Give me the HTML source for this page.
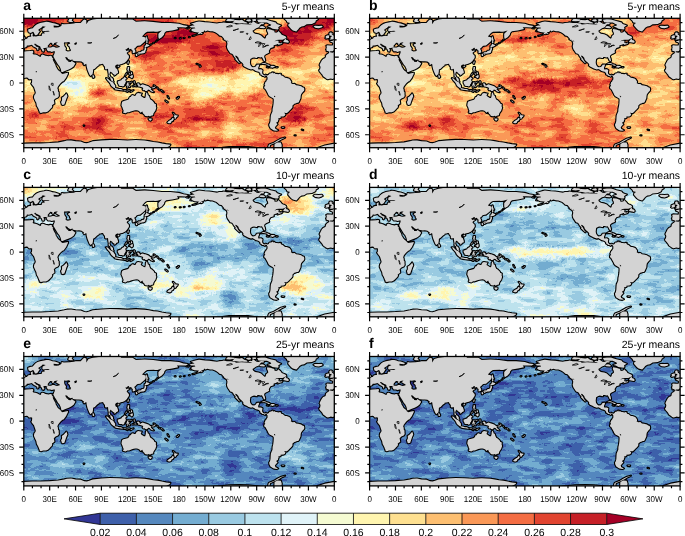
<!DOCTYPE html><html><head><meta charset="utf-8"><style>html,body{margin:0;padding:0;background:#fff}body{width:685px;height:536px;overflow:hidden}svg{display:block}text{font-family:"Liberation Sans",Arial,Helvetica,sans-serif;fill:#000;text-rendering:geometricPrecision}</style></head><body>
<svg width="685" height="536" viewBox="0 0 685 536">
<defs>
<clipPath id="mc"><rect x="0" y="0" width="310.5" height="129.4"/></clipPath>
<filter id="bl" x="-5%" y="-5%" width="110%" height="110%" color-interpolation-filters="sRGB"><feGaussianBlur in="SourceGraphic" stdDeviation="2.6" result="b"/><feTurbulence type="fractalNoise" baseFrequency="0.35" numOctaves="2" seed="7" result="t"/><feDisplacementMap in="b" in2="t" scale="7" xChannelSelector="R" yChannelSelector="G" result="d"/><feTurbulence type="fractalNoise" baseFrequency="0.06 0.16" numOctaves="3" seed="11" result="t2"/><feColorMatrix in="t2" type="matrix" values="1 0 0 0 0 1 0 0 0 0 1 0 0 0 0 0 0 0 0 1" result="g"/><feComposite in="d" in2="g" operator="arithmetic" k1="0" k2="1" k3="0.3" k4="-0.15" result="v"/><feComponentTransfer in="v"><feFuncR type="discrete" tableValues="0.1922 0.2431 0.3333 0.4549 0.6000 0.7412 0.8784 0.9608 1.0000 0.9961 0.9922 0.9804 0.9569 0.8824 0.7765 0.6471"/><feFuncG type="discrete" tableValues="0.2118 0.3765 0.5333 0.6784 0.7922 0.8863 0.9529 0.9843 0.9608 0.8784 0.7490 0.5961 0.4275 0.2667 0.1255 0.0000"/><feFuncB type="discrete" tableValues="0.5843 0.6667 0.7451 0.8196 0.8824 0.9333 0.9725 0.8235 0.6863 0.5647 0.4431 0.3412 0.2627 0.1882 0.1529 0.1490"/><feFuncA type="linear" slope="0" intercept="1"/></feComponentTransfer></filter>
<g id="land"><path d="M-145.3 18.9L-144.5 18.7L-144.6 18.6L-145.4 18.8ZM-150.5 19.8L-149.6 19.6L-149.8 19.5L-150.6 19.7ZM-154.4 20.1L-153.5 19.9L-153.7 19.8L-154.5 20ZM-159.6 19.9L-158.7 19.8L-158.9 19.6L-159.6 19.8ZM126.8 26.4L127.7 26.1L127.5 25.9L126.7 26.3ZM129.4 24.9L130.2 24.6L130.1 24.5L129.3 24.8ZM132 23.3L132.8 22.9L132.7 22.8L131.9 23.2ZM133.7 21.7L134.6 21.4L134.4 21.3L133.6 21.6ZM-52.6 109L-50 109.1L-50.5 109.6L-52 109.6ZM-32.6 111.4L-31.1 111.8L-31.6 111.6ZM-39.8 117L-38.6 117.1L-39.2 117.2ZM-134.6 47.3L-133.5 47.9L-134.4 48.4L-134.6 47.7ZM-137.8 45.5L-136 46.1L-134.6 46.7L-135.7 46.4ZM-148.2 9.7L-145.8 10.2L-145.6 10L-147.5 10ZM-144 12.8L-142.7 13L-143.6 12.6ZM59.8 107.1L60.5 107.2L60.1 107.5ZM-5.1 33.8L-1.7 34.4L0.9 33.2L2.6 33L6.5 32.8L8.6 32.5L9.5 32.9L9.1 33.8L9.6 34.3L8.7 35.2L9.7 36.1L11.4 36.3L13.2 36.8L16.4 38.6L17.3 38L17.2 37.1L18.5 36.3L19.9 36.6L21.6 37.4L25 38L26.3 37.5L27.9 37.7L29.5 37.7L30.1 39.3L29.6 40.7L28.8 41.1L30.2 44L31.7 46.6L31.8 47.8L32.9 49.6L33.8 51.2L35.2 52.6L36.7 53.5L37.2 54.7L38.8 55.7L41.4 55L44.2 54.5L44.1 55.7L43.1 57.8L42.3 59.5L41.4 60.8L39.7 63L39.1 63L37.5 64.3L36.7 65L35.3 66.7L34.2 68.2L33.5 70L33.9 70.6L34.1 71.6L34.2 73.3L34.9 73.9L34.9 75.9L35.1 77.6L34.1 79.1L31.8 80.1L30 81.8L30.4 83.7L30.6 85.3L28.9 86.5L28.1 87L28.4 88L27.9 89.4L26.7 90.5L25.7 91.7L24.1 93.2L22.1 94L19.4 94L17.2 94.7L15.9 94.2L15.9 93.2L15.5 92.7L14.9 91L14.2 89.4L13.1 87.6L12.5 84.5L11.5 82.6L10.2 79.6L10.2 78.5L10.6 76.8L11.6 75.6L12 74.2L11.4 72.3L10.6 69.9L10.2 68.8L9.1 67.5L7.5 65.2L8.2 64.4L8.3 63L8.4 61.2L7.3 60.8L6 60.9L5.2 61L3.9 59.4L2.9 59.2L1.3 59.4L-0.2 60L-1.8 60.6L-3.5 60.1L-4.7 60.4L-6.5 60.9L-7.8 60.4L-9.3 59.3L-10.8 58.3L-11.4 57.4L-11.8 56.5L-12.6 55.6L-13.5 54.4L-14.5 53.5L-15.1 52L-14.2 50.9L-13.8 49.1L-14 47.9L-14.7 46.8L-14.1 45.3L-13.4 44L-12.5 42.2L-11.1 40.6L-9.1 39.7L-8.3 38.5L-8.5 37.5L-7.3 36.1L-6.6 35.7L-5.9 35.4L-5.2 34.1ZM42.5 75.1L43.1 76.3L43.6 77.9L43 79.4L42.6 80.2L42 82L41.4 83.7L40.6 86.2L39 86.7L38 86.3L37.7 84.9L37.3 83.7L38.2 82.2L38.3 80.2L38 79.4L39.9 78.2L41.2 76.8L41.8 76.3ZM-4.8 33.6L-5.4 33.2L-6.4 32.6L-7.7 32.8L-7.6 31.3L-8.2 31.2L-7.7 30L-7.5 29.2L-7.7 28L-8 27.6L-6.9 27L-4.3 27.2L-1.6 27.3L-1.2 26.2L-1 25L-1.9 24L-3.9 23.4L-4.1 22.9L-2.6 22.6L-1.4 22.7L-1.6 21.8L0 22.1L1.4 21L2.2 20.6L3.1 20.4L3.9 19.6L4.1 19L6 18.5L7.3 18.5L7.4 17.4L7 16.8L7.1 15.8L9.1 14.9L8.9 16.2L9.2 16.8L8.5 17.4L9.4 18.1L10.4 17.9L12.2 18.2L14.2 17.7L16 17.5L17.2 17.6L18.2 17.1L18.1 16L19 15L20.8 15.5L20.3 14.2L21.3 13.5L24.2 13.4L26 13L24.6 12.5L21.6 12.8L19.2 12.9L18.5 12.1L18.9 10.1L21.9 8.5L18.9 7.9L17.5 9.5L15.9 10.4L14.7 11.2L14.7 12.3L16.1 13.1L15.6 13.5L14.2 15.5L13.8 16.2L12.2 16.9L11.1 16.7L10.8 16L10.3 14.9L9.7 13.8L9.1 13.4L6.9 14.7L4.9 13.9L4.5 12.6L4.3 11.2L6.5 10.4L9 10L10.4 8.2L12.1 6.6L13.8 5.6L16.3 4.7L20.3 3.9L22.3 3.4L24.6 3.6L26.7 4.1L28.5 4.8L31.1 5.1L35.4 6.6L34.5 7.8L29.8 7.3L30 9.1L32.7 9.3L34.9 9L37.5 7.6L38 5.6L40.1 6L45.7 5.7L50 5.3L51.8 4.7L56.9 4.7L59.1 2.2L60.4 1.3L62.5 1.9L62.5 6L64.7 2.6L69 1.3L75 0.4L81.9 -1.3L94.9 -1.7L97.5 1.3L108.7 1.3L112.1 3.5L120.8 3L129.4 3.6L138 4.7L146.6 4.7L155.2 5.5L159.6 6.9L163.9 7.6L164.1 7.7L162.2 9.1L157 8.9L153.1 8.9L154.4 10.8L148.3 12.1L142.3 12.9L140.6 14.7L140.2 16.4L138 19L135.2 20.7L134.6 19L134.6 15.5L138 12.1L133.7 13.4L131.1 13.5L130.1 13.3L123.3 13.5L121.4 14.7L118.2 18.1L121.9 19.1L122 21.6L121 23.3L119 25L116.4 27.2L113.8 27.5L112.7 28.2L111.9 29.3L110.4 30.4L111.6 32.8L111.5 34.2L109.1 35L108.8 33.6L109.2 32.4L108 31.9L107.4 30.4L104.9 31.1L105.4 29.8L104.4 29.5L102.6 30.9L101.5 31.1L102.5 32.4L102.8 32.7L104.1 32.1L105.7 32.5L103.8 33.6L102.8 34.8L104.2 36.7L105.1 37.4L105.1 38.1L105.2 39L104.7 40.1L103.5 41.8L102.9 42.7L101.5 44L100.5 44.7L98.5 45.5L97.9 45.6L95.7 46.2L95.1 47.2L94.6 46.2L93.6 46.1L92 46.8L91.3 48.3L92 50L93.3 50.8L94.2 53.5L94.2 54.8L92.3 55.7L91.9 56.5L90.6 57.3L90.6 56.1L89.3 55.6L88.2 54.2L87 53.7L86.7 53.1L86.2 53.9L85.6 56.1L86.6 58.5L87.5 59.1L88.2 59.4L89.2 60.9L89.2 62.5L89.9 63.5L89.2 63.5L87.4 62.3L86.5 60L86.6 59.1L84.8 57.9L85 56.1L84.5 53.5L84.2 50.5L82.2 51.1L81.3 50.6L81.2 48.5L80.1 47.3L79.2 45.5L78.1 45.7L76.8 46L75 46.3L75 47L73.3 48.1L71 50.4L69.3 51.3L69.2 53.5L68.8 55.8L67.4 57L66.8 57.7L65.8 56.5L64.7 53.9L63.7 51.4L62.9 48.3L62.7 46.5L62.4 45.5L60.4 46.8L59.5 45.5L60.4 44.9L59.1 44.3L57.8 43.3L55.2 42.9L53.1 43L50.7 42.7L49.4 42.4L48.6 41.2L46.6 41.8L44.4 40.6L43.4 39.3L42.1 38.8L41.4 39.3L42.8 41.4L43.3 42.3L44.4 42.2L44.5 43.5L46.9 43.7L48.3 42.3L48.6 41.9L48.6 43.2L50.5 44.3L51.6 45.3L50.5 47L49.8 48.3L47.4 50L45 51.2L42.3 52.2L38.8 53.7L37.6 53.7L37.2 51.8L36.9 50.5L35.7 47.9L34.2 46.2L32.7 43.6L30.9 40.7L30.2 39.3L29.6 40.7L28 38.8L27.9 37.8L29.8 37.4L30 37L30.3 36.1L30.6 35.5L31 34.1L31.1 33L29.8 33L28 33.6L26.4 33L24.2 33L23.5 32L22.9 30.8L22.6 30.1L25 29.3L27.2 29.2L28.7 28.5L30.4 28.5L31.3 29.1L33.2 29.4L35.9 28.8L36 28L34.2 27.1L32.6 26.1L31.7 25.7L33 25L33.9 24L32.2 24.2L30.4 24.7L30 25.3L30.5 25.8L28.9 26.4L27.9 25.5L29 24.8L26.7 24.4L26.3 24.6L25.5 25.6L24.6 26.6L23.9 27.4L24.1 28.8L25 29.2L22.6 29.5L20.7 29.6L19.8 29.8L19.5 29.9L19.8 30.8L20.7 31.9L19.8 32.4L20 33.3L19.4 33.3L18.7 33L18.4 32.1L18.2 31.7L17.9 30.9L17.1 30.3L16.7 29.8L16.8 28.6L16 28L14.2 27.2L13.1 26.5L12.1 26L11.7 25.4L10.6 25.5L10.7 26.6L11.7 27.1L12.2 28.1L13.8 28.6L14.6 29.2L16 30.1L14.8 29.8L14.3 30.5L14.7 31.1L13.9 31.9L13.5 31.7L13.6 30.6L12.9 30L12.3 29.5L10.8 28.8L9.6 28.1L8.9 27.2L7.7 26.4L6.3 27L4.7 27.3L3.5 27.2L2.7 27.6L2.8 28.6L1.9 29L0.8 29.3L-0.3 30.6L0.2 31.3L-0.4 31.7L-0.7 32.3L-1.8 33L-3.8 33ZM-4.9 21.5L-3 21.3L-0.9 21L1.2 20.5L1.5 19.3L0.3 18.6L-0.1 17.7L-1.3 16.8L-1.7 16.4L-2.6 16.4L-1.8 15.4L-1.6 15L-3 14.9L-2.6 14.1L-4.3 14.1L-5 15.1L-4.8 16.1L-4.9 17L-4.1 17.4L-2.9 17.3L-3.1 17.7L-2.6 18.3L-2.7 18.7L-4 18.7L-3.6 19.2L-3.5 19.6L-4.6 20L-2.8 20.4L-3.6 20.5ZM-5.2 19.7L-5.3 18.7L-5.2 17.7L-5.1 17.1L-6.3 16.9L-7.3 17.3L-8.6 17.9L-8.5 18.6L-8 18.9L-9 19.8L-8.3 20.3L-6.9 20L-5.5 19.7ZM-19 9.5L-20.7 8.2L-19.4 7.4L-15.5 7.6L-12.5 7.4L-11.6 8.5L-12.9 9.2L-15.5 10L-18.1 9.7ZM44.4 3L46.1 3.7L49.6 3.8L47.9 2.2L48.7 0.4L50.9 -0.7L46.6 -0.7L44.9 1.7ZM112.9 35.4L113.9 35.1L116.4 34.9L116.5 35.5L118.1 35.1L119.7 34.9L120.6 34.6L121.5 33.9L121.6 32.8L122.1 31.7L122.5 30.6L122 29L121 29.2L120.8 30.2L120.6 31.5L119.5 32.5L118 32.5L117.3 33.8L114.7 34L113.4 34.9ZM120.8 28.9L121.8 28.6L123.5 28.5L125.8 27.3L125.3 26.6L122.4 25.4L122 26.9L121 27.4ZM112 35.8L113 35.5L113.8 36.7L113.2 37.7L112.4 37.8L111.9 36.6ZM114.3 36L115.1 35.1L116.2 35.2L115.8 36L114.7 36.5ZM122.5 25L123.8 24.6L123.5 22L124.6 22.4L123.6 20.7L123.3 19L123 17.9L122.5 18.5L122.2 20.3L122.6 22.4L122.4 24.5ZM104.4 43L105.2 43.1L104.4 45.7L103.7 45.1L103.6 44.4ZM93.7 48.1L95 47.4L95.7 47.8L94.5 49L93.8 48.7ZM68.9 56.5L69.2 56.2L70 57.4L70.6 58.7L69.9 59.5L69 59.4L68.8 57.8ZM104 48.7L105.4 48.7L105.2 50.9L104.9 51.8L105.2 52.6L107 53.5L106.3 53.5L104.4 52.8L104 52.3L103.5 50.9L103.8 50.5ZM105.2 58.7L106.5 58L107.8 56.9L108.9 56.7L109.1 58.7L108.7 59.3L108.1 59.9L107 59.1L105.7 58.2ZM107.2 53.8L108.2 54.1L108.4 55.2L107.8 56.1L107.2 55.5ZM105.2 54.5L106.2 55L105.7 55.6L105.1 55.6ZM105.7 55.4L106.5 55.6L106.3 56.8L105.6 56.3ZM106.9 55L107 55.3L106.4 56.4ZM103.9 53.1L104.8 53.3L104.5 54.2L103.8 53.8ZM102.6 54.9L103.2 55.5L102.4 56.4L101.1 57.5L101.3 57.2ZM94 63.1L94.5 63L95.9 62.5L97.5 61.9L98.3 60.7L99.5 60.1L100.1 59.5L100.7 58.7L101.5 59.2L102.9 60.1L101.9 60.7L101.5 61.5L101.8 62.8L102.6 63.8L101.7 64L101.3 65.4L100.6 66L100.5 66.9L100.1 67.8L98.8 68.2L98.3 67.6L96.4 67.6L95.1 67.2L94.9 66.2L94 64.7ZM82.2 59.9L84.1 60.2L85.1 61.4L86.6 62.8L88 63.5L89.5 64.3L90.1 65.6L91.4 67.3L91.3 69.7L90.2 69.8L88.2 68.2L87.1 66.9L86.5 65.4L85.4 63.8L84.1 62.5ZM90.7 70.6L91.4 69.8L93.4 70.1L95.2 70.7L97.2 70.7L98.7 71.4L98.8 72.2L95.7 71.8L93.2 71.4L91.7 71.1ZM98.8 71.7L99.8 71.9L99.4 72.3ZM100.1 71.9L102.6 71.8L102.6 72.3L100.1 72.4ZM103.3 72L106.1 71.8L105.9 72.2L103.4 72.3ZM102.6 72.9L104.2 73.2L103.8 73.6L102.6 73.2ZM106.5 73.6L107.4 72.6L109.8 71.9L107.8 73.2ZM103.1 69.5L103.8 69.4L103.8 67.1L104.4 67L105.2 68.8L106.3 68.8L105.6 67.5L104.6 66.3L106.3 65.6L104.9 65.4L103.8 64.3L104.8 64.3L106.5 63.9L108 63.3L107.4 64.4L104.4 63.7L103.5 64.1L103.3 64.9L102.9 66L102.5 67.1L103.2 67.8ZM110 63.1L110.4 62.8L111 63.4L110.6 64.3L111.1 64.4L110.3 65.4L110 64.3ZM110.3 67.3L112.1 67.1L112.8 68L110.6 67.8ZM108.7 67.5L109.7 67.5L109.4 68.1L108.7 67.9ZM113 65.8L113.2 65.4L114.3 65L115.6 65.5L115.7 66.4L116.4 67.5L117.3 66.7L118.9 66L120.8 66.8L121.6 66.9L124.6 68L125.8 69L127.2 70L127.6 70.5L126.8 70.9L127.7 71.8L129 73L130.1 73.8L128.9 73.7L127 72.9L125.9 71.6L124.2 71.3L123.6 72.5L122.9 72.7L121.6 72.6L120.8 71.7L119.5 71.9L118.8 71.1L119.5 70.6L118.9 69.3L116.4 68.5L115.1 68.1L114.5 68.2L113.9 67.2L114.9 66.8L113.9 66.4ZM127.9 69.4L129.4 69L130.7 68.8L131.3 68.3L131.1 69.4L129.8 70L128.1 69.9ZM129.8 66.9L131.1 67.5L132.1 68.7L131.8 68.8L130.9 68ZM133.3 69L134.1 69.7L134.6 70.6L133.9 70.3ZM135 71.2L136.3 71.8L135.7 72ZM137.1 71.6L138.9 72.6L138.4 73L137.1 72.1ZM138 72.7L138.7 73.2L138.2 73.2ZM139 73.5L140 73.9L139.3 74ZM143.6 77.6L144.3 78.1L144 78.9L145.2 80L145.3 80.2L144.5 78.8ZM141.5 82.1L142.7 82.8L144 83.9L143.6 84.1L141.9 82.8ZM152.9 79.8L154 79.6L154 80.4L153 80.3ZM154.2 78.8L155.2 78.6L155.2 79.2L154.4 79.3ZM149 94.4L150.3 95.2L150.8 96.4L151.4 96.2L151.8 97L154 97.2L153.4 98.5L152.6 98.8L152 100.1L151.1 100.6L150.8 100.3L150.9 99.2L149.9 98.5L150.6 97.5L150.5 96.5L149.6 95.3ZM149 99.6L149.6 100.1L150.3 100.2L150.2 100.8L149.6 101.5L149 102.3L149.3 102.5L147.9 102.8L147.3 104.3L146.3 104.9L145.2 104.9L143.6 104.4L143.9 103.7L145.1 102.7L146.6 101.8L147.7 101.3L148.2 100.5L148.4 99.9ZM124.8 100.2L127.8 100.2L127.9 101.3L126.8 102.4L125.6 102L124.9 100.8ZM98.4 83.5L97.9 85.4L97.7 87.1L98.8 89.5L99.2 91L99.8 92.3L99.7 93.4L99.2 93.7L99.2 94.3L101.7 95L103.5 93.9L105.2 93.9L107 93.2L108.7 92.6L111.3 92L113.2 91.9L114.7 92.4L115.7 93.1L116.8 94.5L117.3 94L118.6 93.2L118.9 94L118.2 94.9L119.1 94.2L119.5 95.4L120.5 96.2L121.2 97.5L122 97.8L123.8 98L125 97.4L126.2 98.3L127.2 97.5L129.3 97L129.5 95.5L130.4 93.9L131.5 92.5L132 91L132.5 89.4L132 88L132.2 86L130.5 85.3L130.1 84.1L128.8 82.8L128 82L126.6 81.3L125.9 79.8L125.4 78.5L125.3 77.6L123.9 76.8L123.8 75.7L122.9 73.9L122.1 75.5L122 77.6L121.4 79.8L120.1 79.7L118.2 78.4L116.9 77.5L117.3 76.3L118 75.2L116.9 75.1L114.4 74.6L113 75.2L112.8 75.5L112.3 76.2L111.7 77.5L110.4 77.6L109.1 76.8L107.8 77.3L107 78.8L106 78.8L105.4 80.2L104.4 81.5L102.6 82L100.9 82.5L100.1 82.6ZM-66.8 57.2L-65.5 56.5L-65.1 55.7L-64.5 55.2L-63 55L-62 54L-61.4 54.7L-61.2 55.2L-60.4 54.8L-60.5 54.3L-59.9 54.8L-58.7 55.6L-57.7 55.6L-55.6 55.9L-54.3 55.5L-53.4 55.5L-53.9 56L-52.6 57.4L-51.6 57.5L-50.2 58.8L-49.2 59.5L-47.6 59.6L-45.1 60.5L-44.4 61.1L-43.1 63.1L-43.1 64.3L-43.6 64.7L-41.8 65.8L-39.7 65.6L-38.2 66.9L-36.1 67.2L-33.2 67.9L-31.9 68.9L-30.4 69.4L-30 70.8L-30.2 72.5L-31.5 73.8L-33.2 75.9L-33.6 77.6L-33.8 80L-34.8 82.2L-35.4 83.7L-36.2 84.5L-37.3 84.5L-38.8 85.2L-39.9 85.4L-41.8 87.1L-41.9 89.3L-43.4 91L-45 92.5L-46.1 93.8L-47.4 94.8L-48.5 94.8L-49.9 94.5L-50.4 94.5L-49.4 95.3L-48.9 96.1L-49.6 97.5L-50.9 98.1L-53.7 98.3L-53.7 99.6L-56.1 99.9L-55.6 101.2L-56.1 101.8L-56.3 103.2L-58.2 104.4L-56.8 105.9L-58.2 107.4L-59.5 109.1L-59 109.8L-59.1 110.4L-56.2 111.9L-57.8 112.4L-60.4 112.1L-61.2 111.7L-63.8 110L-64.9 107.8L-65.1 106.1L-64.3 104.8L-63.8 102.7L-63.7 101.4L-63.6 99.2L-63.4 97L-62.7 95.3L-61.8 93.2L-61.7 90.6L-61.1 88L-60.7 85.1L-60.5 82L-60.6 80.5L-61.7 79.6L-64.7 77.9L-65.8 76.6L-66.4 75.1L-68.1 72L-68.9 70.6L-70 69.9L-70.1 68.7L-69.3 67.6L-68.9 67.2L-69.8 66.6L-69.1 64.7L-69 64L-68.1 63.4L-67.8 62.5L-66.8 61.3L-66.7 59.1L-67.2 58.5ZM-66.8 57.2L-68.6 56.4L-69.9 57.1L-70.7 56.8L-72 55.4L-72.2 53.9L-71.8 51.8L-73.3 50.9L-75.9 51.1L-76.2 49.6L-75.5 47.9L-75 46.2L-77.6 46.4L-78.1 47.6L-79.4 48.7L-81.5 49L-82.9 48.1L-84.1 46.2L-84.4 44L-84 40.7L-81.8 39.4L-80.2 39.1L-78.1 39.6L-76.9 39.7L-77.2 38.6L-75.5 38.6L-73.7 39.1L-72.5 38.8L-71.3 40.5L-70.6 42.2L-69.7 43L-69.1 42.4L-69.5 40.1L-70.2 38.6L-69.9 37.1L-68.1 35.7L-67.2 35.4L-65.1 34.3L-65.5 32.8L-65.2 32L-64.7 31.2L-63.8 29.8L-62.1 29.3L-60.8 28.8L-60.4 28.6L-60.9 28L-60.5 27L-58.7 26.4L-57.7 26.1L-56.9 25.7L-55.6 25.6L-56.8 27L-54.8 26.3L-52.6 25.7L-51.9 24.8L-53 24.2L-52.6 25.3L-55.6 24.8L-55.9 23.5L-55.4 22.6L-57.4 22.3L-59.9 23.3L-57.8 21.7L-55.2 21.4L-51.8 21.4L-49.2 20.3L-48 19.7L-48.3 18.5L-49.6 17.7L-51.3 17L-52.6 16.4L-53.5 15.1L-55.2 13.4L-55.8 12.7L-56.5 13.8L-58.2 14.4L-59.9 14L-59.9 12.5L-61.7 11.9L-63.8 11.2L-67 10.8L-67.3 12.5L-66.4 14.2L-66 16L-68.1 17.7L-68.6 19.8L-69.4 20.4L-71.2 19.1L-73.3 17.1L-75.9 16L-79.4 15.4L-81.2 14L-81.8 12.5L-80.2 11.4L-78.1 9.9L-75.9 9.3L-75 8.4L-74.3 7.3L-73.1 6L-70.7 6L-70.3 4.7L-73.3 4.5L-75.9 5.6L-77.6 5.3L-81.5 2.6L-82.8 6L-84.5 6.2L-88.8 6L-93.2 5.8L-98.3 6.2L-99.6 5.3L-103.5 4.8L-107.4 4.8L-110.4 4.1L-112.1 4.5L-115.1 4.7L-117.3 5.3L-121.6 4.7L-125.1 4.2L-129.4 3.9L-135.2 3.2L-138 3.8L-140.6 4.6L-143.3 5.3L-141.5 6L-139.7 7.1L-141.9 7.3L-144.9 8.1L-143.2 9.1L-139.7 9.1L-138.9 9.9L-141.9 10.4L-143.2 11.6L-141.9 12.9L-139.7 13.8L-136.3 14.1L-135.4 14L-136.7 16L-139.7 17.3L-141.9 17.6L-139.7 17L-136.3 16L-133.7 15.1L-132.4 13.8L-130.9 13.6L-129.8 11.9L-128.9 13.1L-126.8 12.2L-124.2 12.9L-121.6 13L-119 14L-117.7 14.7L-116 16L-114.7 17.3L-112.6 17.7L-110.4 20.3L-110 21.1L-108.2 21.6L-106.3 22.4L-105.7 23.3L-107.6 22.9L-107 24.8L-107 26.7L-107.4 27.8L-107.1 29.8L-106.1 31.9L-105.7 32.2L-105.1 33.2L-104 34.9L-102.2 35.4L-101.1 36.5L-100.7 37.5L-99.9 38.6L-98.5 40.1L-99.1 40.8L-96.8 43.1L-94.9 44.9L-94.4 44.4L-95.1 43.8L-96.2 42.3L-97.3 40.1L-98.8 38.4L-99 37.3L-97.5 37.8L-95.7 39.7L-95.7 40.6L-94.3 42.6L-91.8 44.7L-90.8 46.2L-91.1 47.1L-90 48.2L-87.1 49.6L-86.2 50.2L-83.2 51.2L-81.9 50.7L-80.2 51.5L-78.5 52.7L-76.8 53.1L-75.5 53.5L-74.6 54.3L-73.9 55.2L-74 56.1L-72.9 56.5L-72 57.5L-70.7 57.6L-69.3 58.4L-69 57.5L-68.6 57L-67.5 57.5L-67.2 58.5ZM-53.3 7.2L-55.2 8.2L-56.1 9.1L-55.6 10.4L-56.5 11.2L-58.7 11L-61.7 10.4L-64.3 9L-66.8 8.4L-63.4 7.3L-63 6.5L-64.7 5.6L-67.3 4.3L-72 4.3L-75.9 3.9L-77.2 1.5L-73.3 1L-69 1.1L-66.4 1.9L-63.8 2.8L-60.4 3.6L-58.7 4.1L-57.5 5.6L-55.2 6.5ZM-69 9.5L-70.3 9.9L-73.7 9.7L-75 9.1L-73.7 7.9L-72 7.8L-70.3 8.2ZM-86.7 5.2L-90.1 5.3L-91.9 5L-94.9 5.3L-97.9 4.7L-101.3 4.4L-101.8 3.6L-100.1 3L-101.3 2.2L-99.2 1.6L-94.9 1.9L-92.3 1.5L-90.1 3.2L-87.5 4.1ZM-104.4 3L-108.1 2.7L-107.4 1.3L-106.1 0.5L-101.8 0.9L-99.6 1.3L-101.3 2.6ZM-83.7 3L-85.8 3.2L-88.4 2.2L-87.1 1.3L-84.5 0.9L-83.2 1.7ZM-78.5 2.6L-81.5 2.6L-82.4 1.3L-80.2 0.7L-78.1 1ZM-82.4 5.3L-85 5.6L-85.8 4.7L-83.7 4.3L-82.4 4.7ZM-90.6 -0.4L-91.4 0.2L-94.9 0.4L-99.2 0.4L-100.9 -0.4ZM-69 -0.4L-69 0.3L-75.9 0.5L-79.4 0.2L-82.8 -0.4ZM-83.7 -0.4L-85 0.2L-87.1 0L-87.5 -0.4ZM-38 13.1L-41.4 12.1L-43.1 10.8L-44.4 9.3L-46.1 7.3L-45.7 5.6L-44 4.7L-47 3.9L-47.4 2.6L-49.2 0.9L-50.5 -0.4L-50.5 -1.3L-17.2 -1.3L-17.2 -0.4L-16.4 0.9L-18.5 2.2L-19 3.9L-22.4 5.6L-27.6 6L-30.2 7.8L-32.8 8.2L-34.9 9.5L-36.2 11.2L-37.5 12.5ZM-45.4 23.7L-46.1 24.5L-47.9 24.2L-51.2 23.6L-50.5 22.4L-49.6 21.1L-47.9 20.2L-48.3 21.6L-46.6 22L-45.7 22.9ZM-73.3 45.8L-71.6 44.9L-71 44.7L-69.4 44.8L-66.8 45.9L-65.2 46.5L-63.9 47.3L-65.1 47.5L-67 47.5L-66.4 46.8L-67.7 46.2L-69.4 45.8L-70.3 45.5L-71.2 45.7L-72.5 45.6ZM-64.3 48.8L-62.8 47.5L-60.4 47.6L-58.9 48.7L-60.3 48.8L-61.7 49.5L-62.8 49.1L-64.2 49ZM-67.5 48.8L-65.7 49.2L-66.2 49.3L-67.3 49ZM-58 48.7L-56.6 48.9L-56.8 49.2L-58 49.2ZM-110.7 20.9L-107.8 21.6L-106.3 22.9L-107.6 22.8L-109.5 21.6ZM-133.3 14.7L-131.4 14.7L-132.4 15.5L-133.3 15.7ZM-155.2 131.6L-146.6 132L-136.3 132L-129.4 131.1L-120.8 130.3L-112.1 129.6L-105.2 128.8L-94.9 128.7L-86.2 128.8L-79.4 129.6L-73.3 130.3L-66.4 130.3L-65.7 127.1L-65.1 126.2L-60.4 124.4L-56.9 122.3L-53.5 120.4L-49.2 119.2L-49.9 119.7L-53 121.1L-55.6 122.8L-58.2 124.1L-64.3 126.8L-64.9 130.3L-60 130.3L-59.7 125.6L-56.9 124.1L-53.5 124.2L-52.6 126.8L-52.8 130.3L-51.8 132L-34.5 132L-25.9 131.1L-17.2 129.9L-9.5 127.2L0 125.4L8.6 125.1L17.2 125.1L25.9 124.7L34.5 124.1L40.5 122.9L43.1 122.3L47.4 122.1L51.8 122.9L56.9 123.2L60.4 124.7L63 124.9L65.5 124.2L69 122.9L77.6 122.1L86.2 121.6L94.9 121.8L103.5 122.3L112.1 121.8L120.8 122.3L125.1 122.9L129.4 123.8L133.7 124.2L138 125.1L142.3 125.9L146.6 126.4L145.8 127.7L142.3 129.4L140.6 131.1L146.6 132L155.2 132L155.2 142.3L-155.2 142.3ZM40.1 24L42.3 24.2L44.8 23.8L46.1 24.2L46.4 25.4L44.7 25.8L44.5 26.5L43.9 26.5L44.9 27.6L46 28.5L46.1 29.3L46.2 30.2L47 31.1L47 32.7L44 33.3L42 32.5L41.8 31.5L42.2 30L41.3 28.6L40.5 27.6L40.5 26.3L40 25.4L40.5 24.8ZM50.5 24.6L53 24.6L52.6 26.3L50.9 26.7ZM165.2 18.9L166 18.7L165.9 18.6L165.1 18.8ZM160 19.8L160.9 19.6L160.7 19.5L159.9 19.7ZM156.1 20.1L157 19.9L156.8 19.8L156 20ZM150.9 19.9L151.8 19.8L151.6 19.6L150.9 19.8ZM437.3 26.4L438.2 26.1L438 25.9L437.2 26.3ZM439.9 24.9L440.7 24.6L440.6 24.5L439.8 24.8ZM442.5 23.3L443.3 22.9L443.2 22.8L442.4 23.2ZM444.2 21.7L445.1 21.4L444.9 21.3L444.1 21.6ZM257.9 109L260.5 109.1L260 109.6L258.5 109.6ZM277.9 111.4L279.4 111.8L278.9 111.6ZM270.7 117L271.9 117.1L271.3 117.2ZM176 47.3L177 47.9L176.1 48.4L175.9 47.7ZM172.7 45.5L174.5 46.1L176 46.7L174.8 46.4ZM162.3 9.7L164.7 10.2L164.9 10L163 10ZM166.5 12.8L167.8 13L166.9 12.6ZM370.3 107.1L371 107.2L370.6 107.5ZM305.4 33.8L308.8 34.4L311.4 33.2L313.1 33L317 32.8L319.1 32.5L320 32.9L319.6 33.8L320.1 34.3L319.2 35.2L320.2 36.1L321.9 36.3L323.7 36.8L326.9 38.6L327.8 38L327.8 37.1L329 36.3L330.4 36.6L332.1 37.4L335.5 38L336.8 37.5L338.4 37.7L340 37.7L340.6 39.3L340.1 40.7L339.3 41.1L340.7 44L342.2 46.6L342.3 47.8L343.4 49.6L344.3 51.2L345.7 52.6L347.2 53.5L347.7 54.7L349.3 55.7L351.9 55L354.7 54.5L354.6 55.7L353.6 57.8L352.8 59.5L351.9 60.8L350.2 63L349.6 63L348 64.3L347.2 65L345.8 66.7L344.7 68.2L344 70L344.4 70.6L344.6 71.6L344.7 73.3L345.4 73.9L345.4 75.9L345.6 77.6L344.6 79.1L342.3 80.1L340.5 81.8L340.9 83.7L341.1 85.3L339.4 86.5L338.6 87L338.9 88L338.4 89.4L337.2 90.5L336.2 91.7L334.6 93.2L332.6 94L329.9 94L327.8 94.7L326.4 94.2L326.4 93.2L326 92.7L325.4 91L324.7 89.4L323.6 87.6L323 84.5L322 82.6L320.7 79.6L320.7 78.5L321.1 76.8L322.1 75.6L322.5 74.2L321.9 72.3L321.1 69.9L320.7 68.8L319.6 67.5L318 65.2L318.7 64.4L318.8 63L318.9 61.2L317.8 60.8L316.5 60.9L315.7 61L314.4 59.4L313.4 59.2L311.8 59.4L310.3 60L308.7 60.6L307.1 60.1L305.8 60.4L304 60.9L302.7 60.4L301.2 59.3L299.7 58.3L299.1 57.4L298.7 56.5L297.9 55.6L297 54.4L296 53.5L295.4 52L296.3 50.9L296.7 49.1L296.5 47.9L295.8 46.8L296.4 45.3L297.1 44L298 42.2L299.4 40.6L301.4 39.7L302.2 38.5L302 37.5L303.2 36.1L303.9 35.7L304.6 35.4L305.3 34.1ZM353 75.1L353.6 76.3L354.1 77.9L353.5 79.4L353.1 80.2L352.5 82L351.9 83.7L351.1 86.2L349.5 86.7L348.5 86.3L348.2 84.9L347.8 83.7L348.7 82.2L348.8 80.2L348.5 79.4L350.4 78.2L351.7 76.8L352.3 76.3ZM305.7 33.6L305.1 33.2L304.1 32.6L302.8 32.8L302.9 31.3L302.3 31.2L302.8 30L303 29.2L302.8 28L302.5 27.6L303.6 27L306.2 27.2L308.9 27.3L309.3 26.2L309.5 25L308.6 24L306.6 23.4L306.4 22.9L307.9 22.6L309.1 22.7L308.9 21.8L310.5 22.1L311.9 21L312.7 20.6L313.6 20.4L314.4 19.6L314.6 19L316.5 18.5L317.8 18.5L317.9 17.4L317.5 16.8L317.6 15.8L319.6 14.9L319.4 16.2L319.7 16.8L319 17.4L319.9 18.1L320.9 17.9L322.7 18.2L324.7 17.7L326.5 17.5L327.7 17.6L328.7 17.1L328.6 16L329.5 15L331.3 15.5L330.8 14.2L331.8 13.5L334.7 13.4L336.5 13L335.1 12.5L332.1 12.8L329.7 12.9L329 12.1L329.4 10.1L332.4 8.5L329.4 7.9L328 9.5L326.4 10.4L325.2 11.2L325.2 12.3L326.6 13.1L326.1 13.5L324.7 15.5L324.3 16.2L322.7 16.9L321.6 16.7L321.3 16L320.8 14.9L320.2 13.8L319.6 13.4L317.4 14.7L315.4 13.9L315 12.6L314.8 11.2L317 10.4L319.5 10L320.9 8.2L322.6 6.6L324.3 5.6L326.8 4.7L330.8 3.9L332.8 3.4L335.1 3.6L337.2 4.1L339 4.8L341.6 5.1L345.9 6.6L345 7.8L340.3 7.3L340.5 9.1L343.2 9.3L345.4 9L348 7.6L348.5 5.6L350.6 6L356.2 5.7L360.5 5.3L362.2 4.7L367.4 4.7L369.6 2.2L370.9 1.3L373 1.9L373 6L375.2 2.6L379.5 1.3L385.5 0.4L392.4 -1.3L405.4 -1.7L408 1.3L419.2 1.3L422.6 3.5L431.2 3L439.9 3.6L448.5 4.7L457.1 4.7L465.8 5.5L470.1 6.9L474.4 7.6L474.6 7.7L472.7 9.1L467.5 8.9L463.6 8.9L464.9 10.8L458.9 12.1L452.8 12.9L451.1 14.7L450.7 16.4L448.5 19L445.7 20.7L445.1 19L445.1 15.5L448.5 12.1L444.2 13.4L441.6 13.5L440.6 13.3L433.8 13.5L431.9 14.7L428.7 18.1L432.4 19.1L432.5 21.6L431.5 23.3L429.5 25L426.9 27.2L424.3 27.5L423.2 28.2L422.4 29.3L420.9 30.4L422.1 32.8L422 34.2L419.6 35L419.3 33.6L419.7 32.4L418.5 31.9L417.9 30.4L415.4 31.1L415.9 29.8L414.9 29.5L413.1 30.9L412 31.1L413 32.4L413.3 32.7L414.6 32.1L416.2 32.5L414.3 33.6L413.3 34.8L414.7 36.7L415.6 37.4L415.6 38.1L415.7 39L415.2 40.1L414 41.8L413.4 42.7L412 44L411 44.7L409 45.5L408.4 45.6L406.2 46.2L405.6 47.2L405.1 46.2L404.1 46.1L402.5 46.8L401.8 48.3L402.5 50L403.8 50.8L404.7 53.5L404.7 54.8L402.8 55.7L402.4 56.5L401.1 57.3L401.1 56.1L399.8 55.6L398.7 54.2L397.5 53.7L397.2 53.1L396.8 53.9L396.1 56.1L397.1 58.5L398 59.1L398.7 59.4L399.7 60.9L399.7 62.5L400.4 63.5L399.7 63.5L397.9 62.3L397 60L397.1 59.1L395.3 57.9L395.5 56.1L395 53.5L394.7 50.5L392.7 51.1L391.8 50.6L391.7 48.5L390.6 47.3L389.7 45.5L388.6 45.7L387.3 46L385.5 46.3L385.5 47L383.8 48.1L381.5 50.4L379.8 51.3L379.7 53.5L379.3 55.8L377.9 57L377.3 57.7L376.3 56.5L375.2 53.9L374.2 51.4L373.4 48.3L373.2 46.5L372.9 45.5L370.9 46.8L370 45.5L370.9 44.9L369.6 44.3L368.3 43.3L365.7 42.9L363.6 43L361.2 42.7L359.9 42.4L359.1 41.2L357.1 41.8L354.9 40.6L353.9 39.3L352.6 38.8L351.9 39.3L353.3 41.4L353.8 42.3L354.9 42.2L355 43.5L357.4 43.7L358.8 42.3L359.1 41.9L359.1 43.2L361 44.3L362.1 45.3L361 47L360.3 48.3L357.9 50L355.5 51.2L352.8 52.2L349.3 53.7L348.1 53.7L347.7 51.8L347.4 50.5L346.2 47.9L344.7 46.2L343.2 43.6L341.4 40.7L340.7 39.3L340.1 40.7L338.5 38.8L338.4 37.8L340.3 37.4L340.5 37L340.8 36.1L341.1 35.5L341.5 34.1L341.6 33L340.3 33L338.5 33.6L336.9 33L334.7 33L334 32L333.4 30.8L333.1 30.1L335.5 29.3L337.7 29.2L339.2 28.5L340.9 28.5L341.8 29.1L343.7 29.4L346.4 28.8L346.5 28L344.7 27.1L343.1 26.1L342.2 25.7L343.5 25L344.4 24L342.7 24.2L340.9 24.7L340.5 25.3L341 25.8L339.4 26.4L338.4 25.5L339.5 24.8L337.2 24.4L336.8 24.6L336 25.6L335.1 26.6L334.4 27.4L334.6 28.8L335.5 29.2L333.1 29.5L331.2 29.6L330.3 29.8L330 29.9L330.3 30.8L331.2 31.9L330.3 32.4L330.5 33.3L329.9 33.3L329.2 33L328.9 32.1L328.7 31.7L328.4 30.9L327.6 30.3L327.2 29.8L327.3 28.6L326.5 28L324.7 27.2L323.6 26.5L322.6 26L322.2 25.4L321.1 25.5L321.2 26.6L322.2 27.1L322.7 28.1L324.3 28.6L325.1 29.2L326.5 30.1L325.3 29.8L324.8 30.5L325.2 31.1L324.4 31.9L324 31.7L324.1 30.6L323.4 30L322.8 29.5L321.3 28.8L320.1 28.1L319.4 27.2L318.2 26.4L316.8 27L315.2 27.3L313.9 27.2L313.2 27.6L313.3 28.6L312.4 29L311.3 29.3L310.2 30.6L310.7 31.3L310.1 31.7L309.8 32.3L308.7 33L306.7 33ZM305.6 21.5L307.5 21.3L309.6 21L311.7 20.5L312 19.3L310.8 18.6L310.4 17.7L309.2 16.8L308.8 16.4L307.9 16.4L308.7 15.4L308.9 15L307.5 14.9L307.9 14.1L306.2 14.1L305.5 15.1L305.7 16.1L305.6 17L306.4 17.4L307.6 17.3L307.4 17.7L307.9 18.3L307.8 18.7L306.5 18.7L306.9 19.2L307 19.6L305.9 20L307.7 20.4L306.9 20.5ZM305.3 19.7L305.2 18.7L305.3 17.7L305.4 17.1L304.2 16.9L303.2 17.3L301.9 17.9L302 18.6L302.5 18.9L301.5 19.8L302.2 20.3L303.6 20L305 19.7ZM291.5 9.5L289.8 8.2L291.1 7.4L295 7.6L298 7.4L298.9 8.5L297.6 9.2L295 10L292.4 9.7ZM354.9 3L356.6 3.7L360.1 3.8L358.4 2.2L359.2 0.4L361.4 -0.7L357.1 -0.7L355.4 1.7ZM423.4 35.4L424.4 35.1L426.9 34.9L427 35.5L428.6 35.1L430.2 34.9L431.1 34.6L432 33.9L432.1 32.8L432.6 31.7L433 30.6L432.5 29L431.5 29.2L431.2 30.2L431.1 31.5L430 32.5L428.5 32.5L427.8 33.8L425.2 34L423.9 34.9ZM431.2 28.9L432.3 28.6L434 28.5L436.3 27.3L435.8 26.6L432.9 25.4L432.5 26.9L431.5 27.4ZM422.5 35.8L423.5 35.5L424.3 36.7L423.7 37.7L422.9 37.8L422.4 36.6ZM424.8 36L425.6 35.1L426.7 35.2L426.3 36L425.2 36.5ZM433 25L434.3 24.6L434 22L435.1 22.4L434.1 20.7L433.8 19L433.5 17.9L433 18.5L432.7 20.3L433.1 22.4L432.9 24.5ZM414.9 43L415.7 43.1L414.9 45.7L414.2 45.1L414.1 44.4ZM404.2 48.1L405.5 47.4L406.2 47.8L405 49L404.3 48.7ZM379.4 56.5L379.7 56.2L380.5 57.4L381.1 58.7L380.4 59.5L379.5 59.4L379.3 57.8ZM414.5 48.7L415.9 48.7L415.7 50.9L415.4 51.8L415.7 52.6L417.5 53.5L416.8 53.5L414.9 52.8L414.5 52.3L414 50.9L414.3 50.5ZM415.7 58.7L417 58L418.3 56.9L419.4 56.7L419.6 58.7L419.2 59.3L418.6 59.9L417.5 59.1L416.2 58.2ZM417.7 53.8L418.7 54.1L418.9 55.2L418.3 56.1L417.7 55.5ZM415.7 54.5L416.7 55L416.2 55.6L415.6 55.6ZM416.2 55.4L417 55.6L416.8 56.8L416.1 56.3ZM417.4 55L417.5 55.3L416.9 56.4ZM414.4 53.1L415.3 53.3L415 54.2L414.3 53.8ZM413.1 54.9L413.7 55.5L412.9 56.4L411.6 57.5L411.8 57.2ZM404.5 63.1L405 63L406.4 62.5L408 61.9L408.8 60.7L410 60.1L410.6 59.5L411.2 58.7L412 59.2L413.4 60.1L412.4 60.7L412 61.5L412.3 62.8L413.1 63.8L412.2 64L411.8 65.4L411.1 66L411 66.9L410.6 67.8L409.3 68.2L408.8 67.6L406.9 67.6L405.6 67.2L405.4 66.2L404.5 64.7ZM392.7 59.9L394.6 60.2L395.6 61.4L397.1 62.8L398.5 63.5L400 64.3L400.6 65.6L401.9 67.3L401.8 69.7L400.7 69.8L398.7 68.2L397.6 66.9L397 65.4L395.9 63.8L394.6 62.5ZM401.2 70.6L401.9 69.8L403.9 70.1L405.7 70.7L407.7 70.7L409.2 71.4L409.3 72.2L406.2 71.8L403.7 71.4L402.2 71.1ZM409.3 71.7L410.3 71.9L409.9 72.3ZM410.6 71.9L413.1 71.8L413.1 72.3L410.6 72.4ZM413.8 72L416.6 71.8L416.4 72.2L413.9 72.3ZM413.1 72.9L414.7 73.2L414.3 73.6L413.1 73.2ZM417 73.6L417.9 72.6L420.3 71.9L418.3 73.2ZM413.6 69.5L414.3 69.4L414.3 67.1L414.9 67L415.7 68.8L416.8 68.8L416.1 67.5L415.1 66.3L416.8 65.6L415.4 65.4L414.3 64.3L415.3 64.3L417 63.9L418.5 63.3L417.9 64.4L414.9 63.7L414 64.1L413.8 64.9L413.4 66L413 67.1L413.7 67.8ZM420.5 63.1L420.9 62.8L421.5 63.4L421.1 64.3L421.6 64.4L420.8 65.4L420.5 64.3ZM420.8 67.3L422.6 67.1L423.3 68L421.1 67.8ZM419.2 67.5L420.2 67.5L419.9 68.1L419.2 67.9ZM423.5 65.8L423.7 65.4L424.8 65L426.1 65.5L426.2 66.4L426.9 67.5L427.8 66.7L429.4 66L431.2 66.8L432.1 66.9L435.1 68L436.3 69L437.7 70L438.1 70.5L437.3 70.9L438.2 71.8L439.5 73L440.6 73.8L439.4 73.7L437.5 72.9L436.4 71.6L434.7 71.3L434.1 72.5L433.4 72.7L432.1 72.6L431.2 71.7L430 71.9L429.3 71.1L430 70.6L429.4 69.3L426.9 68.5L425.6 68.1L425 68.2L424.4 67.2L425.4 66.8L424.4 66.4ZM438.4 69.4L439.9 69L441.2 68.8L441.8 68.3L441.6 69.4L440.3 70L438.6 69.9ZM440.3 66.9L441.6 67.5L442.6 68.7L442.3 68.8L441.4 68ZM443.8 69L444.6 69.7L445.1 70.6L444.4 70.3ZM445.5 71.2L446.8 71.8L446.2 72ZM447.6 71.6L449.4 72.6L448.9 73L447.6 72.1ZM448.5 72.7L449.2 73.2L448.7 73.2ZM449.5 73.5L450.5 73.9L449.8 74ZM454.1 77.6L454.8 78.1L454.5 78.9L455.7 80L455.8 80.2L455 78.8ZM452 82.1L453.2 82.8L454.5 83.9L454.1 84.1L452.4 82.8ZM463.4 79.8L464.5 79.6L464.5 80.4L463.5 80.3ZM464.7 78.8L465.8 78.6L465.8 79.2L464.9 79.3ZM459.5 94.4L460.8 95.2L461.3 96.4L461.9 96.2L462.3 97L464.5 97.2L463.9 98.5L463.1 98.8L462.5 100.1L461.6 100.6L461.3 100.3L461.4 99.2L460.4 98.5L461.1 97.5L461 96.5L460.1 95.3ZM459.5 99.6L460.1 100.1L460.8 100.2L460.7 100.8L460.1 101.5L459.5 102.3L459.8 102.5L458.4 102.8L457.8 104.3L456.8 104.9L455.7 104.9L454.1 104.4L454.4 103.7L455.6 102.7L457.1 101.8L458.2 101.3L458.7 100.5L458.9 99.9ZM435.3 100.2L438.3 100.2L438.4 101.3L437.3 102.4L436.1 102L435.4 100.8ZM408.9 83.5L408.4 85.4L408.2 87.1L409.3 89.5L409.7 91L410.3 92.3L410.2 93.4L409.7 93.7L409.7 94.3L412.2 95L414 93.9L415.7 93.9L417.5 93.2L419.2 92.6L421.8 92L423.7 91.9L425.2 92.4L426.2 93.1L427.3 94.5L427.8 94L429.1 93.2L429.4 94L428.7 94.9L429.6 94.2L430 95.4L431 96.2L431.7 97.5L432.5 97.8L434.3 98L435.5 97.4L436.7 98.3L437.7 97.5L439.8 97L440 95.5L440.9 93.9L442 92.5L442.5 91L443 89.4L442.5 88L442.7 86L441 85.3L440.6 84.1L439.3 82.8L438.5 82L437.1 81.3L436.4 79.8L435.9 78.5L435.8 77.6L434.4 76.8L434.3 75.7L433.4 73.9L432.6 75.5L432.5 77.6L431.9 79.8L430.6 79.7L428.7 78.4L427.4 77.5L427.8 76.3L428.5 75.2L427.4 75.1L424.9 74.6L423.5 75.2L423.3 75.5L422.8 76.2L422.2 77.5L420.9 77.6L419.6 76.8L418.3 77.3L417.5 78.8L416.5 78.8L415.9 80.2L414.9 81.5L413.1 82L411.4 82.5L410.6 82.6ZM243.7 57.2L245 56.5L245.4 55.7L246 55.2L247.5 55L248.5 54L249.1 54.7L249.3 55.2L250.1 54.8L250 54.3L250.6 54.8L251.9 55.6L252.8 55.6L254.9 55.9L256.2 55.5L257.1 55.5L256.6 56L257.9 57.4L258.9 57.5L260.3 58.8L261.3 59.5L262.9 59.6L265.4 60.5L266.1 61.1L267.4 63.1L267.4 64.3L266.9 64.7L268.7 65.8L270.8 65.6L272.3 66.9L274.4 67.2L277.3 67.9L278.6 68.9L280.1 69.4L280.5 70.8L280.3 72.5L279 73.8L277.3 75.9L276.9 77.6L276.7 80L275.7 82.2L275.1 83.7L274.3 84.5L273.2 84.5L271.7 85.2L270.6 85.4L268.7 87.1L268.6 89.3L267.1 91L265.5 92.5L264.4 93.8L263.1 94.8L262 94.8L260.6 94.5L260.1 94.5L261.1 95.3L261.6 96.1L260.9 97.5L259.6 98.1L256.8 98.3L256.8 99.6L254.4 99.9L254.9 101.2L254.4 101.8L254.2 103.2L252.3 104.4L253.7 105.9L252.3 107.4L251 109.1L251.5 109.8L251.4 110.4L254.3 111.9L252.7 112.4L250.1 112.1L249.3 111.7L246.7 110L245.6 107.8L245.4 106.1L246.2 104.8L246.7 102.7L246.8 101.4L246.9 99.2L247.1 97L247.8 95.3L248.7 93.2L248.8 90.6L249.4 88L249.8 85.1L250 82L249.9 80.5L248.8 79.6L245.8 77.9L244.7 76.6L244.1 75.1L242.4 72L241.6 70.6L240.5 69.9L240.4 68.7L241.2 67.6L241.6 67.2L240.7 66.6L241.4 64.7L241.5 64L242.4 63.4L242.7 62.5L243.7 61.3L243.8 59.1L243.3 58.5ZM243.7 57.2L241.9 56.4L240.6 57.1L239.8 56.8L238.5 55.4L238.3 53.9L238.7 51.8L237.2 50.9L234.6 51.1L234.3 49.6L235 47.9L235.5 46.2L232.9 46.4L232.4 47.6L231.2 48.7L229 49L227.6 48.1L226.4 46.2L226.1 44L226.5 40.7L228.7 39.4L230.3 39.1L232.4 39.6L233.6 39.7L233.3 38.6L235 38.6L236.8 39.1L238.1 38.8L239.2 40.5L239.9 42.2L240.8 43L241.4 42.4L241 40.1L240.3 38.6L240.6 37.1L242.4 35.7L243.3 35.4L245.4 34.3L245 32.8L245.3 32L245.8 31.2L246.7 29.8L248.4 29.3L249.7 28.8L250.1 28.6L249.6 28L250 27L251.9 26.4L252.8 26.1L253.6 25.7L254.9 25.6L253.7 27L255.7 26.3L257.9 25.7L258.6 24.8L257.5 24.2L257.9 25.3L254.9 24.8L254.6 23.5L255.1 22.6L253.1 22.3L250.6 23.3L252.7 21.7L255.3 21.4L258.8 21.4L261.3 20.3L262.5 19.7L262.2 18.5L260.9 17.7L259.2 17L257.9 16.4L257 15.1L255.3 13.4L254.7 12.7L254 13.8L252.3 14.4L250.6 14L250.6 12.5L248.8 11.9L246.7 11.2L243.5 10.8L243.2 12.5L244.1 14.2L244.5 16L242.4 17.7L241.9 19.8L241.1 20.4L239.3 19.1L237.2 17.1L234.6 16L231.2 15.4L229.3 14L228.7 12.5L230.3 11.4L232.4 9.9L234.6 9.3L235.5 8.4L236.2 7.3L237.4 6L239.8 6L240.2 4.7L237.2 4.5L234.6 5.6L232.9 5.3L229 2.6L227.7 6L226 6.2L221.7 6L217.4 5.8L212.2 6.2L210.9 5.3L207 4.8L203.1 4.8L200.1 4.1L198.4 4.5L195.4 4.7L193.2 5.3L188.9 4.7L185.4 4.2L181.1 3.9L175.3 3.2L172.5 3.8L169.9 4.6L167.2 5.3L169.1 6L170.8 7.1L168.6 7.3L165.6 8.1L167.3 9.1L170.8 9.1L171.6 9.9L168.6 10.4L167.3 11.6L168.6 12.9L170.8 13.8L174.2 14.1L175.1 14L173.8 16L170.8 17.3L168.6 17.6L170.8 17L174.2 16L176.8 15.1L178.1 13.8L179.6 13.6L180.7 11.9L181.6 13.1L183.7 12.2L186.3 12.9L188.9 13L191.5 14L192.8 14.7L194.5 16L195.8 17.3L197.9 17.7L200.1 20.3L200.5 21.1L202.3 21.6L204.2 22.4L204.8 23.3L202.9 22.9L203.6 24.8L203.5 26.7L203.1 27.8L203.4 29.8L204.4 31.9L204.8 32.2L205.4 33.2L206.5 34.9L208.3 35.4L209.4 36.5L209.8 37.5L210.6 38.6L212 40.1L211.4 40.8L213.7 43.1L215.6 44.9L216.1 44.4L215.4 43.8L214.3 42.3L213.2 40.1L211.7 38.4L211.5 37.3L213 37.8L214.8 39.7L214.8 40.6L216.2 42.6L218.7 44.7L219.7 46.2L219.4 47.1L220.5 48.2L223.4 49.6L224.3 50.2L227.3 51.2L228.6 50.7L230.3 51.5L232 52.7L233.7 53.1L235 53.5L235.9 54.3L236.6 55.2L236.5 56.1L237.6 56.5L238.5 57.5L239.8 57.6L241.2 58.4L241.5 57.5L241.9 57L243 57.5L243.3 58.5ZM257.2 7.2L255.3 8.2L254.4 9.1L254.9 10.4L254 11.2L251.9 11L248.8 10.4L246.2 9L243.7 8.4L247.1 7.3L247.5 6.5L245.8 5.6L243.2 4.3L238.5 4.3L234.6 3.9L233.3 1.5L237.2 1L241.5 1.1L244.1 1.9L246.7 2.8L250.1 3.6L251.9 4.1L253 5.6L255.3 6.5ZM241.5 9.5L240.2 9.9L236.8 9.7L235.5 9.1L236.8 7.9L238.5 7.8L240.2 8.2ZM223.8 5.2L220.4 5.3L218.6 5L215.6 5.3L212.6 4.7L209.2 4.4L208.7 3.6L210.5 3L209.2 2.2L211.3 1.6L215.6 1.9L218.2 1.5L220.4 3.2L223 4.1ZM206.1 3L202.4 2.7L203.1 1.3L204.4 0.5L208.7 0.9L210.9 1.3L209.2 2.6ZM226.8 3L224.7 3.2L222.1 2.2L223.4 1.3L226 0.9L227.3 1.7ZM232 2.6L229 2.6L228.1 1.3L230.3 0.7L232.4 1ZM228.1 5.3L225.5 5.6L224.7 4.7L226.8 4.3L228.1 4.7ZM219.9 -0.4L219.1 0.2L215.6 0.4L211.3 0.4L209.6 -0.4ZM241.5 -0.4L241.5 0.3L234.6 0.5L231.2 0.2L227.7 -0.4ZM226.8 -0.4L225.5 0.2L223.4 0L223 -0.4ZM272.6 13.1L269.1 12.1L267.4 10.8L266.1 9.3L264.4 7.3L264.8 5.6L266.5 4.7L263.5 3.9L263.1 2.6L261.3 0.9L260 -0.4L260 -1.3L293.2 -1.3L293.2 -0.4L294.1 0.9L292 2.2L291.5 3.9L288.1 5.6L282.9 6L280.3 7.8L277.7 8.2L275.6 9.5L274.3 11.2L273 12.5ZM265.1 23.7L264.4 24.5L262.6 24.2L259.3 23.6L260 22.4L260.9 21.1L262.6 20.2L262.2 21.6L263.9 22L264.8 22.9ZM237.2 45.8L238.9 44.9L239.5 44.7L241.1 44.8L243.7 45.9L245.3 46.5L246.6 47.3L245.4 47.5L243.5 47.5L244.1 46.8L242.8 46.2L241.1 45.8L240.2 45.5L239.3 45.7L238.1 45.6ZM246.2 48.8L247.7 47.5L250.1 47.6L251.6 48.7L250.2 48.8L248.8 49.5L247.7 49.1L246.3 49ZM243 48.8L244.8 49.2L244.3 49.3L243.2 49ZM252.5 48.7L253.9 48.9L253.7 49.2L252.5 49.2ZM199.8 20.9L202.7 21.6L204.2 22.9L202.9 22.8L201 21.6ZM177.2 14.7L179.1 14.7L178.1 15.5L177.2 15.7ZM155.2 131.6L163.9 132L174.2 132L181.1 131.1L189.8 130.3L198.4 129.6L205.3 128.8L215.6 128.7L224.2 128.8L231.2 129.6L237.2 130.3L244.1 130.3L244.8 127.1L245.4 126.2L250.1 124.4L253.6 122.3L257 120.4L261.3 119.2L260.6 119.7L257.5 121.1L254.9 122.8L252.3 124.1L246.2 126.8L245.6 130.3L250.5 130.3L250.8 125.6L253.6 124.1L257 124.2L257.9 126.8L257.7 130.3L258.8 132L276 132L284.6 131.1L293.2 129.9L301 127.2L310.5 125.4L319.1 125.1L327.8 125.1L336.4 124.7L345 124.1L351 122.9L353.6 122.3L357.9 122.1L362.2 122.9L367.4 123.2L370.9 124.7L373.5 124.9L376.1 124.2L379.5 122.9L388.1 122.1L396.8 121.6L405.4 121.8L414 122.3L422.6 121.8L431.2 122.3L435.6 122.9L439.9 123.8L444.2 124.2L448.5 125.1L452.8 125.9L457.1 126.4L456.3 127.7L452.8 129.4L451.1 131.1L457.1 132L465.8 132L465.8 142.3L155.2 142.3ZM350.6 24L352.8 24.2L355.3 23.8L356.6 24.2L356.9 25.4L355.2 25.8L355 26.5L354.4 26.5L355.4 27.6L356.5 28.5L356.6 29.3L356.7 30.2L357.5 31.1L357.5 32.7L354.5 33.3L352.5 32.5L352.3 31.5L352.7 30L351.8 28.6L351 27.6L351 26.3L350.5 25.4L351 24.8ZM361 24.6L363.5 24.6L363.1 26.3L361.4 26.7Z" fill="none" stroke="#000" stroke-width="2.2" stroke-linejoin="round"/><path d="M-145.3 18.9L-144.5 18.7L-144.6 18.6L-145.4 18.8ZM-150.5 19.8L-149.6 19.6L-149.8 19.5L-150.6 19.7ZM-154.4 20.1L-153.5 19.9L-153.7 19.8L-154.5 20ZM-159.6 19.9L-158.7 19.8L-158.9 19.6L-159.6 19.8ZM126.8 26.4L127.7 26.1L127.5 25.9L126.7 26.3ZM129.4 24.9L130.2 24.6L130.1 24.5L129.3 24.8ZM132 23.3L132.8 22.9L132.7 22.8L131.9 23.2ZM133.7 21.7L134.6 21.4L134.4 21.3L133.6 21.6ZM-52.6 109L-50 109.1L-50.5 109.6L-52 109.6ZM-32.6 111.4L-31.1 111.8L-31.6 111.6ZM-39.8 117L-38.6 117.1L-39.2 117.2ZM-134.6 47.3L-133.5 47.9L-134.4 48.4L-134.6 47.7ZM-137.8 45.5L-136 46.1L-134.6 46.7L-135.7 46.4ZM-148.2 9.7L-145.8 10.2L-145.6 10L-147.5 10ZM-144 12.8L-142.7 13L-143.6 12.6ZM59.8 107.1L60.5 107.2L60.1 107.5ZM-5.1 33.8L-1.7 34.4L0.9 33.2L2.6 33L6.5 32.8L8.6 32.5L9.5 32.9L9.1 33.8L9.6 34.3L8.7 35.2L9.7 36.1L11.4 36.3L13.2 36.8L16.4 38.6L17.3 38L17.2 37.1L18.5 36.3L19.9 36.6L21.6 37.4L25 38L26.3 37.5L27.9 37.7L29.5 37.7L30.1 39.3L29.6 40.7L28.8 41.1L30.2 44L31.7 46.6L31.8 47.8L32.9 49.6L33.8 51.2L35.2 52.6L36.7 53.5L37.2 54.7L38.8 55.7L41.4 55L44.2 54.5L44.1 55.7L43.1 57.8L42.3 59.5L41.4 60.8L39.7 63L39.1 63L37.5 64.3L36.7 65L35.3 66.7L34.2 68.2L33.5 70L33.9 70.6L34.1 71.6L34.2 73.3L34.9 73.9L34.9 75.9L35.1 77.6L34.1 79.1L31.8 80.1L30 81.8L30.4 83.7L30.6 85.3L28.9 86.5L28.1 87L28.4 88L27.9 89.4L26.7 90.5L25.7 91.7L24.1 93.2L22.1 94L19.4 94L17.2 94.7L15.9 94.2L15.9 93.2L15.5 92.7L14.9 91L14.2 89.4L13.1 87.6L12.5 84.5L11.5 82.6L10.2 79.6L10.2 78.5L10.6 76.8L11.6 75.6L12 74.2L11.4 72.3L10.6 69.9L10.2 68.8L9.1 67.5L7.5 65.2L8.2 64.4L8.3 63L8.4 61.2L7.3 60.8L6 60.9L5.2 61L3.9 59.4L2.9 59.2L1.3 59.4L-0.2 60L-1.8 60.6L-3.5 60.1L-4.7 60.4L-6.5 60.9L-7.8 60.4L-9.3 59.3L-10.8 58.3L-11.4 57.4L-11.8 56.5L-12.6 55.6L-13.5 54.4L-14.5 53.5L-15.1 52L-14.2 50.9L-13.8 49.1L-14 47.9L-14.7 46.8L-14.1 45.3L-13.4 44L-12.5 42.2L-11.1 40.6L-9.1 39.7L-8.3 38.5L-8.5 37.5L-7.3 36.1L-6.6 35.7L-5.9 35.4L-5.2 34.1ZM42.5 75.1L43.1 76.3L43.6 77.9L43 79.4L42.6 80.2L42 82L41.4 83.7L40.6 86.2L39 86.7L38 86.3L37.7 84.9L37.3 83.7L38.2 82.2L38.3 80.2L38 79.4L39.9 78.2L41.2 76.8L41.8 76.3ZM-4.8 33.6L-5.4 33.2L-6.4 32.6L-7.7 32.8L-7.6 31.3L-8.2 31.2L-7.7 30L-7.5 29.2L-7.7 28L-8 27.6L-6.9 27L-4.3 27.2L-1.6 27.3L-1.2 26.2L-1 25L-1.9 24L-3.9 23.4L-4.1 22.9L-2.6 22.6L-1.4 22.7L-1.6 21.8L0 22.1L1.4 21L2.2 20.6L3.1 20.4L3.9 19.6L4.1 19L6 18.5L7.3 18.5L7.4 17.4L7 16.8L7.1 15.8L9.1 14.9L8.9 16.2L9.2 16.8L8.5 17.4L9.4 18.1L10.4 17.9L12.2 18.2L14.2 17.7L16 17.5L17.2 17.6L18.2 17.1L18.1 16L19 15L20.8 15.5L20.3 14.2L21.3 13.5L24.2 13.4L26 13L24.6 12.5L21.6 12.8L19.2 12.9L18.5 12.1L18.9 10.1L21.9 8.5L18.9 7.9L17.5 9.5L15.9 10.4L14.7 11.2L14.7 12.3L16.1 13.1L15.6 13.5L14.2 15.5L13.8 16.2L12.2 16.9L11.1 16.7L10.8 16L10.3 14.9L9.7 13.8L9.1 13.4L6.9 14.7L4.9 13.9L4.5 12.6L4.3 11.2L6.5 10.4L9 10L10.4 8.2L12.1 6.6L13.8 5.6L16.3 4.7L20.3 3.9L22.3 3.4L24.6 3.6L26.7 4.1L28.5 4.8L31.1 5.1L35.4 6.6L34.5 7.8L29.8 7.3L30 9.1L32.7 9.3L34.9 9L37.5 7.6L38 5.6L40.1 6L45.7 5.7L50 5.3L51.8 4.7L56.9 4.7L59.1 2.2L60.4 1.3L62.5 1.9L62.5 6L64.7 2.6L69 1.3L75 0.4L81.9 -1.3L94.9 -1.7L97.5 1.3L108.7 1.3L112.1 3.5L120.8 3L129.4 3.6L138 4.7L146.6 4.7L155.2 5.5L159.6 6.9L163.9 7.6L164.1 7.7L162.2 9.1L157 8.9L153.1 8.9L154.4 10.8L148.3 12.1L142.3 12.9L140.6 14.7L140.2 16.4L138 19L135.2 20.7L134.6 19L134.6 15.5L138 12.1L133.7 13.4L131.1 13.5L130.1 13.3L123.3 13.5L121.4 14.7L118.2 18.1L121.9 19.1L122 21.6L121 23.3L119 25L116.4 27.2L113.8 27.5L112.7 28.2L111.9 29.3L110.4 30.4L111.6 32.8L111.5 34.2L109.1 35L108.8 33.6L109.2 32.4L108 31.9L107.4 30.4L104.9 31.1L105.4 29.8L104.4 29.5L102.6 30.9L101.5 31.1L102.5 32.4L102.8 32.7L104.1 32.1L105.7 32.5L103.8 33.6L102.8 34.8L104.2 36.7L105.1 37.4L105.1 38.1L105.2 39L104.7 40.1L103.5 41.8L102.9 42.7L101.5 44L100.5 44.7L98.5 45.5L97.9 45.6L95.7 46.2L95.1 47.2L94.6 46.2L93.6 46.1L92 46.8L91.3 48.3L92 50L93.3 50.8L94.2 53.5L94.2 54.8L92.3 55.7L91.9 56.5L90.6 57.3L90.6 56.1L89.3 55.6L88.2 54.2L87 53.7L86.7 53.1L86.2 53.9L85.6 56.1L86.6 58.5L87.5 59.1L88.2 59.4L89.2 60.9L89.2 62.5L89.9 63.5L89.2 63.5L87.4 62.3L86.5 60L86.6 59.1L84.8 57.9L85 56.1L84.5 53.5L84.2 50.5L82.2 51.1L81.3 50.6L81.2 48.5L80.1 47.3L79.2 45.5L78.1 45.7L76.8 46L75 46.3L75 47L73.3 48.1L71 50.4L69.3 51.3L69.2 53.5L68.8 55.8L67.4 57L66.8 57.7L65.8 56.5L64.7 53.9L63.7 51.4L62.9 48.3L62.7 46.5L62.4 45.5L60.4 46.8L59.5 45.5L60.4 44.9L59.1 44.3L57.8 43.3L55.2 42.9L53.1 43L50.7 42.7L49.4 42.4L48.6 41.2L46.6 41.8L44.4 40.6L43.4 39.3L42.1 38.8L41.4 39.3L42.8 41.4L43.3 42.3L44.4 42.2L44.5 43.5L46.9 43.7L48.3 42.3L48.6 41.9L48.6 43.2L50.5 44.3L51.6 45.3L50.5 47L49.8 48.3L47.4 50L45 51.2L42.3 52.2L38.8 53.7L37.6 53.7L37.2 51.8L36.9 50.5L35.7 47.9L34.2 46.2L32.7 43.6L30.9 40.7L30.2 39.3L29.6 40.7L28 38.8L27.9 37.8L29.8 37.4L30 37L30.3 36.1L30.6 35.5L31 34.1L31.1 33L29.8 33L28 33.6L26.4 33L24.2 33L23.5 32L22.9 30.8L22.6 30.1L25 29.3L27.2 29.2L28.7 28.5L30.4 28.5L31.3 29.1L33.2 29.4L35.9 28.8L36 28L34.2 27.1L32.6 26.1L31.7 25.7L33 25L33.9 24L32.2 24.2L30.4 24.7L30 25.3L30.5 25.8L28.9 26.4L27.9 25.5L29 24.8L26.7 24.4L26.3 24.6L25.5 25.6L24.6 26.6L23.9 27.4L24.1 28.8L25 29.2L22.6 29.5L20.7 29.6L19.8 29.8L19.5 29.9L19.8 30.8L20.7 31.9L19.8 32.4L20 33.3L19.4 33.3L18.7 33L18.4 32.1L18.2 31.7L17.9 30.9L17.1 30.3L16.7 29.8L16.8 28.6L16 28L14.2 27.2L13.1 26.5L12.1 26L11.7 25.4L10.6 25.5L10.7 26.6L11.7 27.1L12.2 28.1L13.8 28.6L14.6 29.2L16 30.1L14.8 29.8L14.3 30.5L14.7 31.1L13.9 31.9L13.5 31.7L13.6 30.6L12.9 30L12.3 29.5L10.8 28.8L9.6 28.1L8.9 27.2L7.7 26.4L6.3 27L4.7 27.3L3.5 27.2L2.7 27.6L2.8 28.6L1.9 29L0.8 29.3L-0.3 30.6L0.2 31.3L-0.4 31.7L-0.7 32.3L-1.8 33L-3.8 33ZM-4.9 21.5L-3 21.3L-0.9 21L1.2 20.5L1.5 19.3L0.3 18.6L-0.1 17.7L-1.3 16.8L-1.7 16.4L-2.6 16.4L-1.8 15.4L-1.6 15L-3 14.9L-2.6 14.1L-4.3 14.1L-5 15.1L-4.8 16.1L-4.9 17L-4.1 17.4L-2.9 17.3L-3.1 17.7L-2.6 18.3L-2.7 18.7L-4 18.7L-3.6 19.2L-3.5 19.6L-4.6 20L-2.8 20.4L-3.6 20.5ZM-5.2 19.7L-5.3 18.7L-5.2 17.7L-5.1 17.1L-6.3 16.9L-7.3 17.3L-8.6 17.9L-8.5 18.6L-8 18.9L-9 19.8L-8.3 20.3L-6.9 20L-5.5 19.7ZM-19 9.5L-20.7 8.2L-19.4 7.4L-15.5 7.6L-12.5 7.4L-11.6 8.5L-12.9 9.2L-15.5 10L-18.1 9.7ZM44.4 3L46.1 3.7L49.6 3.8L47.9 2.2L48.7 0.4L50.9 -0.7L46.6 -0.7L44.9 1.7ZM112.9 35.4L113.9 35.1L116.4 34.9L116.5 35.5L118.1 35.1L119.7 34.9L120.6 34.6L121.5 33.9L121.6 32.8L122.1 31.7L122.5 30.6L122 29L121 29.2L120.8 30.2L120.6 31.5L119.5 32.5L118 32.5L117.3 33.8L114.7 34L113.4 34.9ZM120.8 28.9L121.8 28.6L123.5 28.5L125.8 27.3L125.3 26.6L122.4 25.4L122 26.9L121 27.4ZM112 35.8L113 35.5L113.8 36.7L113.2 37.7L112.4 37.8L111.9 36.6ZM114.3 36L115.1 35.1L116.2 35.2L115.8 36L114.7 36.5ZM122.5 25L123.8 24.6L123.5 22L124.6 22.4L123.6 20.7L123.3 19L123 17.9L122.5 18.5L122.2 20.3L122.6 22.4L122.4 24.5ZM104.4 43L105.2 43.1L104.4 45.7L103.7 45.1L103.6 44.4ZM93.7 48.1L95 47.4L95.7 47.8L94.5 49L93.8 48.7ZM68.9 56.5L69.2 56.2L70 57.4L70.6 58.7L69.9 59.5L69 59.4L68.8 57.8ZM104 48.7L105.4 48.7L105.2 50.9L104.9 51.8L105.2 52.6L107 53.5L106.3 53.5L104.4 52.8L104 52.3L103.5 50.9L103.8 50.5ZM105.2 58.7L106.5 58L107.8 56.9L108.9 56.7L109.1 58.7L108.7 59.3L108.1 59.9L107 59.1L105.7 58.2ZM107.2 53.8L108.2 54.1L108.4 55.2L107.8 56.1L107.2 55.5ZM105.2 54.5L106.2 55L105.7 55.6L105.1 55.6ZM105.7 55.4L106.5 55.6L106.3 56.8L105.6 56.3ZM106.9 55L107 55.3L106.4 56.4ZM103.9 53.1L104.8 53.3L104.5 54.2L103.8 53.8ZM102.6 54.9L103.2 55.5L102.4 56.4L101.1 57.5L101.3 57.2ZM94 63.1L94.5 63L95.9 62.5L97.5 61.9L98.3 60.7L99.5 60.1L100.1 59.5L100.7 58.7L101.5 59.2L102.9 60.1L101.9 60.7L101.5 61.5L101.8 62.8L102.6 63.8L101.7 64L101.3 65.4L100.6 66L100.5 66.9L100.1 67.8L98.8 68.2L98.3 67.6L96.4 67.6L95.1 67.2L94.9 66.2L94 64.7ZM82.2 59.9L84.1 60.2L85.1 61.4L86.6 62.8L88 63.5L89.5 64.3L90.1 65.6L91.4 67.3L91.3 69.7L90.2 69.8L88.2 68.2L87.1 66.9L86.5 65.4L85.4 63.8L84.1 62.5ZM90.7 70.6L91.4 69.8L93.4 70.1L95.2 70.7L97.2 70.7L98.7 71.4L98.8 72.2L95.7 71.8L93.2 71.4L91.7 71.1ZM98.8 71.7L99.8 71.9L99.4 72.3ZM100.1 71.9L102.6 71.8L102.6 72.3L100.1 72.4ZM103.3 72L106.1 71.8L105.9 72.2L103.4 72.3ZM102.6 72.9L104.2 73.2L103.8 73.6L102.6 73.2ZM106.5 73.6L107.4 72.6L109.8 71.9L107.8 73.2ZM103.1 69.5L103.8 69.4L103.8 67.1L104.4 67L105.2 68.8L106.3 68.8L105.6 67.5L104.6 66.3L106.3 65.6L104.9 65.4L103.8 64.3L104.8 64.3L106.5 63.9L108 63.3L107.4 64.4L104.4 63.7L103.5 64.1L103.3 64.9L102.9 66L102.5 67.1L103.2 67.8ZM110 63.1L110.4 62.8L111 63.4L110.6 64.3L111.1 64.4L110.3 65.4L110 64.3ZM110.3 67.3L112.1 67.1L112.8 68L110.6 67.8ZM108.7 67.5L109.7 67.5L109.4 68.1L108.7 67.9ZM113 65.8L113.2 65.4L114.3 65L115.6 65.5L115.7 66.4L116.4 67.5L117.3 66.7L118.9 66L120.8 66.8L121.6 66.9L124.6 68L125.8 69L127.2 70L127.6 70.5L126.8 70.9L127.7 71.8L129 73L130.1 73.8L128.9 73.7L127 72.9L125.9 71.6L124.2 71.3L123.6 72.5L122.9 72.7L121.6 72.6L120.8 71.7L119.5 71.9L118.8 71.1L119.5 70.6L118.9 69.3L116.4 68.5L115.1 68.1L114.5 68.2L113.9 67.2L114.9 66.8L113.9 66.4ZM127.9 69.4L129.4 69L130.7 68.8L131.3 68.3L131.1 69.4L129.8 70L128.1 69.9ZM129.8 66.9L131.1 67.5L132.1 68.7L131.8 68.8L130.9 68ZM133.3 69L134.1 69.7L134.6 70.6L133.9 70.3ZM135 71.2L136.3 71.8L135.7 72ZM137.1 71.6L138.9 72.6L138.4 73L137.1 72.1ZM138 72.7L138.7 73.2L138.2 73.2ZM139 73.5L140 73.9L139.3 74ZM143.6 77.6L144.3 78.1L144 78.9L145.2 80L145.3 80.2L144.5 78.8ZM141.5 82.1L142.7 82.8L144 83.9L143.6 84.1L141.9 82.8ZM152.9 79.8L154 79.6L154 80.4L153 80.3ZM154.2 78.8L155.2 78.6L155.2 79.2L154.4 79.3ZM149 94.4L150.3 95.2L150.8 96.4L151.4 96.2L151.8 97L154 97.2L153.4 98.5L152.6 98.8L152 100.1L151.1 100.6L150.8 100.3L150.9 99.2L149.9 98.5L150.6 97.5L150.5 96.5L149.6 95.3ZM149 99.6L149.6 100.1L150.3 100.2L150.2 100.8L149.6 101.5L149 102.3L149.3 102.5L147.9 102.8L147.3 104.3L146.3 104.9L145.2 104.9L143.6 104.4L143.9 103.7L145.1 102.7L146.6 101.8L147.7 101.3L148.2 100.5L148.4 99.9ZM124.8 100.2L127.8 100.2L127.9 101.3L126.8 102.4L125.6 102L124.9 100.8ZM98.4 83.5L97.9 85.4L97.7 87.1L98.8 89.5L99.2 91L99.8 92.3L99.7 93.4L99.2 93.7L99.2 94.3L101.7 95L103.5 93.9L105.2 93.9L107 93.2L108.7 92.6L111.3 92L113.2 91.9L114.7 92.4L115.7 93.1L116.8 94.5L117.3 94L118.6 93.2L118.9 94L118.2 94.9L119.1 94.2L119.5 95.4L120.5 96.2L121.2 97.5L122 97.8L123.8 98L125 97.4L126.2 98.3L127.2 97.5L129.3 97L129.5 95.5L130.4 93.9L131.5 92.5L132 91L132.5 89.4L132 88L132.2 86L130.5 85.3L130.1 84.1L128.8 82.8L128 82L126.6 81.3L125.9 79.8L125.4 78.5L125.3 77.6L123.9 76.8L123.8 75.7L122.9 73.9L122.1 75.5L122 77.6L121.4 79.8L120.1 79.7L118.2 78.4L116.9 77.5L117.3 76.3L118 75.2L116.9 75.1L114.4 74.6L113 75.2L112.8 75.5L112.3 76.2L111.7 77.5L110.4 77.6L109.1 76.8L107.8 77.3L107 78.8L106 78.8L105.4 80.2L104.4 81.5L102.6 82L100.9 82.5L100.1 82.6ZM-66.8 57.2L-65.5 56.5L-65.1 55.7L-64.5 55.2L-63 55L-62 54L-61.4 54.7L-61.2 55.2L-60.4 54.8L-60.5 54.3L-59.9 54.8L-58.7 55.6L-57.7 55.6L-55.6 55.9L-54.3 55.5L-53.4 55.5L-53.9 56L-52.6 57.4L-51.6 57.5L-50.2 58.8L-49.2 59.5L-47.6 59.6L-45.1 60.5L-44.4 61.1L-43.1 63.1L-43.1 64.3L-43.6 64.7L-41.8 65.8L-39.7 65.6L-38.2 66.9L-36.1 67.2L-33.2 67.9L-31.9 68.9L-30.4 69.4L-30 70.8L-30.2 72.5L-31.5 73.8L-33.2 75.9L-33.6 77.6L-33.8 80L-34.8 82.2L-35.4 83.7L-36.2 84.5L-37.3 84.5L-38.8 85.2L-39.9 85.4L-41.8 87.1L-41.9 89.3L-43.4 91L-45 92.5L-46.1 93.8L-47.4 94.8L-48.5 94.8L-49.9 94.5L-50.4 94.5L-49.4 95.3L-48.9 96.1L-49.6 97.5L-50.9 98.1L-53.7 98.3L-53.7 99.6L-56.1 99.9L-55.6 101.2L-56.1 101.8L-56.3 103.2L-58.2 104.4L-56.8 105.9L-58.2 107.4L-59.5 109.1L-59 109.8L-59.1 110.4L-56.2 111.9L-57.8 112.4L-60.4 112.1L-61.2 111.7L-63.8 110L-64.9 107.8L-65.1 106.1L-64.3 104.8L-63.8 102.7L-63.7 101.4L-63.6 99.2L-63.4 97L-62.7 95.3L-61.8 93.2L-61.7 90.6L-61.1 88L-60.7 85.1L-60.5 82L-60.6 80.5L-61.7 79.6L-64.7 77.9L-65.8 76.6L-66.4 75.1L-68.1 72L-68.9 70.6L-70 69.9L-70.1 68.7L-69.3 67.6L-68.9 67.2L-69.8 66.6L-69.1 64.7L-69 64L-68.1 63.4L-67.8 62.5L-66.8 61.3L-66.7 59.1L-67.2 58.5ZM-66.8 57.2L-68.6 56.4L-69.9 57.1L-70.7 56.8L-72 55.4L-72.2 53.9L-71.8 51.8L-73.3 50.9L-75.9 51.1L-76.2 49.6L-75.5 47.9L-75 46.2L-77.6 46.4L-78.1 47.6L-79.4 48.7L-81.5 49L-82.9 48.1L-84.1 46.2L-84.4 44L-84 40.7L-81.8 39.4L-80.2 39.1L-78.1 39.6L-76.9 39.7L-77.2 38.6L-75.5 38.6L-73.7 39.1L-72.5 38.8L-71.3 40.5L-70.6 42.2L-69.7 43L-69.1 42.4L-69.5 40.1L-70.2 38.6L-69.9 37.1L-68.1 35.7L-67.2 35.4L-65.1 34.3L-65.5 32.8L-65.2 32L-64.7 31.2L-63.8 29.8L-62.1 29.3L-60.8 28.8L-60.4 28.6L-60.9 28L-60.5 27L-58.7 26.4L-57.7 26.1L-56.9 25.7L-55.6 25.6L-56.8 27L-54.8 26.3L-52.6 25.7L-51.9 24.8L-53 24.2L-52.6 25.3L-55.6 24.8L-55.9 23.5L-55.4 22.6L-57.4 22.3L-59.9 23.3L-57.8 21.7L-55.2 21.4L-51.8 21.4L-49.2 20.3L-48 19.7L-48.3 18.5L-49.6 17.7L-51.3 17L-52.6 16.4L-53.5 15.1L-55.2 13.4L-55.8 12.7L-56.5 13.8L-58.2 14.4L-59.9 14L-59.9 12.5L-61.7 11.9L-63.8 11.2L-67 10.8L-67.3 12.5L-66.4 14.2L-66 16L-68.1 17.7L-68.6 19.8L-69.4 20.4L-71.2 19.1L-73.3 17.1L-75.9 16L-79.4 15.4L-81.2 14L-81.8 12.5L-80.2 11.4L-78.1 9.9L-75.9 9.3L-75 8.4L-74.3 7.3L-73.1 6L-70.7 6L-70.3 4.7L-73.3 4.5L-75.9 5.6L-77.6 5.3L-81.5 2.6L-82.8 6L-84.5 6.2L-88.8 6L-93.2 5.8L-98.3 6.2L-99.6 5.3L-103.5 4.8L-107.4 4.8L-110.4 4.1L-112.1 4.5L-115.1 4.7L-117.3 5.3L-121.6 4.7L-125.1 4.2L-129.4 3.9L-135.2 3.2L-138 3.8L-140.6 4.6L-143.3 5.3L-141.5 6L-139.7 7.1L-141.9 7.3L-144.9 8.1L-143.2 9.1L-139.7 9.1L-138.9 9.9L-141.9 10.4L-143.2 11.6L-141.9 12.9L-139.7 13.8L-136.3 14.1L-135.4 14L-136.7 16L-139.7 17.3L-141.9 17.6L-139.7 17L-136.3 16L-133.7 15.1L-132.4 13.8L-130.9 13.6L-129.8 11.9L-128.9 13.1L-126.8 12.2L-124.2 12.9L-121.6 13L-119 14L-117.7 14.7L-116 16L-114.7 17.3L-112.6 17.7L-110.4 20.3L-110 21.1L-108.2 21.6L-106.3 22.4L-105.7 23.3L-107.6 22.9L-107 24.8L-107 26.7L-107.4 27.8L-107.1 29.8L-106.1 31.9L-105.7 32.2L-105.1 33.2L-104 34.9L-102.2 35.4L-101.1 36.5L-100.7 37.5L-99.9 38.6L-98.5 40.1L-99.1 40.8L-96.8 43.1L-94.9 44.9L-94.4 44.4L-95.1 43.8L-96.2 42.3L-97.3 40.1L-98.8 38.4L-99 37.3L-97.5 37.8L-95.7 39.7L-95.7 40.6L-94.3 42.6L-91.8 44.7L-90.8 46.2L-91.1 47.1L-90 48.2L-87.1 49.6L-86.2 50.2L-83.2 51.2L-81.9 50.7L-80.2 51.5L-78.5 52.7L-76.8 53.1L-75.5 53.5L-74.6 54.3L-73.9 55.2L-74 56.1L-72.9 56.5L-72 57.5L-70.7 57.6L-69.3 58.4L-69 57.5L-68.6 57L-67.5 57.5L-67.2 58.5ZM-53.3 7.2L-55.2 8.2L-56.1 9.1L-55.6 10.4L-56.5 11.2L-58.7 11L-61.7 10.4L-64.3 9L-66.8 8.4L-63.4 7.3L-63 6.5L-64.7 5.6L-67.3 4.3L-72 4.3L-75.9 3.9L-77.2 1.5L-73.3 1L-69 1.1L-66.4 1.9L-63.8 2.8L-60.4 3.6L-58.7 4.1L-57.5 5.6L-55.2 6.5ZM-69 9.5L-70.3 9.9L-73.7 9.7L-75 9.1L-73.7 7.9L-72 7.8L-70.3 8.2ZM-86.7 5.2L-90.1 5.3L-91.9 5L-94.9 5.3L-97.9 4.7L-101.3 4.4L-101.8 3.6L-100.1 3L-101.3 2.2L-99.2 1.6L-94.9 1.9L-92.3 1.5L-90.1 3.2L-87.5 4.1ZM-104.4 3L-108.1 2.7L-107.4 1.3L-106.1 0.5L-101.8 0.9L-99.6 1.3L-101.3 2.6ZM-83.7 3L-85.8 3.2L-88.4 2.2L-87.1 1.3L-84.5 0.9L-83.2 1.7ZM-78.5 2.6L-81.5 2.6L-82.4 1.3L-80.2 0.7L-78.1 1ZM-82.4 5.3L-85 5.6L-85.8 4.7L-83.7 4.3L-82.4 4.7ZM-90.6 -0.4L-91.4 0.2L-94.9 0.4L-99.2 0.4L-100.9 -0.4ZM-69 -0.4L-69 0.3L-75.9 0.5L-79.4 0.2L-82.8 -0.4ZM-83.7 -0.4L-85 0.2L-87.1 0L-87.5 -0.4ZM-38 13.1L-41.4 12.1L-43.1 10.8L-44.4 9.3L-46.1 7.3L-45.7 5.6L-44 4.7L-47 3.9L-47.4 2.6L-49.2 0.9L-50.5 -0.4L-50.5 -1.3L-17.2 -1.3L-17.2 -0.4L-16.4 0.9L-18.5 2.2L-19 3.9L-22.4 5.6L-27.6 6L-30.2 7.8L-32.8 8.2L-34.9 9.5L-36.2 11.2L-37.5 12.5ZM-45.4 23.7L-46.1 24.5L-47.9 24.2L-51.2 23.6L-50.5 22.4L-49.6 21.1L-47.9 20.2L-48.3 21.6L-46.6 22L-45.7 22.9ZM-73.3 45.8L-71.6 44.9L-71 44.7L-69.4 44.8L-66.8 45.9L-65.2 46.5L-63.9 47.3L-65.1 47.5L-67 47.5L-66.4 46.8L-67.7 46.2L-69.4 45.8L-70.3 45.5L-71.2 45.7L-72.5 45.6ZM-64.3 48.8L-62.8 47.5L-60.4 47.6L-58.9 48.7L-60.3 48.8L-61.7 49.5L-62.8 49.1L-64.2 49ZM-67.5 48.8L-65.7 49.2L-66.2 49.3L-67.3 49ZM-58 48.7L-56.6 48.9L-56.8 49.2L-58 49.2ZM-110.7 20.9L-107.8 21.6L-106.3 22.9L-107.6 22.8L-109.5 21.6ZM-133.3 14.7L-131.4 14.7L-132.4 15.5L-133.3 15.7ZM-155.2 131.6L-146.6 132L-136.3 132L-129.4 131.1L-120.8 130.3L-112.1 129.6L-105.2 128.8L-94.9 128.7L-86.2 128.8L-79.4 129.6L-73.3 130.3L-66.4 130.3L-65.7 127.1L-65.1 126.2L-60.4 124.4L-56.9 122.3L-53.5 120.4L-49.2 119.2L-49.9 119.7L-53 121.1L-55.6 122.8L-58.2 124.1L-64.3 126.8L-64.9 130.3L-60 130.3L-59.7 125.6L-56.9 124.1L-53.5 124.2L-52.6 126.8L-52.8 130.3L-51.8 132L-34.5 132L-25.9 131.1L-17.2 129.9L-9.5 127.2L0 125.4L8.6 125.1L17.2 125.1L25.9 124.7L34.5 124.1L40.5 122.9L43.1 122.3L47.4 122.1L51.8 122.9L56.9 123.2L60.4 124.7L63 124.9L65.5 124.2L69 122.9L77.6 122.1L86.2 121.6L94.9 121.8L103.5 122.3L112.1 121.8L120.8 122.3L125.1 122.9L129.4 123.8L133.7 124.2L138 125.1L142.3 125.9L146.6 126.4L145.8 127.7L142.3 129.4L140.6 131.1L146.6 132L155.2 132L155.2 142.3L-155.2 142.3ZM40.1 24L42.3 24.2L44.8 23.8L46.1 24.2L46.4 25.4L44.7 25.8L44.5 26.5L43.9 26.5L44.9 27.6L46 28.5L46.1 29.3L46.2 30.2L47 31.1L47 32.7L44 33.3L42 32.5L41.8 31.5L42.2 30L41.3 28.6L40.5 27.6L40.5 26.3L40 25.4L40.5 24.8ZM50.5 24.6L53 24.6L52.6 26.3L50.9 26.7ZM165.2 18.9L166 18.7L165.9 18.6L165.1 18.8ZM160 19.8L160.9 19.6L160.7 19.5L159.9 19.7ZM156.1 20.1L157 19.9L156.8 19.8L156 20ZM150.9 19.9L151.8 19.8L151.6 19.6L150.9 19.8ZM437.3 26.4L438.2 26.1L438 25.9L437.2 26.3ZM439.9 24.9L440.7 24.6L440.6 24.5L439.8 24.8ZM442.5 23.3L443.3 22.9L443.2 22.8L442.4 23.2ZM444.2 21.7L445.1 21.4L444.9 21.3L444.1 21.6ZM257.9 109L260.5 109.1L260 109.6L258.5 109.6ZM277.9 111.4L279.4 111.8L278.9 111.6ZM270.7 117L271.9 117.1L271.3 117.2ZM176 47.3L177 47.9L176.1 48.4L175.9 47.7ZM172.7 45.5L174.5 46.1L176 46.7L174.8 46.4ZM162.3 9.7L164.7 10.2L164.9 10L163 10ZM166.5 12.8L167.8 13L166.9 12.6ZM370.3 107.1L371 107.2L370.6 107.5ZM305.4 33.8L308.8 34.4L311.4 33.2L313.1 33L317 32.8L319.1 32.5L320 32.9L319.6 33.8L320.1 34.3L319.2 35.2L320.2 36.1L321.9 36.3L323.7 36.8L326.9 38.6L327.8 38L327.8 37.1L329 36.3L330.4 36.6L332.1 37.4L335.5 38L336.8 37.5L338.4 37.7L340 37.7L340.6 39.3L340.1 40.7L339.3 41.1L340.7 44L342.2 46.6L342.3 47.8L343.4 49.6L344.3 51.2L345.7 52.6L347.2 53.5L347.7 54.7L349.3 55.7L351.9 55L354.7 54.5L354.6 55.7L353.6 57.8L352.8 59.5L351.9 60.8L350.2 63L349.6 63L348 64.3L347.2 65L345.8 66.7L344.7 68.2L344 70L344.4 70.6L344.6 71.6L344.7 73.3L345.4 73.9L345.4 75.9L345.6 77.6L344.6 79.1L342.3 80.1L340.5 81.8L340.9 83.7L341.1 85.3L339.4 86.5L338.6 87L338.9 88L338.4 89.4L337.2 90.5L336.2 91.7L334.6 93.2L332.6 94L329.9 94L327.8 94.7L326.4 94.2L326.4 93.2L326 92.7L325.4 91L324.7 89.4L323.6 87.6L323 84.5L322 82.6L320.7 79.6L320.7 78.5L321.1 76.8L322.1 75.6L322.5 74.2L321.9 72.3L321.1 69.9L320.7 68.8L319.6 67.5L318 65.2L318.7 64.4L318.8 63L318.9 61.2L317.8 60.8L316.5 60.9L315.7 61L314.4 59.4L313.4 59.2L311.8 59.4L310.3 60L308.7 60.6L307.1 60.1L305.8 60.4L304 60.9L302.7 60.4L301.2 59.3L299.7 58.3L299.1 57.4L298.7 56.5L297.9 55.6L297 54.4L296 53.5L295.4 52L296.3 50.9L296.7 49.1L296.5 47.9L295.8 46.8L296.4 45.3L297.1 44L298 42.2L299.4 40.6L301.4 39.7L302.2 38.5L302 37.5L303.2 36.1L303.9 35.7L304.6 35.4L305.3 34.1ZM353 75.1L353.6 76.3L354.1 77.9L353.5 79.4L353.1 80.2L352.5 82L351.9 83.7L351.1 86.2L349.5 86.7L348.5 86.3L348.2 84.9L347.8 83.7L348.7 82.2L348.8 80.2L348.5 79.4L350.4 78.2L351.7 76.8L352.3 76.3ZM305.7 33.6L305.1 33.2L304.1 32.6L302.8 32.8L302.9 31.3L302.3 31.2L302.8 30L303 29.2L302.8 28L302.5 27.6L303.6 27L306.2 27.2L308.9 27.3L309.3 26.2L309.5 25L308.6 24L306.6 23.4L306.4 22.9L307.9 22.6L309.1 22.7L308.9 21.8L310.5 22.1L311.9 21L312.7 20.6L313.6 20.4L314.4 19.6L314.6 19L316.5 18.5L317.8 18.5L317.9 17.4L317.5 16.8L317.6 15.8L319.6 14.9L319.4 16.2L319.7 16.8L319 17.4L319.9 18.1L320.9 17.9L322.7 18.2L324.7 17.7L326.5 17.5L327.7 17.6L328.7 17.1L328.6 16L329.5 15L331.3 15.5L330.8 14.2L331.8 13.5L334.7 13.4L336.5 13L335.1 12.5L332.1 12.8L329.7 12.9L329 12.1L329.4 10.1L332.4 8.5L329.4 7.9L328 9.5L326.4 10.4L325.2 11.2L325.2 12.3L326.6 13.1L326.1 13.5L324.7 15.5L324.3 16.2L322.7 16.9L321.6 16.7L321.3 16L320.8 14.9L320.2 13.8L319.6 13.4L317.4 14.7L315.4 13.9L315 12.6L314.8 11.2L317 10.4L319.5 10L320.9 8.2L322.6 6.6L324.3 5.6L326.8 4.7L330.8 3.9L332.8 3.4L335.1 3.6L337.2 4.1L339 4.8L341.6 5.1L345.9 6.6L345 7.8L340.3 7.3L340.5 9.1L343.2 9.3L345.4 9L348 7.6L348.5 5.6L350.6 6L356.2 5.7L360.5 5.3L362.2 4.7L367.4 4.7L369.6 2.2L370.9 1.3L373 1.9L373 6L375.2 2.6L379.5 1.3L385.5 0.4L392.4 -1.3L405.4 -1.7L408 1.3L419.2 1.3L422.6 3.5L431.2 3L439.9 3.6L448.5 4.7L457.1 4.7L465.8 5.5L470.1 6.9L474.4 7.6L474.6 7.7L472.7 9.1L467.5 8.9L463.6 8.9L464.9 10.8L458.9 12.1L452.8 12.9L451.1 14.7L450.7 16.4L448.5 19L445.7 20.7L445.1 19L445.1 15.5L448.5 12.1L444.2 13.4L441.6 13.5L440.6 13.3L433.8 13.5L431.9 14.7L428.7 18.1L432.4 19.1L432.5 21.6L431.5 23.3L429.5 25L426.9 27.2L424.3 27.5L423.2 28.2L422.4 29.3L420.9 30.4L422.1 32.8L422 34.2L419.6 35L419.3 33.6L419.7 32.4L418.5 31.9L417.9 30.4L415.4 31.1L415.9 29.8L414.9 29.5L413.1 30.9L412 31.1L413 32.4L413.3 32.7L414.6 32.1L416.2 32.5L414.3 33.6L413.3 34.8L414.7 36.7L415.6 37.4L415.6 38.1L415.7 39L415.2 40.1L414 41.8L413.4 42.7L412 44L411 44.7L409 45.5L408.4 45.6L406.2 46.2L405.6 47.2L405.1 46.2L404.1 46.1L402.5 46.8L401.8 48.3L402.5 50L403.8 50.8L404.7 53.5L404.7 54.8L402.8 55.7L402.4 56.5L401.1 57.3L401.1 56.1L399.8 55.6L398.7 54.2L397.5 53.7L397.2 53.1L396.8 53.9L396.1 56.1L397.1 58.5L398 59.1L398.7 59.4L399.7 60.9L399.7 62.5L400.4 63.5L399.7 63.5L397.9 62.3L397 60L397.1 59.1L395.3 57.9L395.5 56.1L395 53.5L394.7 50.5L392.7 51.1L391.8 50.6L391.7 48.5L390.6 47.3L389.7 45.5L388.6 45.7L387.3 46L385.5 46.3L385.5 47L383.8 48.1L381.5 50.4L379.8 51.3L379.7 53.5L379.3 55.8L377.9 57L377.3 57.7L376.3 56.5L375.2 53.9L374.2 51.4L373.4 48.3L373.2 46.5L372.9 45.5L370.9 46.8L370 45.5L370.9 44.9L369.6 44.3L368.3 43.3L365.7 42.9L363.6 43L361.2 42.7L359.9 42.4L359.1 41.2L357.1 41.8L354.9 40.6L353.9 39.3L352.6 38.8L351.9 39.3L353.3 41.4L353.8 42.3L354.9 42.2L355 43.5L357.4 43.7L358.8 42.3L359.1 41.9L359.1 43.2L361 44.3L362.1 45.3L361 47L360.3 48.3L357.9 50L355.5 51.2L352.8 52.2L349.3 53.7L348.1 53.7L347.7 51.8L347.4 50.5L346.2 47.9L344.7 46.2L343.2 43.6L341.4 40.7L340.7 39.3L340.1 40.7L338.5 38.8L338.4 37.8L340.3 37.4L340.5 37L340.8 36.1L341.1 35.5L341.5 34.1L341.6 33L340.3 33L338.5 33.6L336.9 33L334.7 33L334 32L333.4 30.8L333.1 30.1L335.5 29.3L337.7 29.2L339.2 28.5L340.9 28.5L341.8 29.1L343.7 29.4L346.4 28.8L346.5 28L344.7 27.1L343.1 26.1L342.2 25.7L343.5 25L344.4 24L342.7 24.2L340.9 24.7L340.5 25.3L341 25.8L339.4 26.4L338.4 25.5L339.5 24.8L337.2 24.4L336.8 24.6L336 25.6L335.1 26.6L334.4 27.4L334.6 28.8L335.5 29.2L333.1 29.5L331.2 29.6L330.3 29.8L330 29.9L330.3 30.8L331.2 31.9L330.3 32.4L330.5 33.3L329.9 33.3L329.2 33L328.9 32.1L328.7 31.7L328.4 30.9L327.6 30.3L327.2 29.8L327.3 28.6L326.5 28L324.7 27.2L323.6 26.5L322.6 26L322.2 25.4L321.1 25.5L321.2 26.6L322.2 27.1L322.7 28.1L324.3 28.6L325.1 29.2L326.5 30.1L325.3 29.8L324.8 30.5L325.2 31.1L324.4 31.9L324 31.7L324.1 30.6L323.4 30L322.8 29.5L321.3 28.8L320.1 28.1L319.4 27.2L318.2 26.4L316.8 27L315.2 27.3L313.9 27.2L313.2 27.6L313.3 28.6L312.4 29L311.3 29.3L310.2 30.6L310.7 31.3L310.1 31.7L309.8 32.3L308.7 33L306.7 33ZM305.6 21.5L307.5 21.3L309.6 21L311.7 20.5L312 19.3L310.8 18.6L310.4 17.7L309.2 16.8L308.8 16.4L307.9 16.4L308.7 15.4L308.9 15L307.5 14.9L307.9 14.1L306.2 14.1L305.5 15.1L305.7 16.1L305.6 17L306.4 17.4L307.6 17.3L307.4 17.7L307.9 18.3L307.8 18.7L306.5 18.7L306.9 19.2L307 19.6L305.9 20L307.7 20.4L306.9 20.5ZM305.3 19.7L305.2 18.7L305.3 17.7L305.4 17.1L304.2 16.9L303.2 17.3L301.9 17.9L302 18.6L302.5 18.9L301.5 19.8L302.2 20.3L303.6 20L305 19.7ZM291.5 9.5L289.8 8.2L291.1 7.4L295 7.6L298 7.4L298.9 8.5L297.6 9.2L295 10L292.4 9.7ZM354.9 3L356.6 3.7L360.1 3.8L358.4 2.2L359.2 0.4L361.4 -0.7L357.1 -0.7L355.4 1.7ZM423.4 35.4L424.4 35.1L426.9 34.9L427 35.5L428.6 35.1L430.2 34.9L431.1 34.6L432 33.9L432.1 32.8L432.6 31.7L433 30.6L432.5 29L431.5 29.2L431.2 30.2L431.1 31.5L430 32.5L428.5 32.5L427.8 33.8L425.2 34L423.9 34.9ZM431.2 28.9L432.3 28.6L434 28.5L436.3 27.3L435.8 26.6L432.9 25.4L432.5 26.9L431.5 27.4ZM422.5 35.8L423.5 35.5L424.3 36.7L423.7 37.7L422.9 37.8L422.4 36.6ZM424.8 36L425.6 35.1L426.7 35.2L426.3 36L425.2 36.5ZM433 25L434.3 24.6L434 22L435.1 22.4L434.1 20.7L433.8 19L433.5 17.9L433 18.5L432.7 20.3L433.1 22.4L432.9 24.5ZM414.9 43L415.7 43.1L414.9 45.7L414.2 45.1L414.1 44.4ZM404.2 48.1L405.5 47.4L406.2 47.8L405 49L404.3 48.7ZM379.4 56.5L379.7 56.2L380.5 57.4L381.1 58.7L380.4 59.5L379.5 59.4L379.3 57.8ZM414.5 48.7L415.9 48.7L415.7 50.9L415.4 51.8L415.7 52.6L417.5 53.5L416.8 53.5L414.9 52.8L414.5 52.3L414 50.9L414.3 50.5ZM415.7 58.7L417 58L418.3 56.9L419.4 56.7L419.6 58.7L419.2 59.3L418.6 59.9L417.5 59.1L416.2 58.2ZM417.7 53.8L418.7 54.1L418.9 55.2L418.3 56.1L417.7 55.5ZM415.7 54.5L416.7 55L416.2 55.6L415.6 55.6ZM416.2 55.4L417 55.6L416.8 56.8L416.1 56.3ZM417.4 55L417.5 55.3L416.9 56.4ZM414.4 53.1L415.3 53.3L415 54.2L414.3 53.8ZM413.1 54.9L413.7 55.5L412.9 56.4L411.6 57.5L411.8 57.2ZM404.5 63.1L405 63L406.4 62.5L408 61.9L408.8 60.7L410 60.1L410.6 59.5L411.2 58.7L412 59.2L413.4 60.1L412.4 60.7L412 61.5L412.3 62.8L413.1 63.8L412.2 64L411.8 65.4L411.1 66L411 66.9L410.6 67.8L409.3 68.2L408.8 67.6L406.9 67.6L405.6 67.2L405.4 66.2L404.5 64.7ZM392.7 59.9L394.6 60.2L395.6 61.4L397.1 62.8L398.5 63.5L400 64.3L400.6 65.6L401.9 67.3L401.8 69.7L400.7 69.8L398.7 68.2L397.6 66.9L397 65.4L395.9 63.8L394.6 62.5ZM401.2 70.6L401.9 69.8L403.9 70.1L405.7 70.7L407.7 70.7L409.2 71.4L409.3 72.2L406.2 71.8L403.7 71.4L402.2 71.1ZM409.3 71.7L410.3 71.9L409.9 72.3ZM410.6 71.9L413.1 71.8L413.1 72.3L410.6 72.4ZM413.8 72L416.6 71.8L416.4 72.2L413.9 72.3ZM413.1 72.9L414.7 73.2L414.3 73.6L413.1 73.2ZM417 73.6L417.9 72.6L420.3 71.9L418.3 73.2ZM413.6 69.5L414.3 69.4L414.3 67.1L414.9 67L415.7 68.8L416.8 68.8L416.1 67.5L415.1 66.3L416.8 65.6L415.4 65.4L414.3 64.3L415.3 64.3L417 63.9L418.5 63.3L417.9 64.4L414.9 63.7L414 64.1L413.8 64.9L413.4 66L413 67.1L413.7 67.8ZM420.5 63.1L420.9 62.8L421.5 63.4L421.1 64.3L421.6 64.4L420.8 65.4L420.5 64.3ZM420.8 67.3L422.6 67.1L423.3 68L421.1 67.8ZM419.2 67.5L420.2 67.5L419.9 68.1L419.2 67.9ZM423.5 65.8L423.7 65.4L424.8 65L426.1 65.5L426.2 66.4L426.9 67.5L427.8 66.7L429.4 66L431.2 66.8L432.1 66.9L435.1 68L436.3 69L437.7 70L438.1 70.5L437.3 70.9L438.2 71.8L439.5 73L440.6 73.8L439.4 73.7L437.5 72.9L436.4 71.6L434.7 71.3L434.1 72.5L433.4 72.7L432.1 72.6L431.2 71.7L430 71.9L429.3 71.1L430 70.6L429.4 69.3L426.9 68.5L425.6 68.1L425 68.2L424.4 67.2L425.4 66.8L424.4 66.4ZM438.4 69.4L439.9 69L441.2 68.8L441.8 68.3L441.6 69.4L440.3 70L438.6 69.9ZM440.3 66.9L441.6 67.5L442.6 68.7L442.3 68.8L441.4 68ZM443.8 69L444.6 69.7L445.1 70.6L444.4 70.3ZM445.5 71.2L446.8 71.8L446.2 72ZM447.6 71.6L449.4 72.6L448.9 73L447.6 72.1ZM448.5 72.7L449.2 73.2L448.7 73.2ZM449.5 73.5L450.5 73.9L449.8 74ZM454.1 77.6L454.8 78.1L454.5 78.9L455.7 80L455.8 80.2L455 78.8ZM452 82.1L453.2 82.8L454.5 83.9L454.1 84.1L452.4 82.8ZM463.4 79.8L464.5 79.6L464.5 80.4L463.5 80.3ZM464.7 78.8L465.8 78.6L465.8 79.2L464.9 79.3ZM459.5 94.4L460.8 95.2L461.3 96.4L461.9 96.2L462.3 97L464.5 97.2L463.9 98.5L463.1 98.8L462.5 100.1L461.6 100.6L461.3 100.3L461.4 99.2L460.4 98.5L461.1 97.5L461 96.5L460.1 95.3ZM459.5 99.6L460.1 100.1L460.8 100.2L460.7 100.8L460.1 101.5L459.5 102.3L459.8 102.5L458.4 102.8L457.8 104.3L456.8 104.9L455.7 104.9L454.1 104.4L454.4 103.7L455.6 102.7L457.1 101.8L458.2 101.3L458.7 100.5L458.9 99.9ZM435.3 100.2L438.3 100.2L438.4 101.3L437.3 102.4L436.1 102L435.4 100.8ZM408.9 83.5L408.4 85.4L408.2 87.1L409.3 89.5L409.7 91L410.3 92.3L410.2 93.4L409.7 93.7L409.7 94.3L412.2 95L414 93.9L415.7 93.9L417.5 93.2L419.2 92.6L421.8 92L423.7 91.9L425.2 92.4L426.2 93.1L427.3 94.5L427.8 94L429.1 93.2L429.4 94L428.7 94.9L429.6 94.2L430 95.4L431 96.2L431.7 97.5L432.5 97.8L434.3 98L435.5 97.4L436.7 98.3L437.7 97.5L439.8 97L440 95.5L440.9 93.9L442 92.5L442.5 91L443 89.4L442.5 88L442.7 86L441 85.3L440.6 84.1L439.3 82.8L438.5 82L437.1 81.3L436.4 79.8L435.9 78.5L435.8 77.6L434.4 76.8L434.3 75.7L433.4 73.9L432.6 75.5L432.5 77.6L431.9 79.8L430.6 79.7L428.7 78.4L427.4 77.5L427.8 76.3L428.5 75.2L427.4 75.1L424.9 74.6L423.5 75.2L423.3 75.5L422.8 76.2L422.2 77.5L420.9 77.6L419.6 76.8L418.3 77.3L417.5 78.8L416.5 78.8L415.9 80.2L414.9 81.5L413.1 82L411.4 82.5L410.6 82.6ZM243.7 57.2L245 56.5L245.4 55.7L246 55.2L247.5 55L248.5 54L249.1 54.7L249.3 55.2L250.1 54.8L250 54.3L250.6 54.8L251.9 55.6L252.8 55.6L254.9 55.9L256.2 55.5L257.1 55.5L256.6 56L257.9 57.4L258.9 57.5L260.3 58.8L261.3 59.5L262.9 59.6L265.4 60.5L266.1 61.1L267.4 63.1L267.4 64.3L266.9 64.7L268.7 65.8L270.8 65.6L272.3 66.9L274.4 67.2L277.3 67.9L278.6 68.9L280.1 69.4L280.5 70.8L280.3 72.5L279 73.8L277.3 75.9L276.9 77.6L276.7 80L275.7 82.2L275.1 83.7L274.3 84.5L273.2 84.5L271.7 85.2L270.6 85.4L268.7 87.1L268.6 89.3L267.1 91L265.5 92.5L264.4 93.8L263.1 94.8L262 94.8L260.6 94.5L260.1 94.5L261.1 95.3L261.6 96.1L260.9 97.5L259.6 98.1L256.8 98.3L256.8 99.6L254.4 99.9L254.9 101.2L254.4 101.8L254.2 103.2L252.3 104.4L253.7 105.9L252.3 107.4L251 109.1L251.5 109.8L251.4 110.4L254.3 111.9L252.7 112.4L250.1 112.1L249.3 111.7L246.7 110L245.6 107.8L245.4 106.1L246.2 104.8L246.7 102.7L246.8 101.4L246.9 99.2L247.1 97L247.8 95.3L248.7 93.2L248.8 90.6L249.4 88L249.8 85.1L250 82L249.9 80.5L248.8 79.6L245.8 77.9L244.7 76.6L244.1 75.1L242.4 72L241.6 70.6L240.5 69.9L240.4 68.7L241.2 67.6L241.6 67.2L240.7 66.6L241.4 64.7L241.5 64L242.4 63.4L242.7 62.5L243.7 61.3L243.8 59.1L243.3 58.5ZM243.7 57.2L241.9 56.4L240.6 57.1L239.8 56.8L238.5 55.4L238.3 53.9L238.7 51.8L237.2 50.9L234.6 51.1L234.3 49.6L235 47.9L235.5 46.2L232.9 46.4L232.4 47.6L231.2 48.7L229 49L227.6 48.1L226.4 46.2L226.1 44L226.5 40.7L228.7 39.4L230.3 39.1L232.4 39.6L233.6 39.7L233.3 38.6L235 38.6L236.8 39.1L238.1 38.8L239.2 40.5L239.9 42.2L240.8 43L241.4 42.4L241 40.1L240.3 38.6L240.6 37.1L242.4 35.7L243.3 35.4L245.4 34.3L245 32.8L245.3 32L245.8 31.2L246.7 29.8L248.4 29.3L249.7 28.8L250.1 28.6L249.6 28L250 27L251.9 26.4L252.8 26.1L253.6 25.7L254.9 25.6L253.7 27L255.7 26.3L257.9 25.7L258.6 24.8L257.5 24.2L257.9 25.3L254.9 24.8L254.6 23.5L255.1 22.6L253.1 22.3L250.6 23.3L252.7 21.7L255.3 21.4L258.8 21.4L261.3 20.3L262.5 19.7L262.2 18.5L260.9 17.7L259.2 17L257.9 16.4L257 15.1L255.3 13.4L254.7 12.7L254 13.8L252.3 14.4L250.6 14L250.6 12.5L248.8 11.9L246.7 11.2L243.5 10.8L243.2 12.5L244.1 14.2L244.5 16L242.4 17.7L241.9 19.8L241.1 20.4L239.3 19.1L237.2 17.1L234.6 16L231.2 15.4L229.3 14L228.7 12.5L230.3 11.4L232.4 9.9L234.6 9.3L235.5 8.4L236.2 7.3L237.4 6L239.8 6L240.2 4.7L237.2 4.5L234.6 5.6L232.9 5.3L229 2.6L227.7 6L226 6.2L221.7 6L217.4 5.8L212.2 6.2L210.9 5.3L207 4.8L203.1 4.8L200.1 4.1L198.4 4.5L195.4 4.7L193.2 5.3L188.9 4.7L185.4 4.2L181.1 3.9L175.3 3.2L172.5 3.8L169.9 4.6L167.2 5.3L169.1 6L170.8 7.1L168.6 7.3L165.6 8.1L167.3 9.1L170.8 9.1L171.6 9.9L168.6 10.4L167.3 11.6L168.6 12.9L170.8 13.8L174.2 14.1L175.1 14L173.8 16L170.8 17.3L168.6 17.6L170.8 17L174.2 16L176.8 15.1L178.1 13.8L179.6 13.6L180.7 11.9L181.6 13.1L183.7 12.2L186.3 12.9L188.9 13L191.5 14L192.8 14.7L194.5 16L195.8 17.3L197.9 17.7L200.1 20.3L200.5 21.1L202.3 21.6L204.2 22.4L204.8 23.3L202.9 22.9L203.6 24.8L203.5 26.7L203.1 27.8L203.4 29.8L204.4 31.9L204.8 32.2L205.4 33.2L206.5 34.9L208.3 35.4L209.4 36.5L209.8 37.5L210.6 38.6L212 40.1L211.4 40.8L213.7 43.1L215.6 44.9L216.1 44.4L215.4 43.8L214.3 42.3L213.2 40.1L211.7 38.4L211.5 37.3L213 37.8L214.8 39.7L214.8 40.6L216.2 42.6L218.7 44.7L219.7 46.2L219.4 47.1L220.5 48.2L223.4 49.6L224.3 50.2L227.3 51.2L228.6 50.7L230.3 51.5L232 52.7L233.7 53.1L235 53.5L235.9 54.3L236.6 55.2L236.5 56.1L237.6 56.5L238.5 57.5L239.8 57.6L241.2 58.4L241.5 57.5L241.9 57L243 57.5L243.3 58.5ZM257.2 7.2L255.3 8.2L254.4 9.1L254.9 10.4L254 11.2L251.9 11L248.8 10.4L246.2 9L243.7 8.4L247.1 7.3L247.5 6.5L245.8 5.6L243.2 4.3L238.5 4.3L234.6 3.9L233.3 1.5L237.2 1L241.5 1.1L244.1 1.9L246.7 2.8L250.1 3.6L251.9 4.1L253 5.6L255.3 6.5ZM241.5 9.5L240.2 9.9L236.8 9.7L235.5 9.1L236.8 7.9L238.5 7.8L240.2 8.2ZM223.8 5.2L220.4 5.3L218.6 5L215.6 5.3L212.6 4.7L209.2 4.4L208.7 3.6L210.5 3L209.2 2.2L211.3 1.6L215.6 1.9L218.2 1.5L220.4 3.2L223 4.1ZM206.1 3L202.4 2.7L203.1 1.3L204.4 0.5L208.7 0.9L210.9 1.3L209.2 2.6ZM226.8 3L224.7 3.2L222.1 2.2L223.4 1.3L226 0.9L227.3 1.7ZM232 2.6L229 2.6L228.1 1.3L230.3 0.7L232.4 1ZM228.1 5.3L225.5 5.6L224.7 4.7L226.8 4.3L228.1 4.7ZM219.9 -0.4L219.1 0.2L215.6 0.4L211.3 0.4L209.6 -0.4ZM241.5 -0.4L241.5 0.3L234.6 0.5L231.2 0.2L227.7 -0.4ZM226.8 -0.4L225.5 0.2L223.4 0L223 -0.4ZM272.6 13.1L269.1 12.1L267.4 10.8L266.1 9.3L264.4 7.3L264.8 5.6L266.5 4.7L263.5 3.9L263.1 2.6L261.3 0.9L260 -0.4L260 -1.3L293.2 -1.3L293.2 -0.4L294.1 0.9L292 2.2L291.5 3.9L288.1 5.6L282.9 6L280.3 7.8L277.7 8.2L275.6 9.5L274.3 11.2L273 12.5ZM265.1 23.7L264.4 24.5L262.6 24.2L259.3 23.6L260 22.4L260.9 21.1L262.6 20.2L262.2 21.6L263.9 22L264.8 22.9ZM237.2 45.8L238.9 44.9L239.5 44.7L241.1 44.8L243.7 45.9L245.3 46.5L246.6 47.3L245.4 47.5L243.5 47.5L244.1 46.8L242.8 46.2L241.1 45.8L240.2 45.5L239.3 45.7L238.1 45.6ZM246.2 48.8L247.7 47.5L250.1 47.6L251.6 48.7L250.2 48.8L248.8 49.5L247.7 49.1L246.3 49ZM243 48.8L244.8 49.2L244.3 49.3L243.2 49ZM252.5 48.7L253.9 48.9L253.7 49.2L252.5 49.2ZM199.8 20.9L202.7 21.6L204.2 22.9L202.9 22.8L201 21.6ZM177.2 14.7L179.1 14.7L178.1 15.5L177.2 15.7ZM155.2 131.6L163.9 132L174.2 132L181.1 131.1L189.8 130.3L198.4 129.6L205.3 128.8L215.6 128.7L224.2 128.8L231.2 129.6L237.2 130.3L244.1 130.3L244.8 127.1L245.4 126.2L250.1 124.4L253.6 122.3L257 120.4L261.3 119.2L260.6 119.7L257.5 121.1L254.9 122.8L252.3 124.1L246.2 126.8L245.6 130.3L250.5 130.3L250.8 125.6L253.6 124.1L257 124.2L257.9 126.8L257.7 130.3L258.8 132L276 132L284.6 131.1L293.2 129.9L301 127.2L310.5 125.4L319.1 125.1L327.8 125.1L336.4 124.7L345 124.1L351 122.9L353.6 122.3L357.9 122.1L362.2 122.9L367.4 123.2L370.9 124.7L373.5 124.9L376.1 124.2L379.5 122.9L388.1 122.1L396.8 121.6L405.4 121.8L414 122.3L422.6 121.8L431.2 122.3L435.6 122.9L439.9 123.8L444.2 124.2L448.5 125.1L452.8 125.9L457.1 126.4L456.3 127.7L452.8 129.4L451.1 131.1L457.1 132L465.8 132L465.8 142.3L155.2 142.3ZM350.6 24L352.8 24.2L355.3 23.8L356.6 24.2L356.9 25.4L355.2 25.8L355 26.5L354.4 26.5L355.4 27.6L356.5 28.5L356.6 29.3L356.7 30.2L357.5 31.1L357.5 32.7L354.5 33.3L352.5 32.5L352.3 31.5L352.7 30L351.8 28.6L351 27.6L351 26.3L350.5 25.4L351 24.8ZM361 24.6L363.5 24.6L363.1 26.3L361.4 26.7Z" fill="#d3d3d3" fill-rule="evenodd"/><path d="M-79.4 24.4L-76.8 23.3L-73.3 24.2L-72.9 24.6L-75.9 24.7ZM-75.7 28.5L-75 25.2L-73.3 25L-74.4 27.2ZM-72.9 25L-69.4 25.4L-70.3 26.7L-71.2 27.5ZM-71.9 28.7L-68.1 27.7L-68.6 28L-70.7 28.9ZM-68.8 27.3L-66 26.7L-65.7 27.2L-68.1 27.4ZM-85.4 21.3L-83.7 18.3L-83.2 20.3L-83.7 21.1ZM-101.3 12.1L-95.7 10.6L-97.9 11.2L-100.1 12.2ZM-107.8 8.6L-103.5 6.9L-101.8 7.8L-104.4 8.6ZM-94.4 13.8L-90.6 13.4L-91 13.8ZM-87.1 16.4L-88 15.1L-86.2 15.1ZM63.8 24.6L68.1 24.3L66.4 25ZM89.4 20.2L93.2 18.5L94.7 16.6L91.9 19.4ZM27.6 65L29.3 65L29.3 67.3L27.4 66.4ZM25.2 67.5L26.3 70.3L26.7 72.3L25.4 71.2ZM29.3 72.9L30.2 75.1L30.4 77L29.7 75.1ZM12.1 53.7L12.5 53.1L12.9 53.5ZM-60.2 77.9L-59.3 78.7L-59.5 78.1ZM52.6 24.2L52.6 25L51.8 24.6ZM231.2 24.4L233.7 23.3L237.2 24.2L237.6 24.6L234.6 24.7ZM234.8 28.5L235.5 25.2L237.2 25L236.1 27.2ZM237.6 25L241.1 25.4L240.2 26.7L239.3 27.5ZM238.6 28.7L242.4 27.7L241.9 28L239.8 28.9ZM241.7 27.3L244.5 26.7L244.8 27.2L242.4 27.4ZM225.1 21.3L226.8 18.3L227.3 20.3L226.8 21.1ZM209.2 12.1L214.8 10.6L212.6 11.2L210.5 12.2ZM202.7 8.6L207 6.9L208.7 7.8L206.1 8.6ZM216.1 13.8L219.9 13.4L219.5 13.8ZM223.4 16.4L222.5 15.1L224.2 15.1ZM374.3 24.6L378.6 24.3L376.9 25ZM399.9 20.2L403.7 18.5L405.2 16.6L402.4 19.4ZM338.1 65L339.8 65L339.8 67.3L337.9 66.4ZM335.7 67.5L336.8 70.3L337.2 72.3L335.9 71.2ZM339.8 72.9L340.7 75.1L340.9 77L340.2 75.1ZM322.6 53.7L323 53.1L323.4 53.5ZM250.3 77.9L251.2 78.7L251 78.1ZM363.1 24.2L363.1 25L362.2 24.6Z" fill="none" stroke="#000" stroke-width="0.8"/></g>
<g id="ax"><path d="M0.00 0v-4.5M0.00 129.4v4.5M8.62 0v-2.3M8.62 129.4v2.3M17.25 0v-2.3M17.25 129.4v2.3M25.88 0v-4.5M25.88 129.4v4.5M34.50 0v-2.3M34.50 129.4v2.3M43.12 0v-2.3M43.12 129.4v2.3M51.75 0v-4.5M51.75 129.4v4.5M60.38 0v-2.3M60.38 129.4v2.3M69.00 0v-2.3M69.00 129.4v2.3M77.62 0v-4.5M77.62 129.4v4.5M86.25 0v-2.3M86.25 129.4v2.3M94.88 0v-2.3M94.88 129.4v2.3M103.50 0v-4.5M103.50 129.4v4.5M112.12 0v-2.3M112.12 129.4v2.3M120.75 0v-2.3M120.75 129.4v2.3M129.38 0v-4.5M129.38 129.4v4.5M138.00 0v-2.3M138.00 129.4v2.3M146.62 0v-2.3M146.62 129.4v2.3M155.25 0v-4.5M155.25 129.4v4.5M163.88 0v-2.3M163.88 129.4v2.3M172.50 0v-2.3M172.50 129.4v2.3M181.12 0v-4.5M181.12 129.4v4.5M189.75 0v-2.3M189.75 129.4v2.3M198.38 0v-2.3M198.38 129.4v2.3M207.00 0v-4.5M207.00 129.4v4.5M215.62 0v-2.3M215.62 129.4v2.3M224.25 0v-2.3M224.25 129.4v2.3M232.88 0v-4.5M232.88 129.4v4.5M241.50 0v-2.3M241.50 129.4v2.3M250.12 0v-2.3M250.12 129.4v2.3M258.75 0v-4.5M258.75 129.4v4.5M267.38 0v-2.3M267.38 129.4v2.3M276.00 0v-2.3M276.00 129.4v2.3M284.62 0v-4.5M284.62 129.4v4.5M293.25 0v-2.3M293.25 129.4v2.3M301.88 0v-2.3M301.88 129.4v2.3M310.50 0v-4.5M310.50 129.4v4.5M0 125.09h-2.3M310.5 125.09h2.3M0 116.46h-4.5M310.5 116.46h4.5M0 107.83h-2.3M310.5 107.83h2.3M0 99.21h-2.3M310.5 99.21h2.3M0 90.58h-4.5M310.5 90.58h4.5M0 81.95h-2.3M310.5 81.95h2.3M0 73.33h-2.3M310.5 73.33h2.3M0 64.70h-4.5M310.5 64.70h4.5M0 56.07h-2.3M310.5 56.07h2.3M0 47.45h-2.3M310.5 47.45h2.3M0 38.82h-4.5M310.5 38.82h4.5M0 30.19h-2.3M310.5 30.19h2.3M0 21.57h-2.3M310.5 21.57h2.3M0 12.94h-4.5M310.5 12.94h4.5M0 4.31h-2.3M310.5 4.31h2.3" stroke="#000" stroke-width="1.2" fill="none"/><rect x="0" y="0" width="310.5" height="129.4" fill="none" stroke="#000" stroke-width="1.3"/></g>
</defs>
<g transform="translate(23.8 18.3)">
<g clip-path="url(#mc)">
<g filter="url(#bl)"><rect x="-17.2" y="-12.9" width="47.7" height="21.9" fill="#f7f7f7"/><rect x="30.2" y="-12.9" width="8.9" height="21.9" fill="#e7e7e7"/><rect x="38.8" y="-12.9" width="8.9" height="21.9" fill="#d7d7d7"/><rect x="47.4" y="-12.9" width="60.7" height="21.9" fill="#c7c7c7"/><rect x="107.8" y="-12.9" width="26.2" height="21.9" fill="#d7d7d7"/><rect x="133.7" y="-12.9" width="17.6" height="21.9" fill="#e7e7e7"/><rect x="150.9" y="-12.9" width="8.9" height="21.9" fill="#c7c7c7"/><rect x="159.6" y="-12.9" width="8.9" height="21.9" fill="#b7b7b7"/><rect x="168.2" y="-12.9" width="60.7" height="21.9" fill="#a7a7a7"/><rect x="228.6" y="-12.9" width="8.9" height="21.9" fill="#b7b7b7"/><rect x="237.2" y="-12.9" width="17.6" height="21.9" fill="#a7a7a7"/><rect x="254.4" y="-12.9" width="8.9" height="21.9" fill="#b7b7b7"/><rect x="263.1" y="-12.9" width="17.6" height="21.9" fill="#d7d7d7"/><rect x="280.3" y="-12.9" width="17.6" height="21.9" fill="#e7e7e7"/><rect x="297.6" y="-12.9" width="21.9" height="21.9" fill="#f7f7f7"/><rect x="-17.2" y="8.6" width="13.2" height="8.9" fill="#d7d7d7"/><rect x="-4.3" y="8.6" width="34.8" height="8.9" fill="#a7a7a7"/><rect x="30.2" y="8.6" width="43.4" height="8.9" fill="#b7b7b7"/><rect x="73.3" y="8.6" width="34.8" height="8.9" fill="#c7c7c7"/><rect x="107.8" y="8.6" width="8.9" height="8.9" fill="#d7d7d7"/><rect x="116.4" y="8.6" width="17.6" height="8.9" fill="#e7e7e7"/><rect x="133.7" y="8.6" width="34.8" height="8.9" fill="#f7f7f7"/><rect x="168.2" y="8.6" width="8.9" height="8.9" fill="#d7d7d7"/><rect x="176.8" y="8.6" width="26.2" height="8.9" fill="#c7c7c7"/><rect x="202.7" y="8.6" width="17.6" height="8.9" fill="#b7b7b7"/><rect x="219.9" y="8.6" width="26.2" height="8.9" fill="#a7a7a7"/><rect x="245.8" y="8.6" width="8.9" height="8.9" fill="#c7c7c7"/><rect x="254.4" y="8.6" width="34.8" height="8.9" fill="#f7f7f7"/><rect x="288.9" y="8.6" width="8.9" height="8.9" fill="#e7e7e7"/><rect x="297.6" y="8.6" width="8.9" height="8.9" fill="#d7d7d7"/><rect x="306.2" y="8.6" width="13.2" height="8.9" fill="#a7a7a7"/><rect x="-17.2" y="17.3" width="90.9" height="8.9" fill="#b7b7b7"/><rect x="73.3" y="17.3" width="43.4" height="8.9" fill="#c7c7c7"/><rect x="116.4" y="17.3" width="8.9" height="8.9" fill="#d7d7d7"/><rect x="125.1" y="17.3" width="34.8" height="8.9" fill="#f7f7f7"/><rect x="159.6" y="17.3" width="8.9" height="8.9" fill="#e7e7e7"/><rect x="168.2" y="17.3" width="17.6" height="8.9" fill="#d7d7d7"/><rect x="185.4" y="17.3" width="60.7" height="8.9" fill="#c7c7c7"/><rect x="245.8" y="17.3" width="8.9" height="8.9" fill="#d7d7d7"/><rect x="254.4" y="17.3" width="8.9" height="8.9" fill="#e7e7e7"/><rect x="263.1" y="17.3" width="17.6" height="8.9" fill="#f7f7f7"/><rect x="280.3" y="17.3" width="8.9" height="8.9" fill="#e7e7e7"/><rect x="288.9" y="17.3" width="8.9" height="8.9" fill="#c7c7c7"/><rect x="297.6" y="17.3" width="21.9" height="8.9" fill="#b7b7b7"/><rect x="-17.2" y="25.9" width="30.5" height="8.9" fill="#b7b7b7"/><rect x="12.9" y="25.9" width="26.2" height="8.9" fill="#c7c7c7"/><rect x="38.8" y="25.9" width="8.9" height="8.9" fill="#979797"/><rect x="47.4" y="25.9" width="52.0" height="8.9" fill="#a7a7a7"/><rect x="99.2" y="25.9" width="17.6" height="8.9" fill="#b7b7b7"/><rect x="116.4" y="25.9" width="34.8" height="8.9" fill="#d7d7d7"/><rect x="150.9" y="25.9" width="17.6" height="8.9" fill="#c7c7c7"/><rect x="168.2" y="25.9" width="8.9" height="8.9" fill="#d7d7d7"/><rect x="176.8" y="25.9" width="17.6" height="8.9" fill="#e7e7e7"/><rect x="194.1" y="25.9" width="17.6" height="8.9" fill="#d7d7d7"/><rect x="211.3" y="25.9" width="43.4" height="8.9" fill="#c7c7c7"/><rect x="254.4" y="25.9" width="8.9" height="8.9" fill="#e7e7e7"/><rect x="263.1" y="25.9" width="8.9" height="8.9" fill="#d7d7d7"/><rect x="271.7" y="25.9" width="47.7" height="8.9" fill="#b7b7b7"/><rect x="-17.2" y="34.5" width="13.2" height="8.9" fill="#a7a7a7"/><rect x="-4.3" y="34.5" width="8.9" height="8.9" fill="#b7b7b7"/><rect x="4.3" y="34.5" width="26.2" height="8.9" fill="#c7c7c7"/><rect x="30.2" y="34.5" width="17.6" height="8.9" fill="#979797"/><rect x="47.4" y="34.5" width="60.7" height="8.9" fill="#a7a7a7"/><rect x="107.8" y="34.5" width="8.9" height="8.9" fill="#c7c7c7"/><rect x="116.4" y="34.5" width="8.9" height="8.9" fill="#e7e7e7"/><rect x="125.1" y="34.5" width="8.9" height="8.9" fill="#d7d7d7"/><rect x="133.7" y="34.5" width="17.6" height="8.9" fill="#c7c7c7"/><rect x="150.9" y="34.5" width="8.9" height="8.9" fill="#b7b7b7"/><rect x="159.6" y="34.5" width="17.6" height="8.9" fill="#c7c7c7"/><rect x="176.8" y="34.5" width="8.9" height="8.9" fill="#d7d7d7"/><rect x="185.4" y="34.5" width="26.2" height="8.9" fill="#e7e7e7"/><rect x="211.3" y="34.5" width="8.9" height="8.9" fill="#d7d7d7"/><rect x="219.9" y="34.5" width="8.9" height="8.9" fill="#b7b7b7"/><rect x="228.6" y="34.5" width="8.9" height="8.9" fill="#a7a7a7"/><rect x="237.2" y="34.5" width="26.2" height="8.9" fill="#c7c7c7"/><rect x="263.1" y="34.5" width="34.8" height="8.9" fill="#b7b7b7"/><rect x="297.6" y="34.5" width="8.9" height="8.9" fill="#a7a7a7"/><rect x="306.2" y="34.5" width="13.2" height="8.9" fill="#b7b7b7"/><rect x="-17.2" y="43.1" width="39.1" height="8.9" fill="#a7a7a7"/><rect x="21.6" y="43.1" width="26.2" height="8.9" fill="#979797"/><rect x="47.4" y="43.1" width="26.2" height="8.9" fill="#a7a7a7"/><rect x="73.3" y="43.1" width="34.8" height="8.9" fill="#979797"/><rect x="107.8" y="43.1" width="8.9" height="8.9" fill="#a7a7a7"/><rect x="116.4" y="43.1" width="8.9" height="8.9" fill="#b7b7b7"/><rect x="125.1" y="43.1" width="8.9" height="8.9" fill="#c7c7c7"/><rect x="133.7" y="43.1" width="8.9" height="8.9" fill="#d7d7d7"/><rect x="142.3" y="43.1" width="34.8" height="8.9" fill="#c7c7c7"/><rect x="176.8" y="43.1" width="8.9" height="8.9" fill="#d7d7d7"/><rect x="185.4" y="43.1" width="26.2" height="8.9" fill="#e7e7e7"/><rect x="211.3" y="43.1" width="8.9" height="8.9" fill="#c7c7c7"/><rect x="219.9" y="43.1" width="8.9" height="8.9" fill="#b7b7b7"/><rect x="228.6" y="43.1" width="8.9" height="8.9" fill="#979797"/><rect x="237.2" y="43.1" width="17.6" height="8.9" fill="#a7a7a7"/><rect x="254.4" y="43.1" width="17.6" height="8.9" fill="#b7b7b7"/><rect x="271.7" y="43.1" width="47.7" height="8.9" fill="#a7a7a7"/><rect x="-17.2" y="51.8" width="125.4" height="8.9" fill="#979797"/><rect x="107.8" y="51.8" width="8.9" height="8.9" fill="#a7a7a7"/><rect x="116.4" y="51.8" width="8.9" height="8.9" fill="#b7b7b7"/><rect x="125.1" y="51.8" width="17.6" height="8.9" fill="#c7c7c7"/><rect x="142.3" y="51.8" width="60.7" height="8.9" fill="#b7b7b7"/><rect x="202.7" y="51.8" width="8.9" height="8.9" fill="#a7a7a7"/><rect x="211.3" y="51.8" width="17.6" height="8.9" fill="#979797"/><rect x="228.6" y="51.8" width="8.9" height="8.9" fill="#878787"/><rect x="237.2" y="51.8" width="43.4" height="8.9" fill="#979797"/><rect x="280.3" y="51.8" width="17.6" height="8.9" fill="#a7a7a7"/><rect x="297.6" y="51.8" width="21.9" height="8.9" fill="#979797"/><rect x="-17.2" y="60.4" width="13.2" height="8.9" fill="#878787"/><rect x="-4.3" y="60.4" width="34.8" height="8.9" fill="#979797"/><rect x="30.2" y="60.4" width="8.9" height="8.9" fill="#878787"/><rect x="38.8" y="60.4" width="8.9" height="8.9" fill="#787878"/><rect x="47.4" y="60.4" width="8.9" height="8.9" fill="#686868"/><rect x="56.1" y="60.4" width="8.9" height="8.9" fill="#787878"/><rect x="64.7" y="60.4" width="8.9" height="8.9" fill="#878787"/><rect x="73.3" y="60.4" width="43.4" height="8.9" fill="#979797"/><rect x="116.4" y="60.4" width="8.9" height="8.9" fill="#a7a7a7"/><rect x="125.1" y="60.4" width="17.6" height="8.9" fill="#c7c7c7"/><rect x="142.3" y="60.4" width="8.9" height="8.9" fill="#b7b7b7"/><rect x="150.9" y="60.4" width="8.9" height="8.9" fill="#979797"/><rect x="159.6" y="60.4" width="17.6" height="8.9" fill="#878787"/><rect x="176.8" y="60.4" width="26.2" height="8.9" fill="#787878"/><rect x="202.7" y="60.4" width="34.8" height="8.9" fill="#878787"/><rect x="237.2" y="60.4" width="8.9" height="8.9" fill="#a7a7a7"/><rect x="245.8" y="60.4" width="26.2" height="8.9" fill="#979797"/><rect x="271.7" y="60.4" width="17.6" height="8.9" fill="#a7a7a7"/><rect x="288.9" y="60.4" width="8.9" height="8.9" fill="#979797"/><rect x="297.6" y="60.4" width="8.9" height="8.9" fill="#878787"/><rect x="306.2" y="60.4" width="13.2" height="8.9" fill="#979797"/><rect x="-17.2" y="69.0" width="13.2" height="8.9" fill="#b7b7b7"/><rect x="-4.3" y="69.0" width="26.2" height="8.9" fill="#a7a7a7"/><rect x="21.6" y="69.0" width="17.6" height="8.9" fill="#979797"/><rect x="38.8" y="69.0" width="8.9" height="8.9" fill="#787878"/><rect x="47.4" y="69.0" width="8.9" height="8.9" fill="#686868"/><rect x="56.1" y="69.0" width="8.9" height="8.9" fill="#878787"/><rect x="64.7" y="69.0" width="17.6" height="8.9" fill="#d7d7d7"/><rect x="81.9" y="69.0" width="8.9" height="8.9" fill="#b7b7b7"/><rect x="90.6" y="69.0" width="8.9" height="8.9" fill="#a7a7a7"/><rect x="99.2" y="69.0" width="26.2" height="8.9" fill="#979797"/><rect x="125.1" y="69.0" width="8.9" height="8.9" fill="#b7b7b7"/><rect x="133.7" y="69.0" width="8.9" height="8.9" fill="#c7c7c7"/><rect x="142.3" y="69.0" width="17.6" height="8.9" fill="#b7b7b7"/><rect x="159.6" y="69.0" width="8.9" height="8.9" fill="#a7a7a7"/><rect x="168.2" y="69.0" width="8.9" height="8.9" fill="#979797"/><rect x="176.8" y="69.0" width="8.9" height="8.9" fill="#787878"/><rect x="185.4" y="69.0" width="8.9" height="8.9" fill="#878787"/><rect x="194.1" y="69.0" width="8.9" height="8.9" fill="#979797"/><rect x="202.7" y="69.0" width="8.9" height="8.9" fill="#a7a7a7"/><rect x="211.3" y="69.0" width="17.6" height="8.9" fill="#979797"/><rect x="228.6" y="69.0" width="52.0" height="8.9" fill="#b7b7b7"/><rect x="280.3" y="69.0" width="8.9" height="8.9" fill="#a7a7a7"/><rect x="288.9" y="69.0" width="17.6" height="8.9" fill="#b7b7b7"/><rect x="306.2" y="69.0" width="13.2" height="8.9" fill="#a7a7a7"/><rect x="-17.2" y="77.6" width="13.2" height="8.9" fill="#c7c7c7"/><rect x="-4.3" y="77.6" width="8.9" height="8.9" fill="#b7b7b7"/><rect x="4.3" y="77.6" width="17.6" height="8.9" fill="#a7a7a7"/><rect x="21.6" y="77.6" width="17.6" height="8.9" fill="#979797"/><rect x="38.8" y="77.6" width="8.9" height="8.9" fill="#a7a7a7"/><rect x="47.4" y="77.6" width="8.9" height="8.9" fill="#979797"/><rect x="56.1" y="77.6" width="8.9" height="8.9" fill="#878787"/><rect x="64.7" y="77.6" width="8.9" height="8.9" fill="#a7a7a7"/><rect x="73.3" y="77.6" width="8.9" height="8.9" fill="#b7b7b7"/><rect x="81.9" y="77.6" width="52.0" height="8.9" fill="#a7a7a7"/><rect x="133.7" y="77.6" width="8.9" height="8.9" fill="#b7b7b7"/><rect x="142.3" y="77.6" width="8.9" height="8.9" fill="#a7a7a7"/><rect x="150.9" y="77.6" width="17.6" height="8.9" fill="#b7b7b7"/><rect x="168.2" y="77.6" width="26.2" height="8.9" fill="#a7a7a7"/><rect x="194.1" y="77.6" width="17.6" height="8.9" fill="#c7c7c7"/><rect x="211.3" y="77.6" width="8.9" height="8.9" fill="#b7b7b7"/><rect x="219.9" y="77.6" width="8.9" height="8.9" fill="#c7c7c7"/><rect x="228.6" y="77.6" width="8.9" height="8.9" fill="#d7d7d7"/><rect x="237.2" y="77.6" width="8.9" height="8.9" fill="#c7c7c7"/><rect x="245.8" y="77.6" width="52.0" height="8.9" fill="#b7b7b7"/><rect x="297.6" y="77.6" width="8.9" height="8.9" fill="#c7c7c7"/><rect x="306.2" y="77.6" width="13.2" height="8.9" fill="#b7b7b7"/><rect x="-17.2" y="86.3" width="30.5" height="8.9" fill="#b7b7b7"/><rect x="12.9" y="86.3" width="17.6" height="8.9" fill="#a7a7a7"/><rect x="30.2" y="86.3" width="8.9" height="8.9" fill="#b7b7b7"/><rect x="38.8" y="86.3" width="17.6" height="8.9" fill="#a7a7a7"/><rect x="56.1" y="86.3" width="17.6" height="8.9" fill="#b7b7b7"/><rect x="73.3" y="86.3" width="17.6" height="8.9" fill="#d7d7d7"/><rect x="90.6" y="86.3" width="8.9" height="8.9" fill="#c7c7c7"/><rect x="99.2" y="86.3" width="26.2" height="8.9" fill="#b7b7b7"/><rect x="125.1" y="86.3" width="8.9" height="8.9" fill="#a7a7a7"/><rect x="133.7" y="86.3" width="26.2" height="8.9" fill="#c7c7c7"/><rect x="159.6" y="86.3" width="34.8" height="8.9" fill="#d7d7d7"/><rect x="194.1" y="86.3" width="17.6" height="8.9" fill="#c7c7c7"/><rect x="211.3" y="86.3" width="8.9" height="8.9" fill="#d7d7d7"/><rect x="219.9" y="86.3" width="17.6" height="8.9" fill="#c7c7c7"/><rect x="237.2" y="86.3" width="17.6" height="8.9" fill="#b7b7b7"/><rect x="254.4" y="86.3" width="8.9" height="8.9" fill="#c7c7c7"/><rect x="263.1" y="86.3" width="26.2" height="8.9" fill="#d7d7d7"/><rect x="288.9" y="86.3" width="8.9" height="8.9" fill="#c7c7c7"/><rect x="297.6" y="86.3" width="21.9" height="8.9" fill="#b7b7b7"/><rect x="-17.2" y="94.9" width="21.9" height="8.9" fill="#c7c7c7"/><rect x="4.3" y="94.9" width="8.9" height="8.9" fill="#e7e7e7"/><rect x="12.9" y="94.9" width="8.9" height="8.9" fill="#c7c7c7"/><rect x="21.6" y="94.9" width="8.9" height="8.9" fill="#b7b7b7"/><rect x="30.2" y="94.9" width="8.9" height="8.9" fill="#c7c7c7"/><rect x="38.8" y="94.9" width="8.9" height="8.9" fill="#b7b7b7"/><rect x="47.4" y="94.9" width="17.6" height="8.9" fill="#c7c7c7"/><rect x="64.7" y="94.9" width="17.6" height="8.9" fill="#d7d7d7"/><rect x="81.9" y="94.9" width="17.6" height="8.9" fill="#c7c7c7"/><rect x="99.2" y="94.9" width="17.6" height="8.9" fill="#b7b7b7"/><rect x="116.4" y="94.9" width="8.9" height="8.9" fill="#c7c7c7"/><rect x="125.1" y="94.9" width="17.6" height="8.9" fill="#e7e7e7"/><rect x="142.3" y="94.9" width="17.6" height="8.9" fill="#d7d7d7"/><rect x="159.6" y="94.9" width="8.9" height="8.9" fill="#e7e7e7"/><rect x="168.2" y="94.9" width="8.9" height="8.9" fill="#f7f7f7"/><rect x="176.8" y="94.9" width="17.6" height="8.9" fill="#e7e7e7"/><rect x="194.1" y="94.9" width="8.9" height="8.9" fill="#d7d7d7"/><rect x="202.7" y="94.9" width="8.9" height="8.9" fill="#b7b7b7"/><rect x="211.3" y="94.9" width="8.9" height="8.9" fill="#c7c7c7"/><rect x="219.9" y="94.9" width="34.8" height="8.9" fill="#b7b7b7"/><rect x="254.4" y="94.9" width="8.9" height="8.9" fill="#c7c7c7"/><rect x="263.1" y="94.9" width="17.6" height="8.9" fill="#f7f7f7"/><rect x="280.3" y="94.9" width="8.9" height="8.9" fill="#d7d7d7"/><rect x="288.9" y="94.9" width="30.5" height="8.9" fill="#c7c7c7"/><rect x="-17.2" y="103.5" width="30.5" height="8.9" fill="#b7b7b7"/><rect x="12.9" y="103.5" width="8.9" height="8.9" fill="#a7a7a7"/><rect x="21.6" y="103.5" width="8.9" height="8.9" fill="#c7c7c7"/><rect x="30.2" y="103.5" width="8.9" height="8.9" fill="#b7b7b7"/><rect x="38.8" y="103.5" width="17.6" height="8.9" fill="#c7c7c7"/><rect x="56.1" y="103.5" width="8.9" height="8.9" fill="#d7d7d7"/><rect x="64.7" y="103.5" width="17.6" height="8.9" fill="#e7e7e7"/><rect x="81.9" y="103.5" width="17.6" height="8.9" fill="#c7c7c7"/><rect x="99.2" y="103.5" width="8.9" height="8.9" fill="#b7b7b7"/><rect x="107.8" y="103.5" width="8.9" height="8.9" fill="#a7a7a7"/><rect x="116.4" y="103.5" width="8.9" height="8.9" fill="#b7b7b7"/><rect x="125.1" y="103.5" width="26.2" height="8.9" fill="#c7c7c7"/><rect x="150.9" y="103.5" width="8.9" height="8.9" fill="#d7d7d7"/><rect x="159.6" y="103.5" width="8.9" height="8.9" fill="#c7c7c7"/><rect x="168.2" y="103.5" width="34.8" height="8.9" fill="#b7b7b7"/><rect x="202.7" y="103.5" width="26.2" height="8.9" fill="#a7a7a7"/><rect x="228.6" y="103.5" width="26.2" height="8.9" fill="#b7b7b7"/><rect x="254.4" y="103.5" width="8.9" height="8.9" fill="#c7c7c7"/><rect x="263.1" y="103.5" width="8.9" height="8.9" fill="#b7b7b7"/><rect x="271.7" y="103.5" width="17.6" height="8.9" fill="#a7a7a7"/><rect x="288.9" y="103.5" width="8.9" height="8.9" fill="#c7c7c7"/><rect x="297.6" y="103.5" width="21.9" height="8.9" fill="#b7b7b7"/><rect x="-17.2" y="112.1" width="13.2" height="8.9" fill="#d7d7d7"/><rect x="-4.3" y="112.1" width="34.8" height="8.9" fill="#c7c7c7"/><rect x="30.2" y="112.1" width="17.6" height="8.9" fill="#d7d7d7"/><rect x="47.4" y="112.1" width="43.4" height="8.9" fill="#c7c7c7"/><rect x="90.6" y="112.1" width="43.4" height="8.9" fill="#b7b7b7"/><rect x="133.7" y="112.1" width="17.6" height="8.9" fill="#c7c7c7"/><rect x="150.9" y="112.1" width="26.2" height="8.9" fill="#b7b7b7"/><rect x="176.8" y="112.1" width="52.0" height="8.9" fill="#a7a7a7"/><rect x="228.6" y="112.1" width="8.9" height="8.9" fill="#b7b7b7"/><rect x="237.2" y="112.1" width="8.9" height="8.9" fill="#c7c7c7"/><rect x="245.8" y="112.1" width="8.9" height="8.9" fill="#d7d7d7"/><rect x="254.4" y="112.1" width="8.9" height="8.9" fill="#c7c7c7"/><rect x="263.1" y="112.1" width="26.2" height="8.9" fill="#b7b7b7"/><rect x="288.9" y="112.1" width="8.9" height="8.9" fill="#c7c7c7"/><rect x="297.6" y="112.1" width="8.9" height="8.9" fill="#d7d7d7"/><rect x="306.2" y="112.1" width="13.2" height="8.9" fill="#c7c7c7"/><rect x="-17.2" y="120.8" width="168.5" height="21.9" fill="#b7b7b7"/><rect x="150.9" y="120.8" width="8.9" height="21.9" fill="#c7c7c7"/><rect x="159.6" y="120.8" width="8.9" height="21.9" fill="#d7d7d7"/><rect x="168.2" y="120.8" width="17.6" height="21.9" fill="#c7c7c7"/><rect x="185.4" y="120.8" width="8.9" height="21.9" fill="#d7d7d7"/><rect x="194.1" y="120.8" width="34.8" height="21.9" fill="#c7c7c7"/><rect x="228.6" y="120.8" width="17.6" height="21.9" fill="#d7d7d7"/><rect x="245.8" y="120.8" width="17.6" height="21.9" fill="#c7c7c7"/><rect x="263.1" y="120.8" width="56.4" height="21.9" fill="#b7b7b7"/></g>
<use href="#land"/>
</g>
<use href="#ax"/>
<text transform="translate(0.00 145.7) scale(0.94 1)" font-size="8.5" text-anchor="middle">0</text>
<text transform="translate(25.88 145.7) scale(0.94 1)" font-size="8.5" text-anchor="middle">30E</text>
<text transform="translate(51.75 145.7) scale(0.94 1)" font-size="8.5" text-anchor="middle">60E</text>
<text transform="translate(77.62 145.7) scale(0.94 1)" font-size="8.5" text-anchor="middle">90E</text>
<text transform="translate(103.50 145.7) scale(0.94 1)" font-size="8.5" text-anchor="middle">120E</text>
<text transform="translate(129.38 145.7) scale(0.94 1)" font-size="8.5" text-anchor="middle">150E</text>
<text transform="translate(155.25 145.7) scale(0.94 1)" font-size="8.5" text-anchor="middle">180</text>
<text transform="translate(181.12 145.7) scale(0.94 1)" font-size="8.5" text-anchor="middle">150W</text>
<text transform="translate(207.00 145.7) scale(0.94 1)" font-size="8.5" text-anchor="middle">120W</text>
<text transform="translate(232.88 145.7) scale(0.94 1)" font-size="8.5" text-anchor="middle">90W</text>
<text transform="translate(258.75 145.7) scale(0.94 1)" font-size="8.5" text-anchor="middle">60W</text>
<text transform="translate(284.62 145.7) scale(0.94 1)" font-size="8.5" text-anchor="middle">30W</text>
<text transform="translate(310.50 145.7) scale(0.94 1)" font-size="8.5" text-anchor="middle">0</text>
<text transform="translate(-9.8 15.94) scale(0.94 1)" font-size="8.5" text-anchor="end">60N</text>
<text transform="translate(-9.8 41.82) scale(0.94 1)" font-size="8.5" text-anchor="end">30N</text>
<text transform="translate(-9.8 67.70) scale(0.94 1)" font-size="8.5" text-anchor="end">0</text>
<text transform="translate(-9.8 93.58) scale(0.94 1)" font-size="8.5" text-anchor="end">30S</text>
<text transform="translate(-9.8 119.46) scale(0.94 1)" font-size="8.5" text-anchor="end">60S</text>
<text x="-0.6" y="-8.8" font-size="14" font-weight="bold">a</text>
<text x="310.5" y="-8.4" font-size="10.5" text-anchor="end">5-yr means</text>
</g>
<g transform="translate(369.6 18.3)">
<g clip-path="url(#mc)">
<g filter="url(#bl)"><rect x="-17.2" y="-12.9" width="21.9" height="21.9" fill="#c7c7c7"/><rect x="4.3" y="-12.9" width="34.8" height="21.9" fill="#b7b7b7"/><rect x="38.8" y="-12.9" width="34.8" height="21.9" fill="#a7a7a7"/><rect x="73.3" y="-12.9" width="52.0" height="21.9" fill="#b7b7b7"/><rect x="125.1" y="-12.9" width="34.8" height="21.9" fill="#c7c7c7"/><rect x="159.6" y="-12.9" width="69.3" height="21.9" fill="#b7b7b7"/><rect x="228.6" y="-12.9" width="8.9" height="21.9" fill="#c7c7c7"/><rect x="237.2" y="-12.9" width="17.6" height="21.9" fill="#a7a7a7"/><rect x="254.4" y="-12.9" width="8.9" height="21.9" fill="#b7b7b7"/><rect x="263.1" y="-12.9" width="56.4" height="21.9" fill="#c7c7c7"/><rect x="-17.2" y="8.6" width="13.2" height="8.9" fill="#c7c7c7"/><rect x="-4.3" y="8.6" width="17.6" height="8.9" fill="#a7a7a7"/><rect x="12.9" y="8.6" width="8.9" height="8.9" fill="#979797"/><rect x="21.6" y="8.6" width="52.0" height="8.9" fill="#a7a7a7"/><rect x="73.3" y="8.6" width="60.7" height="8.9" fill="#b7b7b7"/><rect x="133.7" y="8.6" width="8.9" height="8.9" fill="#c7c7c7"/><rect x="142.3" y="8.6" width="8.9" height="8.9" fill="#d7d7d7"/><rect x="150.9" y="8.6" width="8.9" height="8.9" fill="#c7c7c7"/><rect x="159.6" y="8.6" width="8.9" height="8.9" fill="#b7b7b7"/><rect x="168.2" y="8.6" width="26.2" height="8.9" fill="#c7c7c7"/><rect x="194.1" y="8.6" width="34.8" height="8.9" fill="#b7b7b7"/><rect x="228.6" y="8.6" width="17.6" height="8.9" fill="#979797"/><rect x="245.8" y="8.6" width="8.9" height="8.9" fill="#a7a7a7"/><rect x="254.4" y="8.6" width="8.9" height="8.9" fill="#d7d7d7"/><rect x="263.1" y="8.6" width="8.9" height="8.9" fill="#e7e7e7"/><rect x="271.7" y="8.6" width="34.8" height="8.9" fill="#c7c7c7"/><rect x="306.2" y="8.6" width="13.2" height="8.9" fill="#a7a7a7"/><rect x="-17.2" y="17.3" width="90.9" height="8.9" fill="#a7a7a7"/><rect x="73.3" y="17.3" width="43.4" height="8.9" fill="#b7b7b7"/><rect x="116.4" y="17.3" width="8.9" height="8.9" fill="#c7c7c7"/><rect x="125.1" y="17.3" width="8.9" height="8.9" fill="#b7b7b7"/><rect x="133.7" y="17.3" width="8.9" height="8.9" fill="#c7c7c7"/><rect x="142.3" y="17.3" width="17.6" height="8.9" fill="#d7d7d7"/><rect x="159.6" y="17.3" width="8.9" height="8.9" fill="#c7c7c7"/><rect x="168.2" y="17.3" width="8.9" height="8.9" fill="#d7d7d7"/><rect x="176.8" y="17.3" width="8.9" height="8.9" fill="#c7c7c7"/><rect x="185.4" y="17.3" width="43.4" height="8.9" fill="#b7b7b7"/><rect x="228.6" y="17.3" width="26.2" height="8.9" fill="#a7a7a7"/><rect x="254.4" y="17.3" width="43.4" height="8.9" fill="#b7b7b7"/><rect x="297.6" y="17.3" width="21.9" height="8.9" fill="#a7a7a7"/><rect x="-17.2" y="25.9" width="13.2" height="8.9" fill="#a7a7a7"/><rect x="-4.3" y="25.9" width="26.2" height="8.9" fill="#979797"/><rect x="21.6" y="25.9" width="8.9" height="8.9" fill="#a7a7a7"/><rect x="30.2" y="25.9" width="8.9" height="8.9" fill="#979797"/><rect x="38.8" y="25.9" width="8.9" height="8.9" fill="#b7b7b7"/><rect x="47.4" y="25.9" width="8.9" height="8.9" fill="#c7c7c7"/><rect x="56.1" y="25.9" width="52.0" height="8.9" fill="#a7a7a7"/><rect x="107.8" y="25.9" width="8.9" height="8.9" fill="#c7c7c7"/><rect x="116.4" y="25.9" width="8.9" height="8.9" fill="#b7b7b7"/><rect x="125.1" y="25.9" width="17.6" height="8.9" fill="#a7a7a7"/><rect x="142.3" y="25.9" width="8.9" height="8.9" fill="#b7b7b7"/><rect x="150.9" y="25.9" width="26.2" height="8.9" fill="#a7a7a7"/><rect x="176.8" y="25.9" width="34.8" height="8.9" fill="#b7b7b7"/><rect x="211.3" y="25.9" width="95.2" height="8.9" fill="#a7a7a7"/><rect x="306.2" y="25.9" width="13.2" height="8.9" fill="#979797"/><rect x="-17.2" y="34.5" width="47.7" height="8.9" fill="#a7a7a7"/><rect x="30.2" y="34.5" width="77.9" height="8.9" fill="#979797"/><rect x="107.8" y="34.5" width="8.9" height="8.9" fill="#a7a7a7"/><rect x="116.4" y="34.5" width="26.2" height="8.9" fill="#979797"/><rect x="142.3" y="34.5" width="26.2" height="8.9" fill="#a7a7a7"/><rect x="168.2" y="34.5" width="8.9" height="8.9" fill="#979797"/><rect x="176.8" y="34.5" width="26.2" height="8.9" fill="#a7a7a7"/><rect x="202.7" y="34.5" width="17.6" height="8.9" fill="#b7b7b7"/><rect x="219.9" y="34.5" width="8.9" height="8.9" fill="#a7a7a7"/><rect x="228.6" y="34.5" width="8.9" height="8.9" fill="#979797"/><rect x="237.2" y="34.5" width="43.4" height="8.9" fill="#a7a7a7"/><rect x="280.3" y="34.5" width="8.9" height="8.9" fill="#979797"/><rect x="288.9" y="34.5" width="30.5" height="8.9" fill="#a7a7a7"/><rect x="-17.2" y="43.1" width="13.2" height="8.9" fill="#a7a7a7"/><rect x="-4.3" y="43.1" width="129.7" height="8.9" fill="#979797"/><rect x="125.1" y="43.1" width="8.9" height="8.9" fill="#a7a7a7"/><rect x="133.7" y="43.1" width="17.6" height="8.9" fill="#b7b7b7"/><rect x="150.9" y="43.1" width="52.0" height="8.9" fill="#a7a7a7"/><rect x="202.7" y="43.1" width="17.6" height="8.9" fill="#b7b7b7"/><rect x="219.9" y="43.1" width="26.2" height="8.9" fill="#a7a7a7"/><rect x="245.8" y="43.1" width="8.9" height="8.9" fill="#979797"/><rect x="254.4" y="43.1" width="52.0" height="8.9" fill="#a7a7a7"/><rect x="306.2" y="43.1" width="13.2" height="8.9" fill="#979797"/><rect x="-17.2" y="51.8" width="13.2" height="8.9" fill="#a7a7a7"/><rect x="-4.3" y="51.8" width="60.7" height="8.9" fill="#979797"/><rect x="56.1" y="51.8" width="8.9" height="8.9" fill="#a7a7a7"/><rect x="64.7" y="51.8" width="43.4" height="8.9" fill="#979797"/><rect x="107.8" y="51.8" width="26.2" height="8.9" fill="#a7a7a7"/><rect x="133.7" y="51.8" width="60.7" height="8.9" fill="#b7b7b7"/><rect x="194.1" y="51.8" width="26.2" height="8.9" fill="#c7c7c7"/><rect x="219.9" y="51.8" width="17.6" height="8.9" fill="#b7b7b7"/><rect x="237.2" y="51.8" width="8.9" height="8.9" fill="#a7a7a7"/><rect x="245.8" y="51.8" width="8.9" height="8.9" fill="#979797"/><rect x="254.4" y="51.8" width="52.0" height="8.9" fill="#a7a7a7"/><rect x="306.2" y="51.8" width="13.2" height="8.9" fill="#979797"/><rect x="-17.2" y="60.4" width="56.4" height="8.9" fill="#a7a7a7"/><rect x="38.8" y="60.4" width="26.2" height="8.9" fill="#979797"/><rect x="64.7" y="60.4" width="17.6" height="8.9" fill="#a7a7a7"/><rect x="81.9" y="60.4" width="26.2" height="8.9" fill="#979797"/><rect x="107.8" y="60.4" width="17.6" height="8.9" fill="#a7a7a7"/><rect x="125.1" y="60.4" width="8.9" height="8.9" fill="#b7b7b7"/><rect x="133.7" y="60.4" width="8.9" height="8.9" fill="#d7d7d7"/><rect x="142.3" y="60.4" width="17.6" height="8.9" fill="#e7e7e7"/><rect x="159.6" y="60.4" width="26.2" height="8.9" fill="#f7f7f7"/><rect x="185.4" y="60.4" width="43.4" height="8.9" fill="#e7e7e7"/><rect x="228.6" y="60.4" width="17.6" height="8.9" fill="#d7d7d7"/><rect x="245.8" y="60.4" width="8.9" height="8.9" fill="#b7b7b7"/><rect x="254.4" y="60.4" width="65.0" height="8.9" fill="#a7a7a7"/><rect x="-17.2" y="69.0" width="13.2" height="8.9" fill="#a7a7a7"/><rect x="-4.3" y="69.0" width="8.9" height="8.9" fill="#b7b7b7"/><rect x="4.3" y="69.0" width="34.8" height="8.9" fill="#a7a7a7"/><rect x="38.8" y="69.0" width="8.9" height="8.9" fill="#979797"/><rect x="47.4" y="69.0" width="52.0" height="8.9" fill="#a7a7a7"/><rect x="99.2" y="69.0" width="26.2" height="8.9" fill="#979797"/><rect x="125.1" y="69.0" width="8.9" height="8.9" fill="#a7a7a7"/><rect x="133.7" y="69.0" width="8.9" height="8.9" fill="#b7b7b7"/><rect x="142.3" y="69.0" width="17.6" height="8.9" fill="#c7c7c7"/><rect x="159.6" y="69.0" width="52.0" height="8.9" fill="#d7d7d7"/><rect x="211.3" y="69.0" width="34.8" height="8.9" fill="#c7c7c7"/><rect x="245.8" y="69.0" width="8.9" height="8.9" fill="#b7b7b7"/><rect x="254.4" y="69.0" width="52.0" height="8.9" fill="#a7a7a7"/><rect x="306.2" y="69.0" width="13.2" height="8.9" fill="#b7b7b7"/><rect x="-17.2" y="77.6" width="151.2" height="8.9" fill="#a7a7a7"/><rect x="133.7" y="77.6" width="26.2" height="8.9" fill="#b7b7b7"/><rect x="159.6" y="77.6" width="17.6" height="8.9" fill="#a7a7a7"/><rect x="176.8" y="77.6" width="17.6" height="8.9" fill="#b7b7b7"/><rect x="194.1" y="77.6" width="17.6" height="8.9" fill="#a7a7a7"/><rect x="211.3" y="77.6" width="17.6" height="8.9" fill="#b7b7b7"/><rect x="228.6" y="77.6" width="8.9" height="8.9" fill="#a7a7a7"/><rect x="237.2" y="77.6" width="8.9" height="8.9" fill="#b7b7b7"/><rect x="245.8" y="77.6" width="73.6" height="8.9" fill="#a7a7a7"/><rect x="-17.2" y="86.3" width="21.9" height="8.9" fill="#a7a7a7"/><rect x="4.3" y="86.3" width="8.9" height="8.9" fill="#979797"/><rect x="12.9" y="86.3" width="52.0" height="8.9" fill="#a7a7a7"/><rect x="64.7" y="86.3" width="26.2" height="8.9" fill="#b7b7b7"/><rect x="90.6" y="86.3" width="34.8" height="8.9" fill="#a7a7a7"/><rect x="125.1" y="86.3" width="52.0" height="8.9" fill="#b7b7b7"/><rect x="176.8" y="86.3" width="8.9" height="8.9" fill="#c7c7c7"/><rect x="185.4" y="86.3" width="8.9" height="8.9" fill="#b7b7b7"/><rect x="194.1" y="86.3" width="8.9" height="8.9" fill="#a7a7a7"/><rect x="202.7" y="86.3" width="8.9" height="8.9" fill="#979797"/><rect x="211.3" y="86.3" width="8.9" height="8.9" fill="#a7a7a7"/><rect x="219.9" y="86.3" width="34.8" height="8.9" fill="#b7b7b7"/><rect x="254.4" y="86.3" width="65.0" height="8.9" fill="#a7a7a7"/><rect x="-17.2" y="94.9" width="13.2" height="8.9" fill="#b7b7b7"/><rect x="-4.3" y="94.9" width="34.8" height="8.9" fill="#a7a7a7"/><rect x="30.2" y="94.9" width="26.2" height="8.9" fill="#b7b7b7"/><rect x="56.1" y="94.9" width="17.6" height="8.9" fill="#c7c7c7"/><rect x="73.3" y="94.9" width="8.9" height="8.9" fill="#d7d7d7"/><rect x="81.9" y="94.9" width="26.2" height="8.9" fill="#c7c7c7"/><rect x="107.8" y="94.9" width="34.8" height="8.9" fill="#b7b7b7"/><rect x="142.3" y="94.9" width="52.0" height="8.9" fill="#c7c7c7"/><rect x="194.1" y="94.9" width="17.6" height="8.9" fill="#b7b7b7"/><rect x="211.3" y="94.9" width="8.9" height="8.9" fill="#a7a7a7"/><rect x="219.9" y="94.9" width="8.9" height="8.9" fill="#b7b7b7"/><rect x="228.6" y="94.9" width="8.9" height="8.9" fill="#c7c7c7"/><rect x="237.2" y="94.9" width="17.6" height="8.9" fill="#b7b7b7"/><rect x="254.4" y="94.9" width="17.6" height="8.9" fill="#a7a7a7"/><rect x="271.7" y="94.9" width="8.9" height="8.9" fill="#b7b7b7"/><rect x="280.3" y="94.9" width="17.6" height="8.9" fill="#a7a7a7"/><rect x="297.6" y="94.9" width="8.9" height="8.9" fill="#b7b7b7"/><rect x="306.2" y="94.9" width="13.2" height="8.9" fill="#a7a7a7"/><rect x="-17.2" y="103.5" width="47.7" height="8.9" fill="#b7b7b7"/><rect x="30.2" y="103.5" width="8.9" height="8.9" fill="#c7c7c7"/><rect x="38.8" y="103.5" width="8.9" height="8.9" fill="#e7e7e7"/><rect x="47.4" y="103.5" width="17.6" height="8.9" fill="#d7d7d7"/><rect x="64.7" y="103.5" width="8.9" height="8.9" fill="#c7c7c7"/><rect x="73.3" y="103.5" width="26.2" height="8.9" fill="#d7d7d7"/><rect x="99.2" y="103.5" width="8.9" height="8.9" fill="#c7c7c7"/><rect x="107.8" y="103.5" width="26.2" height="8.9" fill="#b7b7b7"/><rect x="133.7" y="103.5" width="34.8" height="8.9" fill="#c7c7c7"/><rect x="168.2" y="103.5" width="8.9" height="8.9" fill="#b7b7b7"/><rect x="176.8" y="103.5" width="43.4" height="8.9" fill="#c7c7c7"/><rect x="219.9" y="103.5" width="8.9" height="8.9" fill="#d7d7d7"/><rect x="228.6" y="103.5" width="26.2" height="8.9" fill="#c7c7c7"/><rect x="254.4" y="103.5" width="17.6" height="8.9" fill="#a7a7a7"/><rect x="271.7" y="103.5" width="17.6" height="8.9" fill="#b7b7b7"/><rect x="288.9" y="103.5" width="8.9" height="8.9" fill="#c7c7c7"/><rect x="297.6" y="103.5" width="21.9" height="8.9" fill="#b7b7b7"/><rect x="-17.2" y="112.1" width="13.2" height="8.9" fill="#b7b7b7"/><rect x="-4.3" y="112.1" width="26.2" height="8.9" fill="#c7c7c7"/><rect x="21.6" y="112.1" width="34.8" height="8.9" fill="#b7b7b7"/><rect x="56.1" y="112.1" width="8.9" height="8.9" fill="#c7c7c7"/><rect x="64.7" y="112.1" width="77.9" height="8.9" fill="#b7b7b7"/><rect x="142.3" y="112.1" width="8.9" height="8.9" fill="#c7c7c7"/><rect x="150.9" y="112.1" width="8.9" height="8.9" fill="#b7b7b7"/><rect x="159.6" y="112.1" width="8.9" height="8.9" fill="#c7c7c7"/><rect x="168.2" y="112.1" width="17.6" height="8.9" fill="#b7b7b7"/><rect x="185.4" y="112.1" width="69.3" height="8.9" fill="#c7c7c7"/><rect x="254.4" y="112.1" width="34.8" height="8.9" fill="#a7a7a7"/><rect x="288.9" y="112.1" width="17.6" height="8.9" fill="#b7b7b7"/><rect x="306.2" y="112.1" width="13.2" height="8.9" fill="#c7c7c7"/><rect x="-17.2" y="120.8" width="159.9" height="21.9" fill="#b7b7b7"/><rect x="142.3" y="120.8" width="112.4" height="21.9" fill="#c7c7c7"/><rect x="254.4" y="120.8" width="8.9" height="21.9" fill="#b7b7b7"/><rect x="263.1" y="120.8" width="26.2" height="21.9" fill="#a7a7a7"/><rect x="288.9" y="120.8" width="30.5" height="21.9" fill="#b7b7b7"/></g>
<use href="#land"/>
</g>
<use href="#ax"/>
<text transform="translate(0.00 145.7) scale(0.94 1)" font-size="8.5" text-anchor="middle">0</text>
<text transform="translate(25.88 145.7) scale(0.94 1)" font-size="8.5" text-anchor="middle">30E</text>
<text transform="translate(51.75 145.7) scale(0.94 1)" font-size="8.5" text-anchor="middle">60E</text>
<text transform="translate(77.62 145.7) scale(0.94 1)" font-size="8.5" text-anchor="middle">90E</text>
<text transform="translate(103.50 145.7) scale(0.94 1)" font-size="8.5" text-anchor="middle">120E</text>
<text transform="translate(129.38 145.7) scale(0.94 1)" font-size="8.5" text-anchor="middle">150E</text>
<text transform="translate(155.25 145.7) scale(0.94 1)" font-size="8.5" text-anchor="middle">180</text>
<text transform="translate(181.12 145.7) scale(0.94 1)" font-size="8.5" text-anchor="middle">150W</text>
<text transform="translate(207.00 145.7) scale(0.94 1)" font-size="8.5" text-anchor="middle">120W</text>
<text transform="translate(232.88 145.7) scale(0.94 1)" font-size="8.5" text-anchor="middle">90W</text>
<text transform="translate(258.75 145.7) scale(0.94 1)" font-size="8.5" text-anchor="middle">60W</text>
<text transform="translate(284.62 145.7) scale(0.94 1)" font-size="8.5" text-anchor="middle">30W</text>
<text transform="translate(310.50 145.7) scale(0.94 1)" font-size="8.5" text-anchor="middle">0</text>
<text transform="translate(-9.8 15.94) scale(0.94 1)" font-size="8.5" text-anchor="end">60N</text>
<text transform="translate(-9.8 41.82) scale(0.94 1)" font-size="8.5" text-anchor="end">30N</text>
<text transform="translate(-9.8 67.70) scale(0.94 1)" font-size="8.5" text-anchor="end">0</text>
<text transform="translate(-9.8 93.58) scale(0.94 1)" font-size="8.5" text-anchor="end">30S</text>
<text transform="translate(-9.8 119.46) scale(0.94 1)" font-size="8.5" text-anchor="end">60S</text>
<text x="-0.6" y="-8.8" font-size="14" font-weight="bold">b</text>
<text x="310.5" y="-8.4" font-size="10.5" text-anchor="end">5-yr means</text>
</g>
<g transform="translate(23.8 187.4)">
<g clip-path="url(#mc)">
<g filter="url(#bl)"><rect x="-17.2" y="-12.9" width="13.2" height="21.9" fill="#787878"/><rect x="-4.3" y="-12.9" width="8.9" height="21.9" fill="#979797"/><rect x="4.3" y="-12.9" width="26.2" height="21.9" fill="#878787"/><rect x="30.2" y="-12.9" width="8.9" height="21.9" fill="#787878"/><rect x="38.8" y="-12.9" width="8.9" height="21.9" fill="#686868"/><rect x="47.4" y="-12.9" width="69.3" height="21.9" fill="#585858"/><rect x="116.4" y="-12.9" width="17.6" height="21.9" fill="#686868"/><rect x="133.7" y="-12.9" width="17.6" height="21.9" fill="#787878"/><rect x="150.9" y="-12.9" width="112.4" height="21.9" fill="#585858"/><rect x="263.1" y="-12.9" width="34.8" height="21.9" fill="#686868"/><rect x="297.6" y="-12.9" width="8.9" height="21.9" fill="#787878"/><rect x="306.2" y="-12.9" width="13.2" height="21.9" fill="#979797"/><rect x="-17.2" y="8.6" width="134.0" height="8.9" fill="#585858"/><rect x="116.4" y="8.6" width="8.9" height="8.9" fill="#878787"/><rect x="125.1" y="8.6" width="8.9" height="8.9" fill="#979797"/><rect x="133.7" y="8.6" width="17.6" height="8.9" fill="#a7a7a7"/><rect x="150.9" y="8.6" width="8.9" height="8.9" fill="#878787"/><rect x="159.6" y="8.6" width="8.9" height="8.9" fill="#686868"/><rect x="168.2" y="8.6" width="60.7" height="8.9" fill="#585858"/><rect x="228.6" y="8.6" width="17.6" height="8.9" fill="#484848"/><rect x="245.8" y="8.6" width="8.9" height="8.9" fill="#585858"/><rect x="254.4" y="8.6" width="8.9" height="8.9" fill="#a7a7a7"/><rect x="263.1" y="8.6" width="8.9" height="8.9" fill="#b7b7b7"/><rect x="271.7" y="8.6" width="8.9" height="8.9" fill="#a7a7a7"/><rect x="280.3" y="8.6" width="8.9" height="8.9" fill="#878787"/><rect x="288.9" y="8.6" width="8.9" height="8.9" fill="#686868"/><rect x="297.6" y="8.6" width="21.9" height="8.9" fill="#585858"/><rect x="-17.2" y="17.3" width="134.0" height="8.9" fill="#585858"/><rect x="116.4" y="17.3" width="8.9" height="8.9" fill="#686868"/><rect x="125.1" y="17.3" width="8.9" height="8.9" fill="#878787"/><rect x="133.7" y="17.3" width="43.4" height="8.9" fill="#686868"/><rect x="176.8" y="17.3" width="69.3" height="8.9" fill="#585858"/><rect x="245.8" y="17.3" width="8.9" height="8.9" fill="#686868"/><rect x="254.4" y="17.3" width="8.9" height="8.9" fill="#878787"/><rect x="263.1" y="17.3" width="17.6" height="8.9" fill="#a7a7a7"/><rect x="280.3" y="17.3" width="8.9" height="8.9" fill="#979797"/><rect x="288.9" y="17.3" width="8.9" height="8.9" fill="#686868"/><rect x="297.6" y="17.3" width="21.9" height="8.9" fill="#585858"/><rect x="-17.2" y="25.9" width="13.2" height="8.9" fill="#585858"/><rect x="-4.3" y="25.9" width="17.6" height="8.9" fill="#484848"/><rect x="12.9" y="25.9" width="8.9" height="8.9" fill="#585858"/><rect x="21.6" y="25.9" width="8.9" height="8.9" fill="#686868"/><rect x="30.2" y="25.9" width="8.9" height="8.9" fill="#787878"/><rect x="38.8" y="25.9" width="8.9" height="8.9" fill="#484848"/><rect x="47.4" y="25.9" width="8.9" height="8.9" fill="#979797"/><rect x="56.1" y="25.9" width="17.6" height="8.9" fill="#585858"/><rect x="73.3" y="25.9" width="43.4" height="8.9" fill="#484848"/><rect x="116.4" y="25.9" width="34.8" height="8.9" fill="#585858"/><rect x="150.9" y="25.9" width="8.9" height="8.9" fill="#686868"/><rect x="159.6" y="25.9" width="17.6" height="8.9" fill="#585858"/><rect x="176.8" y="25.9" width="8.9" height="8.9" fill="#787878"/><rect x="185.4" y="25.9" width="8.9" height="8.9" fill="#878787"/><rect x="194.1" y="25.9" width="8.9" height="8.9" fill="#686868"/><rect x="202.7" y="25.9" width="43.4" height="8.9" fill="#585858"/><rect x="245.8" y="25.9" width="8.9" height="8.9" fill="#686868"/><rect x="254.4" y="25.9" width="8.9" height="8.9" fill="#787878"/><rect x="263.1" y="25.9" width="8.9" height="8.9" fill="#686868"/><rect x="271.7" y="25.9" width="34.8" height="8.9" fill="#585858"/><rect x="306.2" y="25.9" width="13.2" height="8.9" fill="#484848"/><rect x="-17.2" y="34.5" width="13.2" height="8.9" fill="#585858"/><rect x="-4.3" y="34.5" width="17.6" height="8.9" fill="#484848"/><rect x="12.9" y="34.5" width="17.6" height="8.9" fill="#585858"/><rect x="30.2" y="34.5" width="86.5" height="8.9" fill="#484848"/><rect x="116.4" y="34.5" width="8.9" height="8.9" fill="#585858"/><rect x="125.1" y="34.5" width="8.9" height="8.9" fill="#686868"/><rect x="133.7" y="34.5" width="43.4" height="8.9" fill="#585858"/><rect x="176.8" y="34.5" width="17.6" height="8.9" fill="#787878"/><rect x="194.1" y="34.5" width="8.9" height="8.9" fill="#686868"/><rect x="202.7" y="34.5" width="8.9" height="8.9" fill="#878787"/><rect x="211.3" y="34.5" width="8.9" height="8.9" fill="#686868"/><rect x="219.9" y="34.5" width="17.6" height="8.9" fill="#585858"/><rect x="237.2" y="34.5" width="26.2" height="8.9" fill="#686868"/><rect x="263.1" y="34.5" width="43.4" height="8.9" fill="#585858"/><rect x="306.2" y="34.5" width="13.2" height="8.9" fill="#484848"/><rect x="-17.2" y="43.1" width="65.0" height="8.9" fill="#484848"/><rect x="47.4" y="43.1" width="43.4" height="8.9" fill="#383838"/><rect x="90.6" y="43.1" width="43.4" height="8.9" fill="#484848"/><rect x="133.7" y="43.1" width="17.6" height="8.9" fill="#585858"/><rect x="150.9" y="43.1" width="34.8" height="8.9" fill="#484848"/><rect x="185.4" y="43.1" width="8.9" height="8.9" fill="#585858"/><rect x="194.1" y="43.1" width="8.9" height="8.9" fill="#686868"/><rect x="202.7" y="43.1" width="8.9" height="8.9" fill="#787878"/><rect x="211.3" y="43.1" width="8.9" height="8.9" fill="#585858"/><rect x="219.9" y="43.1" width="99.5" height="8.9" fill="#484848"/><rect x="-17.2" y="51.8" width="65.0" height="8.9" fill="#383838"/><rect x="47.4" y="51.8" width="8.9" height="8.9" fill="#484848"/><rect x="56.1" y="51.8" width="52.0" height="8.9" fill="#383838"/><rect x="107.8" y="51.8" width="26.2" height="8.9" fill="#484848"/><rect x="133.7" y="51.8" width="17.6" height="8.9" fill="#585858"/><rect x="150.9" y="51.8" width="69.3" height="8.9" fill="#484848"/><rect x="219.9" y="51.8" width="43.4" height="8.9" fill="#383838"/><rect x="263.1" y="51.8" width="8.9" height="8.9" fill="#282828"/><rect x="271.7" y="51.8" width="47.7" height="8.9" fill="#383838"/><rect x="-17.2" y="60.4" width="13.2" height="8.9" fill="#484848"/><rect x="-4.3" y="60.4" width="34.8" height="8.9" fill="#383838"/><rect x="30.2" y="60.4" width="8.9" height="8.9" fill="#484848"/><rect x="38.8" y="60.4" width="17.6" height="8.9" fill="#383838"/><rect x="56.1" y="60.4" width="8.9" height="8.9" fill="#484848"/><rect x="64.7" y="60.4" width="8.9" height="8.9" fill="#585858"/><rect x="73.3" y="60.4" width="17.6" height="8.9" fill="#383838"/><rect x="90.6" y="60.4" width="34.8" height="8.9" fill="#484848"/><rect x="125.1" y="60.4" width="8.9" height="8.9" fill="#585858"/><rect x="133.7" y="60.4" width="8.9" height="8.9" fill="#686868"/><rect x="142.3" y="60.4" width="8.9" height="8.9" fill="#585858"/><rect x="150.9" y="60.4" width="86.5" height="8.9" fill="#383838"/><rect x="237.2" y="60.4" width="8.9" height="8.9" fill="#484848"/><rect x="245.8" y="60.4" width="43.4" height="8.9" fill="#383838"/><rect x="288.9" y="60.4" width="17.6" height="8.9" fill="#484848"/><rect x="306.2" y="60.4" width="13.2" height="8.9" fill="#383838"/><rect x="-17.2" y="69.0" width="13.2" height="8.9" fill="#484848"/><rect x="-4.3" y="69.0" width="8.9" height="8.9" fill="#383838"/><rect x="4.3" y="69.0" width="34.8" height="8.9" fill="#484848"/><rect x="38.8" y="69.0" width="17.6" height="8.9" fill="#383838"/><rect x="56.1" y="69.0" width="8.9" height="8.9" fill="#484848"/><rect x="64.7" y="69.0" width="8.9" height="8.9" fill="#585858"/><rect x="73.3" y="69.0" width="17.6" height="8.9" fill="#484848"/><rect x="90.6" y="69.0" width="8.9" height="8.9" fill="#585858"/><rect x="99.2" y="69.0" width="17.6" height="8.9" fill="#484848"/><rect x="116.4" y="69.0" width="43.4" height="8.9" fill="#585858"/><rect x="159.6" y="69.0" width="8.9" height="8.9" fill="#484848"/><rect x="168.2" y="69.0" width="26.2" height="8.9" fill="#383838"/><rect x="194.1" y="69.0" width="43.4" height="8.9" fill="#484848"/><rect x="237.2" y="69.0" width="8.9" height="8.9" fill="#383838"/><rect x="245.8" y="69.0" width="43.4" height="8.9" fill="#484848"/><rect x="288.9" y="69.0" width="8.9" height="8.9" fill="#383838"/><rect x="297.6" y="69.0" width="8.9" height="8.9" fill="#484848"/><rect x="306.2" y="69.0" width="13.2" height="8.9" fill="#383838"/><rect x="-17.2" y="77.6" width="99.5" height="8.9" fill="#484848"/><rect x="81.9" y="77.6" width="8.9" height="8.9" fill="#585858"/><rect x="90.6" y="77.6" width="34.8" height="8.9" fill="#484848"/><rect x="125.1" y="77.6" width="43.4" height="8.9" fill="#585858"/><rect x="168.2" y="77.6" width="17.6" height="8.9" fill="#484848"/><rect x="185.4" y="77.6" width="17.6" height="8.9" fill="#585858"/><rect x="202.7" y="77.6" width="8.9" height="8.9" fill="#686868"/><rect x="211.3" y="77.6" width="17.6" height="8.9" fill="#585858"/><rect x="228.6" y="77.6" width="8.9" height="8.9" fill="#484848"/><rect x="237.2" y="77.6" width="8.9" height="8.9" fill="#383838"/><rect x="245.8" y="77.6" width="34.8" height="8.9" fill="#484848"/><rect x="280.3" y="77.6" width="17.6" height="8.9" fill="#585858"/><rect x="297.6" y="77.6" width="21.9" height="8.9" fill="#484848"/><rect x="-17.2" y="86.3" width="13.2" height="8.9" fill="#585858"/><rect x="-4.3" y="86.3" width="8.9" height="8.9" fill="#484848"/><rect x="4.3" y="86.3" width="34.8" height="8.9" fill="#585858"/><rect x="38.8" y="86.3" width="8.9" height="8.9" fill="#686868"/><rect x="47.4" y="86.3" width="17.6" height="8.9" fill="#585858"/><rect x="64.7" y="86.3" width="17.6" height="8.9" fill="#686868"/><rect x="81.9" y="86.3" width="52.0" height="8.9" fill="#585858"/><rect x="133.7" y="86.3" width="17.6" height="8.9" fill="#686868"/><rect x="150.9" y="86.3" width="17.6" height="8.9" fill="#585858"/><rect x="168.2" y="86.3" width="8.9" height="8.9" fill="#686868"/><rect x="176.8" y="86.3" width="17.6" height="8.9" fill="#787878"/><rect x="194.1" y="86.3" width="26.2" height="8.9" fill="#686868"/><rect x="219.9" y="86.3" width="17.6" height="8.9" fill="#585858"/><rect x="237.2" y="86.3" width="17.6" height="8.9" fill="#484848"/><rect x="254.4" y="86.3" width="8.9" height="8.9" fill="#686868"/><rect x="263.1" y="86.3" width="17.6" height="8.9" fill="#787878"/><rect x="280.3" y="86.3" width="8.9" height="8.9" fill="#878787"/><rect x="288.9" y="86.3" width="8.9" height="8.9" fill="#686868"/><rect x="297.6" y="86.3" width="8.9" height="8.9" fill="#585858"/><rect x="306.2" y="86.3" width="13.2" height="8.9" fill="#484848"/><rect x="-17.2" y="94.9" width="21.9" height="8.9" fill="#686868"/><rect x="4.3" y="94.9" width="8.9" height="8.9" fill="#878787"/><rect x="12.9" y="94.9" width="8.9" height="8.9" fill="#686868"/><rect x="21.6" y="94.9" width="8.9" height="8.9" fill="#585858"/><rect x="30.2" y="94.9" width="8.9" height="8.9" fill="#686868"/><rect x="38.8" y="94.9" width="17.6" height="8.9" fill="#585858"/><rect x="56.1" y="94.9" width="26.2" height="8.9" fill="#686868"/><rect x="81.9" y="94.9" width="34.8" height="8.9" fill="#585858"/><rect x="116.4" y="94.9" width="8.9" height="8.9" fill="#787878"/><rect x="125.1" y="94.9" width="8.9" height="8.9" fill="#979797"/><rect x="133.7" y="94.9" width="8.9" height="8.9" fill="#878787"/><rect x="142.3" y="94.9" width="8.9" height="8.9" fill="#787878"/><rect x="150.9" y="94.9" width="8.9" height="8.9" fill="#878787"/><rect x="159.6" y="94.9" width="8.9" height="8.9" fill="#787878"/><rect x="168.2" y="94.9" width="8.9" height="8.9" fill="#a7a7a7"/><rect x="176.8" y="94.9" width="8.9" height="8.9" fill="#979797"/><rect x="185.4" y="94.9" width="8.9" height="8.9" fill="#878787"/><rect x="194.1" y="94.9" width="8.9" height="8.9" fill="#686868"/><rect x="202.7" y="94.9" width="34.8" height="8.9" fill="#585858"/><rect x="237.2" y="94.9" width="8.9" height="8.9" fill="#484848"/><rect x="245.8" y="94.9" width="8.9" height="8.9" fill="#585858"/><rect x="254.4" y="94.9" width="8.9" height="8.9" fill="#979797"/><rect x="263.1" y="94.9" width="8.9" height="8.9" fill="#b7b7b7"/><rect x="271.7" y="94.9" width="8.9" height="8.9" fill="#a7a7a7"/><rect x="280.3" y="94.9" width="8.9" height="8.9" fill="#878787"/><rect x="288.9" y="94.9" width="8.9" height="8.9" fill="#787878"/><rect x="297.6" y="94.9" width="21.9" height="8.9" fill="#686868"/><rect x="-17.2" y="103.5" width="13.2" height="8.9" fill="#686868"/><rect x="-4.3" y="103.5" width="8.9" height="8.9" fill="#585858"/><rect x="4.3" y="103.5" width="8.9" height="8.9" fill="#686868"/><rect x="12.9" y="103.5" width="43.4" height="8.9" fill="#585858"/><rect x="56.1" y="103.5" width="26.2" height="8.9" fill="#787878"/><rect x="81.9" y="103.5" width="8.9" height="8.9" fill="#686868"/><rect x="90.6" y="103.5" width="8.9" height="8.9" fill="#585858"/><rect x="99.2" y="103.5" width="26.2" height="8.9" fill="#484848"/><rect x="125.1" y="103.5" width="26.2" height="8.9" fill="#585858"/><rect x="150.9" y="103.5" width="8.9" height="8.9" fill="#787878"/><rect x="159.6" y="103.5" width="8.9" height="8.9" fill="#686868"/><rect x="168.2" y="103.5" width="17.6" height="8.9" fill="#585858"/><rect x="185.4" y="103.5" width="8.9" height="8.9" fill="#484848"/><rect x="194.1" y="103.5" width="17.6" height="8.9" fill="#383838"/><rect x="211.3" y="103.5" width="17.6" height="8.9" fill="#484848"/><rect x="228.6" y="103.5" width="8.9" height="8.9" fill="#585858"/><rect x="237.2" y="103.5" width="8.9" height="8.9" fill="#484848"/><rect x="245.8" y="103.5" width="26.2" height="8.9" fill="#585858"/><rect x="271.7" y="103.5" width="34.8" height="8.9" fill="#686868"/><rect x="306.2" y="103.5" width="13.2" height="8.9" fill="#585858"/><rect x="-17.2" y="112.1" width="13.2" height="8.9" fill="#686868"/><rect x="-4.3" y="112.1" width="43.4" height="8.9" fill="#585858"/><rect x="38.8" y="112.1" width="8.9" height="8.9" fill="#787878"/><rect x="47.4" y="112.1" width="43.4" height="8.9" fill="#585858"/><rect x="90.6" y="112.1" width="52.0" height="8.9" fill="#484848"/><rect x="142.3" y="112.1" width="52.0" height="8.9" fill="#585858"/><rect x="194.1" y="112.1" width="26.2" height="8.9" fill="#484848"/><rect x="219.9" y="112.1" width="8.9" height="8.9" fill="#585858"/><rect x="228.6" y="112.1" width="17.6" height="8.9" fill="#484848"/><rect x="245.8" y="112.1" width="26.2" height="8.9" fill="#585858"/><rect x="271.7" y="112.1" width="8.9" height="8.9" fill="#686868"/><rect x="280.3" y="112.1" width="8.9" height="8.9" fill="#585858"/><rect x="288.9" y="112.1" width="17.6" height="8.9" fill="#686868"/><rect x="306.2" y="112.1" width="13.2" height="8.9" fill="#585858"/><rect x="-17.2" y="120.8" width="177.1" height="21.9" fill="#585858"/><rect x="159.6" y="120.8" width="17.6" height="21.9" fill="#686868"/><rect x="176.8" y="120.8" width="86.5" height="21.9" fill="#585858"/><rect x="263.1" y="120.8" width="17.6" height="21.9" fill="#686868"/><rect x="280.3" y="120.8" width="39.1" height="21.9" fill="#585858"/></g>
<use href="#land"/>
</g>
<use href="#ax"/>
<text transform="translate(0.00 145.7) scale(0.94 1)" font-size="8.5" text-anchor="middle">0</text>
<text transform="translate(25.88 145.7) scale(0.94 1)" font-size="8.5" text-anchor="middle">30E</text>
<text transform="translate(51.75 145.7) scale(0.94 1)" font-size="8.5" text-anchor="middle">60E</text>
<text transform="translate(77.62 145.7) scale(0.94 1)" font-size="8.5" text-anchor="middle">90E</text>
<text transform="translate(103.50 145.7) scale(0.94 1)" font-size="8.5" text-anchor="middle">120E</text>
<text transform="translate(129.38 145.7) scale(0.94 1)" font-size="8.5" text-anchor="middle">150E</text>
<text transform="translate(155.25 145.7) scale(0.94 1)" font-size="8.5" text-anchor="middle">180</text>
<text transform="translate(181.12 145.7) scale(0.94 1)" font-size="8.5" text-anchor="middle">150W</text>
<text transform="translate(207.00 145.7) scale(0.94 1)" font-size="8.5" text-anchor="middle">120W</text>
<text transform="translate(232.88 145.7) scale(0.94 1)" font-size="8.5" text-anchor="middle">90W</text>
<text transform="translate(258.75 145.7) scale(0.94 1)" font-size="8.5" text-anchor="middle">60W</text>
<text transform="translate(284.62 145.7) scale(0.94 1)" font-size="8.5" text-anchor="middle">30W</text>
<text transform="translate(310.50 145.7) scale(0.94 1)" font-size="8.5" text-anchor="middle">0</text>
<text transform="translate(-9.8 15.94) scale(0.94 1)" font-size="8.5" text-anchor="end">60N</text>
<text transform="translate(-9.8 41.82) scale(0.94 1)" font-size="8.5" text-anchor="end">30N</text>
<text transform="translate(-9.8 67.70) scale(0.94 1)" font-size="8.5" text-anchor="end">0</text>
<text transform="translate(-9.8 93.58) scale(0.94 1)" font-size="8.5" text-anchor="end">30S</text>
<text transform="translate(-9.8 119.46) scale(0.94 1)" font-size="8.5" text-anchor="end">60S</text>
<text x="-0.6" y="-8.8" font-size="14" font-weight="bold">c</text>
<text x="310.5" y="-8.4" font-size="10.5" text-anchor="end">10-yr means</text>
</g>
<g transform="translate(369.6 187.4)">
<g clip-path="url(#mc)">
<g filter="url(#bl)"><rect x="-17.2" y="-12.9" width="336.7" height="21.9" fill="#585858"/><rect x="-17.2" y="8.6" width="13.2" height="8.9" fill="#686868"/><rect x="-4.3" y="8.6" width="121.0" height="8.9" fill="#484848"/><rect x="116.4" y="8.6" width="26.2" height="8.9" fill="#585858"/><rect x="142.3" y="8.6" width="8.9" height="8.9" fill="#686868"/><rect x="150.9" y="8.6" width="77.9" height="8.9" fill="#585858"/><rect x="228.6" y="8.6" width="17.6" height="8.9" fill="#484848"/><rect x="245.8" y="8.6" width="8.9" height="8.9" fill="#585858"/><rect x="254.4" y="8.6" width="17.6" height="8.9" fill="#686868"/><rect x="271.7" y="8.6" width="26.2" height="8.9" fill="#585858"/><rect x="297.6" y="8.6" width="8.9" height="8.9" fill="#686868"/><rect x="306.2" y="8.6" width="13.2" height="8.9" fill="#484848"/><rect x="-17.2" y="17.3" width="13.2" height="8.9" fill="#585858"/><rect x="-4.3" y="17.3" width="138.3" height="8.9" fill="#484848"/><rect x="133.7" y="17.3" width="8.9" height="8.9" fill="#585858"/><rect x="142.3" y="17.3" width="34.8" height="8.9" fill="#686868"/><rect x="176.8" y="17.3" width="129.7" height="8.9" fill="#585858"/><rect x="306.2" y="17.3" width="13.2" height="8.9" fill="#484848"/><rect x="-17.2" y="25.9" width="13.2" height="8.9" fill="#484848"/><rect x="-4.3" y="25.9" width="8.9" height="8.9" fill="#585858"/><rect x="4.3" y="25.9" width="17.6" height="8.9" fill="#484848"/><rect x="21.6" y="25.9" width="8.9" height="8.9" fill="#585858"/><rect x="30.2" y="25.9" width="17.6" height="8.9" fill="#484848"/><rect x="47.4" y="25.9" width="8.9" height="8.9" fill="#585858"/><rect x="56.1" y="25.9" width="69.3" height="8.9" fill="#484848"/><rect x="125.1" y="25.9" width="8.9" height="8.9" fill="#383838"/><rect x="133.7" y="25.9" width="172.8" height="8.9" fill="#484848"/><rect x="306.2" y="25.9" width="13.2" height="8.9" fill="#585858"/><rect x="-17.2" y="34.5" width="168.5" height="8.9" fill="#484848"/><rect x="150.9" y="34.5" width="8.9" height="8.9" fill="#383838"/><rect x="159.6" y="34.5" width="17.6" height="8.9" fill="#484848"/><rect x="176.8" y="34.5" width="8.9" height="8.9" fill="#383838"/><rect x="185.4" y="34.5" width="134.0" height="8.9" fill="#484848"/><rect x="-17.2" y="43.1" width="73.6" height="8.9" fill="#484848"/><rect x="56.1" y="43.1" width="8.9" height="8.9" fill="#383838"/><rect x="64.7" y="43.1" width="86.5" height="8.9" fill="#484848"/><rect x="150.9" y="43.1" width="8.9" height="8.9" fill="#585858"/><rect x="159.6" y="43.1" width="43.4" height="8.9" fill="#484848"/><rect x="202.7" y="43.1" width="8.9" height="8.9" fill="#585858"/><rect x="211.3" y="43.1" width="60.7" height="8.9" fill="#484848"/><rect x="271.7" y="43.1" width="8.9" height="8.9" fill="#585858"/><rect x="280.3" y="43.1" width="39.1" height="8.9" fill="#484848"/><rect x="-17.2" y="51.8" width="246.1" height="8.9" fill="#484848"/><rect x="228.6" y="51.8" width="8.9" height="8.9" fill="#686868"/><rect x="237.2" y="51.8" width="8.9" height="8.9" fill="#585858"/><rect x="245.8" y="51.8" width="17.6" height="8.9" fill="#484848"/><rect x="263.1" y="51.8" width="8.9" height="8.9" fill="#585858"/><rect x="271.7" y="51.8" width="47.7" height="8.9" fill="#484848"/><rect x="-17.2" y="60.4" width="82.2" height="8.9" fill="#484848"/><rect x="64.7" y="60.4" width="8.9" height="8.9" fill="#585858"/><rect x="73.3" y="60.4" width="52.0" height="8.9" fill="#484848"/><rect x="125.1" y="60.4" width="8.9" height="8.9" fill="#585858"/><rect x="133.7" y="60.4" width="8.9" height="8.9" fill="#686868"/><rect x="142.3" y="60.4" width="77.9" height="8.9" fill="#878787"/><rect x="219.9" y="60.4" width="17.6" height="8.9" fill="#787878"/><rect x="237.2" y="60.4" width="8.9" height="8.9" fill="#686868"/><rect x="245.8" y="60.4" width="73.6" height="8.9" fill="#484848"/><rect x="-17.2" y="69.0" width="99.5" height="8.9" fill="#484848"/><rect x="81.9" y="69.0" width="8.9" height="8.9" fill="#383838"/><rect x="90.6" y="69.0" width="52.0" height="8.9" fill="#484848"/><rect x="142.3" y="69.0" width="8.9" height="8.9" fill="#585858"/><rect x="150.9" y="69.0" width="43.4" height="8.9" fill="#484848"/><rect x="194.1" y="69.0" width="8.9" height="8.9" fill="#585858"/><rect x="202.7" y="69.0" width="34.8" height="8.9" fill="#484848"/><rect x="237.2" y="69.0" width="8.9" height="8.9" fill="#585858"/><rect x="245.8" y="69.0" width="73.6" height="8.9" fill="#484848"/><rect x="-17.2" y="77.6" width="263.4" height="8.9" fill="#484848"/><rect x="245.8" y="77.6" width="8.9" height="8.9" fill="#585858"/><rect x="254.4" y="77.6" width="65.0" height="8.9" fill="#484848"/><rect x="-17.2" y="86.3" width="116.7" height="8.9" fill="#484848"/><rect x="99.2" y="86.3" width="34.8" height="8.9" fill="#585858"/><rect x="133.7" y="86.3" width="17.6" height="8.9" fill="#484848"/><rect x="150.9" y="86.3" width="26.2" height="8.9" fill="#585858"/><rect x="176.8" y="86.3" width="8.9" height="8.9" fill="#484848"/><rect x="185.4" y="86.3" width="8.9" height="8.9" fill="#383838"/><rect x="194.1" y="86.3" width="17.6" height="8.9" fill="#484848"/><rect x="211.3" y="86.3" width="8.9" height="8.9" fill="#383838"/><rect x="219.9" y="86.3" width="17.6" height="8.9" fill="#484848"/><rect x="237.2" y="86.3" width="8.9" height="8.9" fill="#585858"/><rect x="245.8" y="86.3" width="73.6" height="8.9" fill="#484848"/><rect x="-17.2" y="94.9" width="65.0" height="8.9" fill="#484848"/><rect x="47.4" y="94.9" width="17.6" height="8.9" fill="#585858"/><rect x="64.7" y="94.9" width="8.9" height="8.9" fill="#686868"/><rect x="73.3" y="94.9" width="8.9" height="8.9" fill="#585858"/><rect x="81.9" y="94.9" width="17.6" height="8.9" fill="#686868"/><rect x="99.2" y="94.9" width="8.9" height="8.9" fill="#787878"/><rect x="107.8" y="94.9" width="17.6" height="8.9" fill="#585858"/><rect x="125.1" y="94.9" width="17.6" height="8.9" fill="#484848"/><rect x="142.3" y="94.9" width="17.6" height="8.9" fill="#585858"/><rect x="159.6" y="94.9" width="17.6" height="8.9" fill="#686868"/><rect x="176.8" y="94.9" width="17.6" height="8.9" fill="#585858"/><rect x="194.1" y="94.9" width="17.6" height="8.9" fill="#484848"/><rect x="211.3" y="94.9" width="17.6" height="8.9" fill="#585858"/><rect x="228.6" y="94.9" width="17.6" height="8.9" fill="#484848"/><rect x="245.8" y="94.9" width="8.9" height="8.9" fill="#585858"/><rect x="254.4" y="94.9" width="65.0" height="8.9" fill="#484848"/><rect x="-17.2" y="103.5" width="21.9" height="8.9" fill="#484848"/><rect x="4.3" y="103.5" width="26.2" height="8.9" fill="#585858"/><rect x="30.2" y="103.5" width="8.9" height="8.9" fill="#686868"/><rect x="38.8" y="103.5" width="8.9" height="8.9" fill="#787878"/><rect x="47.4" y="103.5" width="8.9" height="8.9" fill="#686868"/><rect x="56.1" y="103.5" width="17.6" height="8.9" fill="#787878"/><rect x="73.3" y="103.5" width="8.9" height="8.9" fill="#878787"/><rect x="81.9" y="103.5" width="17.6" height="8.9" fill="#787878"/><rect x="99.2" y="103.5" width="8.9" height="8.9" fill="#686868"/><rect x="107.8" y="103.5" width="43.4" height="8.9" fill="#585858"/><rect x="150.9" y="103.5" width="8.9" height="8.9" fill="#686868"/><rect x="159.6" y="103.5" width="17.6" height="8.9" fill="#585858"/><rect x="176.8" y="103.5" width="8.9" height="8.9" fill="#484848"/><rect x="185.4" y="103.5" width="77.9" height="8.9" fill="#585858"/><rect x="263.1" y="103.5" width="56.4" height="8.9" fill="#484848"/><rect x="-17.2" y="112.1" width="13.2" height="8.9" fill="#484848"/><rect x="-4.3" y="112.1" width="8.9" height="8.9" fill="#585858"/><rect x="4.3" y="112.1" width="17.6" height="8.9" fill="#686868"/><rect x="21.6" y="112.1" width="69.3" height="8.9" fill="#585858"/><rect x="90.6" y="112.1" width="8.9" height="8.9" fill="#686868"/><rect x="99.2" y="112.1" width="8.9" height="8.9" fill="#585858"/><rect x="107.8" y="112.1" width="8.9" height="8.9" fill="#686868"/><rect x="116.4" y="112.1" width="86.5" height="8.9" fill="#585858"/><rect x="202.7" y="112.1" width="8.9" height="8.9" fill="#686868"/><rect x="211.3" y="112.1" width="8.9" height="8.9" fill="#585858"/><rect x="219.9" y="112.1" width="8.9" height="8.9" fill="#686868"/><rect x="228.6" y="112.1" width="17.6" height="8.9" fill="#585858"/><rect x="245.8" y="112.1" width="8.9" height="8.9" fill="#686868"/><rect x="254.4" y="112.1" width="17.6" height="8.9" fill="#585858"/><rect x="271.7" y="112.1" width="34.8" height="8.9" fill="#484848"/><rect x="306.2" y="112.1" width="13.2" height="8.9" fill="#585858"/><rect x="-17.2" y="120.8" width="168.5" height="21.9" fill="#585858"/><rect x="150.9" y="120.8" width="52.0" height="21.9" fill="#686868"/><rect x="202.7" y="120.8" width="17.6" height="21.9" fill="#787878"/><rect x="219.9" y="120.8" width="8.9" height="21.9" fill="#686868"/><rect x="228.6" y="120.8" width="90.9" height="21.9" fill="#585858"/></g>
<use href="#land"/>
</g>
<use href="#ax"/>
<text transform="translate(0.00 145.7) scale(0.94 1)" font-size="8.5" text-anchor="middle">0</text>
<text transform="translate(25.88 145.7) scale(0.94 1)" font-size="8.5" text-anchor="middle">30E</text>
<text transform="translate(51.75 145.7) scale(0.94 1)" font-size="8.5" text-anchor="middle">60E</text>
<text transform="translate(77.62 145.7) scale(0.94 1)" font-size="8.5" text-anchor="middle">90E</text>
<text transform="translate(103.50 145.7) scale(0.94 1)" font-size="8.5" text-anchor="middle">120E</text>
<text transform="translate(129.38 145.7) scale(0.94 1)" font-size="8.5" text-anchor="middle">150E</text>
<text transform="translate(155.25 145.7) scale(0.94 1)" font-size="8.5" text-anchor="middle">180</text>
<text transform="translate(181.12 145.7) scale(0.94 1)" font-size="8.5" text-anchor="middle">150W</text>
<text transform="translate(207.00 145.7) scale(0.94 1)" font-size="8.5" text-anchor="middle">120W</text>
<text transform="translate(232.88 145.7) scale(0.94 1)" font-size="8.5" text-anchor="middle">90W</text>
<text transform="translate(258.75 145.7) scale(0.94 1)" font-size="8.5" text-anchor="middle">60W</text>
<text transform="translate(284.62 145.7) scale(0.94 1)" font-size="8.5" text-anchor="middle">30W</text>
<text transform="translate(310.50 145.7) scale(0.94 1)" font-size="8.5" text-anchor="middle">0</text>
<text transform="translate(-9.8 15.94) scale(0.94 1)" font-size="8.5" text-anchor="end">60N</text>
<text transform="translate(-9.8 41.82) scale(0.94 1)" font-size="8.5" text-anchor="end">30N</text>
<text transform="translate(-9.8 67.70) scale(0.94 1)" font-size="8.5" text-anchor="end">0</text>
<text transform="translate(-9.8 93.58) scale(0.94 1)" font-size="8.5" text-anchor="end">30S</text>
<text transform="translate(-9.8 119.46) scale(0.94 1)" font-size="8.5" text-anchor="end">60S</text>
<text x="-0.6" y="-8.8" font-size="14" font-weight="bold">d</text>
<text x="310.5" y="-8.4" font-size="10.5" text-anchor="end">10-yr means</text>
</g>
<g transform="translate(23.8 356.5)">
<g clip-path="url(#mc)">
<g filter="url(#bl)"><rect x="-17.2" y="-12.9" width="13.2" height="21.9" fill="#303030"/><rect x="-4.3" y="-12.9" width="8.9" height="21.9" fill="#484848"/><rect x="4.3" y="-12.9" width="43.4" height="21.9" fill="#383838"/><rect x="47.4" y="-12.9" width="198.7" height="21.9" fill="#282828"/><rect x="245.8" y="-12.9" width="60.7" height="21.9" fill="#303030"/><rect x="306.2" y="-12.9" width="13.2" height="21.9" fill="#484848"/><rect x="-17.2" y="8.6" width="13.2" height="8.9" fill="#282828"/><rect x="-4.3" y="8.6" width="8.9" height="8.9" fill="#303030"/><rect x="4.3" y="8.6" width="112.4" height="8.9" fill="#282828"/><rect x="116.4" y="8.6" width="8.9" height="8.9" fill="#404040"/><rect x="125.1" y="8.6" width="8.9" height="8.9" fill="#484848"/><rect x="133.7" y="8.6" width="17.6" height="8.9" fill="#383838"/><rect x="150.9" y="8.6" width="26.2" height="8.9" fill="#303030"/><rect x="176.8" y="8.6" width="52.0" height="8.9" fill="#383838"/><rect x="228.6" y="8.6" width="17.6" height="8.9" fill="#282828"/><rect x="245.8" y="8.6" width="8.9" height="8.9" fill="#303030"/><rect x="254.4" y="8.6" width="17.6" height="8.9" fill="#404040"/><rect x="271.7" y="8.6" width="17.6" height="8.9" fill="#383838"/><rect x="288.9" y="8.6" width="8.9" height="8.9" fill="#303030"/><rect x="297.6" y="8.6" width="8.9" height="8.9" fill="#282828"/><rect x="306.2" y="8.6" width="13.2" height="8.9" fill="#303030"/><rect x="-17.2" y="17.3" width="134.0" height="8.9" fill="#282828"/><rect x="116.4" y="17.3" width="8.9" height="8.9" fill="#303030"/><rect x="125.1" y="17.3" width="8.9" height="8.9" fill="#383838"/><rect x="133.7" y="17.3" width="26.2" height="8.9" fill="#303030"/><rect x="159.6" y="17.3" width="8.9" height="8.9" fill="#282828"/><rect x="168.2" y="17.3" width="8.9" height="8.9" fill="#303030"/><rect x="176.8" y="17.3" width="69.3" height="8.9" fill="#383838"/><rect x="245.8" y="17.3" width="8.9" height="8.9" fill="#303030"/><rect x="254.4" y="17.3" width="8.9" height="8.9" fill="#383838"/><rect x="263.1" y="17.3" width="26.2" height="8.9" fill="#404040"/><rect x="288.9" y="17.3" width="8.9" height="8.9" fill="#383838"/><rect x="297.6" y="17.3" width="21.9" height="8.9" fill="#282828"/><rect x="-17.2" y="25.9" width="39.1" height="8.9" fill="#282828"/><rect x="21.6" y="25.9" width="8.9" height="8.9" fill="#303030"/><rect x="30.2" y="25.9" width="86.5" height="8.9" fill="#282828"/><rect x="116.4" y="25.9" width="8.9" height="8.9" fill="#202020"/><rect x="125.1" y="25.9" width="8.9" height="8.9" fill="#282828"/><rect x="133.7" y="25.9" width="8.9" height="8.9" fill="#303030"/><rect x="142.3" y="25.9" width="8.9" height="8.9" fill="#282828"/><rect x="150.9" y="25.9" width="8.9" height="8.9" fill="#303030"/><rect x="159.6" y="25.9" width="8.9" height="8.9" fill="#282828"/><rect x="168.2" y="25.9" width="8.9" height="8.9" fill="#303030"/><rect x="176.8" y="25.9" width="69.3" height="8.9" fill="#383838"/><rect x="245.8" y="25.9" width="8.9" height="8.9" fill="#303030"/><rect x="254.4" y="25.9" width="17.6" height="8.9" fill="#383838"/><rect x="271.7" y="25.9" width="17.6" height="8.9" fill="#303030"/><rect x="288.9" y="25.9" width="30.5" height="8.9" fill="#282828"/><rect x="-17.2" y="34.5" width="82.2" height="8.9" fill="#282828"/><rect x="64.7" y="34.5" width="52.0" height="8.9" fill="#202020"/><rect x="116.4" y="34.5" width="8.9" height="8.9" fill="#282828"/><rect x="125.1" y="34.5" width="8.9" height="8.9" fill="#202020"/><rect x="133.7" y="34.5" width="8.9" height="8.9" fill="#282828"/><rect x="142.3" y="34.5" width="8.9" height="8.9" fill="#202020"/><rect x="150.9" y="34.5" width="8.9" height="8.9" fill="#282828"/><rect x="159.6" y="34.5" width="8.9" height="8.9" fill="#202020"/><rect x="168.2" y="34.5" width="8.9" height="8.9" fill="#282828"/><rect x="176.8" y="34.5" width="8.9" height="8.9" fill="#303030"/><rect x="185.4" y="34.5" width="8.9" height="8.9" fill="#383838"/><rect x="194.1" y="34.5" width="8.9" height="8.9" fill="#303030"/><rect x="202.7" y="34.5" width="8.9" height="8.9" fill="#383838"/><rect x="211.3" y="34.5" width="17.6" height="8.9" fill="#303030"/><rect x="228.6" y="34.5" width="8.9" height="8.9" fill="#282828"/><rect x="237.2" y="34.5" width="17.6" height="8.9" fill="#383838"/><rect x="254.4" y="34.5" width="8.9" height="8.9" fill="#303030"/><rect x="263.1" y="34.5" width="56.4" height="8.9" fill="#282828"/><rect x="-17.2" y="43.1" width="13.2" height="8.9" fill="#202020"/><rect x="-4.3" y="43.1" width="52.0" height="8.9" fill="#282828"/><rect x="47.4" y="43.1" width="26.2" height="8.9" fill="#202020"/><rect x="73.3" y="43.1" width="8.9" height="8.9" fill="#181818"/><rect x="81.9" y="43.1" width="26.2" height="8.9" fill="#202020"/><rect x="107.8" y="43.1" width="8.9" height="8.9" fill="#282828"/><rect x="116.4" y="43.1" width="17.6" height="8.9" fill="#202020"/><rect x="133.7" y="43.1" width="43.4" height="8.9" fill="#282828"/><rect x="176.8" y="43.1" width="26.2" height="8.9" fill="#303030"/><rect x="202.7" y="43.1" width="8.9" height="8.9" fill="#383838"/><rect x="211.3" y="43.1" width="8.9" height="8.9" fill="#303030"/><rect x="219.9" y="43.1" width="8.9" height="8.9" fill="#282828"/><rect x="228.6" y="43.1" width="26.2" height="8.9" fill="#202020"/><rect x="254.4" y="43.1" width="34.8" height="8.9" fill="#181818"/><rect x="288.9" y="43.1" width="17.6" height="8.9" fill="#202020"/><rect x="306.2" y="43.1" width="13.2" height="8.9" fill="#282828"/><rect x="-17.2" y="51.8" width="82.2" height="8.9" fill="#202020"/><rect x="64.7" y="51.8" width="17.6" height="8.9" fill="#181818"/><rect x="81.9" y="51.8" width="26.2" height="8.9" fill="#202020"/><rect x="107.8" y="51.8" width="26.2" height="8.9" fill="#282828"/><rect x="133.7" y="51.8" width="17.6" height="8.9" fill="#303030"/><rect x="150.9" y="51.8" width="69.3" height="8.9" fill="#282828"/><rect x="219.9" y="51.8" width="34.8" height="8.9" fill="#202020"/><rect x="254.4" y="51.8" width="34.8" height="8.9" fill="#181818"/><rect x="288.9" y="51.8" width="30.5" height="8.9" fill="#202020"/><rect x="-17.2" y="60.4" width="56.4" height="8.9" fill="#202020"/><rect x="38.8" y="60.4" width="17.6" height="8.9" fill="#181818"/><rect x="56.1" y="60.4" width="8.9" height="8.9" fill="#202020"/><rect x="64.7" y="60.4" width="8.9" height="8.9" fill="#282828"/><rect x="73.3" y="60.4" width="43.4" height="8.9" fill="#202020"/><rect x="116.4" y="60.4" width="26.2" height="8.9" fill="#282828"/><rect x="142.3" y="60.4" width="8.9" height="8.9" fill="#202020"/><rect x="150.9" y="60.4" width="77.9" height="8.9" fill="#181818"/><rect x="228.6" y="60.4" width="52.0" height="8.9" fill="#202020"/><rect x="280.3" y="60.4" width="17.6" height="8.9" fill="#181818"/><rect x="297.6" y="60.4" width="21.9" height="8.9" fill="#202020"/><rect x="-17.2" y="69.0" width="21.9" height="8.9" fill="#282828"/><rect x="4.3" y="69.0" width="34.8" height="8.9" fill="#202020"/><rect x="38.8" y="69.0" width="8.9" height="8.9" fill="#181818"/><rect x="47.4" y="69.0" width="8.9" height="8.9" fill="#202020"/><rect x="56.1" y="69.0" width="8.9" height="8.9" fill="#282828"/><rect x="64.7" y="69.0" width="8.9" height="8.9" fill="#303030"/><rect x="73.3" y="69.0" width="17.6" height="8.9" fill="#282828"/><rect x="90.6" y="69.0" width="8.9" height="8.9" fill="#202020"/><rect x="99.2" y="69.0" width="26.2" height="8.9" fill="#282828"/><rect x="125.1" y="69.0" width="17.6" height="8.9" fill="#303030"/><rect x="142.3" y="69.0" width="26.2" height="8.9" fill="#282828"/><rect x="168.2" y="69.0" width="17.6" height="8.9" fill="#202020"/><rect x="185.4" y="69.0" width="8.9" height="8.9" fill="#181818"/><rect x="194.1" y="69.0" width="8.9" height="8.9" fill="#202020"/><rect x="202.7" y="69.0" width="8.9" height="8.9" fill="#181818"/><rect x="211.3" y="69.0" width="17.6" height="8.9" fill="#202020"/><rect x="228.6" y="69.0" width="8.9" height="8.9" fill="#282828"/><rect x="237.2" y="69.0" width="8.9" height="8.9" fill="#202020"/><rect x="245.8" y="69.0" width="73.6" height="8.9" fill="#282828"/><rect x="-17.2" y="77.6" width="47.7" height="8.9" fill="#282828"/><rect x="30.2" y="77.6" width="17.6" height="8.9" fill="#202020"/><rect x="47.4" y="77.6" width="26.2" height="8.9" fill="#282828"/><rect x="73.3" y="77.6" width="8.9" height="8.9" fill="#202020"/><rect x="81.9" y="77.6" width="52.0" height="8.9" fill="#282828"/><rect x="133.7" y="77.6" width="8.9" height="8.9" fill="#303030"/><rect x="142.3" y="77.6" width="8.9" height="8.9" fill="#383838"/><rect x="150.9" y="77.6" width="8.9" height="8.9" fill="#282828"/><rect x="159.6" y="77.6" width="8.9" height="8.9" fill="#202020"/><rect x="168.2" y="77.6" width="26.2" height="8.9" fill="#282828"/><rect x="194.1" y="77.6" width="17.6" height="8.9" fill="#303030"/><rect x="211.3" y="77.6" width="8.9" height="8.9" fill="#282828"/><rect x="219.9" y="77.6" width="17.6" height="8.9" fill="#303030"/><rect x="237.2" y="77.6" width="8.9" height="8.9" fill="#282828"/><rect x="245.8" y="77.6" width="8.9" height="8.9" fill="#202020"/><rect x="254.4" y="77.6" width="26.2" height="8.9" fill="#282828"/><rect x="280.3" y="77.6" width="8.9" height="8.9" fill="#303030"/><rect x="288.9" y="77.6" width="30.5" height="8.9" fill="#282828"/><rect x="-17.2" y="86.3" width="39.1" height="8.9" fill="#282828"/><rect x="21.6" y="86.3" width="8.9" height="8.9" fill="#303030"/><rect x="30.2" y="86.3" width="17.6" height="8.9" fill="#383838"/><rect x="47.4" y="86.3" width="8.9" height="8.9" fill="#303030"/><rect x="56.1" y="86.3" width="17.6" height="8.9" fill="#383838"/><rect x="73.3" y="86.3" width="8.9" height="8.9" fill="#303030"/><rect x="81.9" y="86.3" width="43.4" height="8.9" fill="#282828"/><rect x="125.1" y="86.3" width="8.9" height="8.9" fill="#303030"/><rect x="133.7" y="86.3" width="17.6" height="8.9" fill="#282828"/><rect x="150.9" y="86.3" width="8.9" height="8.9" fill="#303030"/><rect x="159.6" y="86.3" width="8.9" height="8.9" fill="#282828"/><rect x="168.2" y="86.3" width="8.9" height="8.9" fill="#303030"/><rect x="176.8" y="86.3" width="43.4" height="8.9" fill="#383838"/><rect x="219.9" y="86.3" width="17.6" height="8.9" fill="#303030"/><rect x="237.2" y="86.3" width="34.8" height="8.9" fill="#282828"/><rect x="271.7" y="86.3" width="8.9" height="8.9" fill="#303030"/><rect x="280.3" y="86.3" width="8.9" height="8.9" fill="#383838"/><rect x="288.9" y="86.3" width="8.9" height="8.9" fill="#303030"/><rect x="297.6" y="86.3" width="21.9" height="8.9" fill="#282828"/><rect x="-17.2" y="94.9" width="13.2" height="8.9" fill="#303030"/><rect x="-4.3" y="94.9" width="8.9" height="8.9" fill="#282828"/><rect x="4.3" y="94.9" width="8.9" height="8.9" fill="#383838"/><rect x="12.9" y="94.9" width="8.9" height="8.9" fill="#303030"/><rect x="21.6" y="94.9" width="17.6" height="8.9" fill="#282828"/><rect x="38.8" y="94.9" width="8.9" height="8.9" fill="#202020"/><rect x="47.4" y="94.9" width="34.8" height="8.9" fill="#303030"/><rect x="81.9" y="94.9" width="26.2" height="8.9" fill="#282828"/><rect x="107.8" y="94.9" width="8.9" height="8.9" fill="#202020"/><rect x="116.4" y="94.9" width="8.9" height="8.9" fill="#282828"/><rect x="125.1" y="94.9" width="8.9" height="8.9" fill="#404040"/><rect x="133.7" y="94.9" width="8.9" height="8.9" fill="#383838"/><rect x="142.3" y="94.9" width="26.2" height="8.9" fill="#303030"/><rect x="168.2" y="94.9" width="17.6" height="8.9" fill="#404040"/><rect x="185.4" y="94.9" width="8.9" height="8.9" fill="#383838"/><rect x="194.1" y="94.9" width="8.9" height="8.9" fill="#282828"/><rect x="202.7" y="94.9" width="17.6" height="8.9" fill="#202020"/><rect x="219.9" y="94.9" width="34.8" height="8.9" fill="#282828"/><rect x="254.4" y="94.9" width="8.9" height="8.9" fill="#484848"/><rect x="263.1" y="94.9" width="8.9" height="8.9" fill="#585858"/><rect x="271.7" y="94.9" width="8.9" height="8.9" fill="#484848"/><rect x="280.3" y="94.9" width="17.6" height="8.9" fill="#383838"/><rect x="297.6" y="94.9" width="8.9" height="8.9" fill="#303030"/><rect x="306.2" y="94.9" width="13.2" height="8.9" fill="#282828"/><rect x="-17.2" y="103.5" width="13.2" height="8.9" fill="#303030"/><rect x="-4.3" y="103.5" width="8.9" height="8.9" fill="#282828"/><rect x="4.3" y="103.5" width="8.9" height="8.9" fill="#383838"/><rect x="12.9" y="103.5" width="8.9" height="8.9" fill="#303030"/><rect x="21.6" y="103.5" width="17.6" height="8.9" fill="#383838"/><rect x="38.8" y="103.5" width="17.6" height="8.9" fill="#303030"/><rect x="56.1" y="103.5" width="26.2" height="8.9" fill="#383838"/><rect x="81.9" y="103.5" width="8.9" height="8.9" fill="#303030"/><rect x="90.6" y="103.5" width="8.9" height="8.9" fill="#282828"/><rect x="99.2" y="103.5" width="8.9" height="8.9" fill="#202020"/><rect x="107.8" y="103.5" width="34.8" height="8.9" fill="#282828"/><rect x="142.3" y="103.5" width="8.9" height="8.9" fill="#303030"/><rect x="150.9" y="103.5" width="8.9" height="8.9" fill="#383838"/><rect x="159.6" y="103.5" width="17.6" height="8.9" fill="#303030"/><rect x="176.8" y="103.5" width="17.6" height="8.9" fill="#282828"/><rect x="194.1" y="103.5" width="26.2" height="8.9" fill="#202020"/><rect x="219.9" y="103.5" width="34.8" height="8.9" fill="#282828"/><rect x="254.4" y="103.5" width="8.9" height="8.9" fill="#303030"/><rect x="263.1" y="103.5" width="8.9" height="8.9" fill="#282828"/><rect x="271.7" y="103.5" width="26.2" height="8.9" fill="#383838"/><rect x="297.6" y="103.5" width="8.9" height="8.9" fill="#303030"/><rect x="306.2" y="103.5" width="13.2" height="8.9" fill="#282828"/><rect x="-17.2" y="112.1" width="13.2" height="8.9" fill="#303030"/><rect x="-4.3" y="112.1" width="8.9" height="8.9" fill="#282828"/><rect x="4.3" y="112.1" width="8.9" height="8.9" fill="#303030"/><rect x="12.9" y="112.1" width="8.9" height="8.9" fill="#282828"/><rect x="21.6" y="112.1" width="8.9" height="8.9" fill="#303030"/><rect x="30.2" y="112.1" width="17.6" height="8.9" fill="#383838"/><rect x="47.4" y="112.1" width="17.6" height="8.9" fill="#303030"/><rect x="64.7" y="112.1" width="8.9" height="8.9" fill="#282828"/><rect x="73.3" y="112.1" width="8.9" height="8.9" fill="#303030"/><rect x="81.9" y="112.1" width="52.0" height="8.9" fill="#282828"/><rect x="133.7" y="112.1" width="17.6" height="8.9" fill="#303030"/><rect x="150.9" y="112.1" width="8.9" height="8.9" fill="#282828"/><rect x="159.6" y="112.1" width="17.6" height="8.9" fill="#303030"/><rect x="176.8" y="112.1" width="69.3" height="8.9" fill="#282828"/><rect x="245.8" y="112.1" width="8.9" height="8.9" fill="#303030"/><rect x="254.4" y="112.1" width="17.6" height="8.9" fill="#282828"/><rect x="271.7" y="112.1" width="17.6" height="8.9" fill="#383838"/><rect x="288.9" y="112.1" width="17.6" height="8.9" fill="#303030"/><rect x="306.2" y="112.1" width="13.2" height="8.9" fill="#282828"/><rect x="-17.2" y="120.8" width="90.9" height="21.9" fill="#303030"/><rect x="73.3" y="120.8" width="86.5" height="21.9" fill="#282828"/><rect x="159.6" y="120.8" width="17.6" height="21.9" fill="#303030"/><rect x="176.8" y="120.8" width="17.6" height="21.9" fill="#282828"/><rect x="194.1" y="120.8" width="17.6" height="21.9" fill="#303030"/><rect x="211.3" y="120.8" width="86.5" height="21.9" fill="#282828"/><rect x="297.6" y="120.8" width="21.9" height="21.9" fill="#303030"/></g>
<use href="#land"/>
</g>
<use href="#ax"/>
<text transform="translate(0.00 145.7) scale(0.94 1)" font-size="8.5" text-anchor="middle">0</text>
<text transform="translate(25.88 145.7) scale(0.94 1)" font-size="8.5" text-anchor="middle">30E</text>
<text transform="translate(51.75 145.7) scale(0.94 1)" font-size="8.5" text-anchor="middle">60E</text>
<text transform="translate(77.62 145.7) scale(0.94 1)" font-size="8.5" text-anchor="middle">90E</text>
<text transform="translate(103.50 145.7) scale(0.94 1)" font-size="8.5" text-anchor="middle">120E</text>
<text transform="translate(129.38 145.7) scale(0.94 1)" font-size="8.5" text-anchor="middle">150E</text>
<text transform="translate(155.25 145.7) scale(0.94 1)" font-size="8.5" text-anchor="middle">180</text>
<text transform="translate(181.12 145.7) scale(0.94 1)" font-size="8.5" text-anchor="middle">150W</text>
<text transform="translate(207.00 145.7) scale(0.94 1)" font-size="8.5" text-anchor="middle">120W</text>
<text transform="translate(232.88 145.7) scale(0.94 1)" font-size="8.5" text-anchor="middle">90W</text>
<text transform="translate(258.75 145.7) scale(0.94 1)" font-size="8.5" text-anchor="middle">60W</text>
<text transform="translate(284.62 145.7) scale(0.94 1)" font-size="8.5" text-anchor="middle">30W</text>
<text transform="translate(310.50 145.7) scale(0.94 1)" font-size="8.5" text-anchor="middle">0</text>
<text transform="translate(-9.8 15.94) scale(0.94 1)" font-size="8.5" text-anchor="end">60N</text>
<text transform="translate(-9.8 41.82) scale(0.94 1)" font-size="8.5" text-anchor="end">30N</text>
<text transform="translate(-9.8 67.70) scale(0.94 1)" font-size="8.5" text-anchor="end">0</text>
<text transform="translate(-9.8 93.58) scale(0.94 1)" font-size="8.5" text-anchor="end">30S</text>
<text transform="translate(-9.8 119.46) scale(0.94 1)" font-size="8.5" text-anchor="end">60S</text>
<text x="-0.6" y="-8.8" font-size="14" font-weight="bold">e</text>
<text x="310.5" y="-8.4" font-size="10.5" text-anchor="end">25-yr means</text>
</g>
<g transform="translate(369.6 356.5)">
<g clip-path="url(#mc)">
<g filter="url(#bl)"><rect x="-17.2" y="-12.9" width="90.9" height="21.9" fill="#282828"/><rect x="73.3" y="-12.9" width="77.9" height="21.9" fill="#202020"/><rect x="150.9" y="-12.9" width="77.9" height="21.9" fill="#282828"/><rect x="228.6" y="-12.9" width="17.6" height="21.9" fill="#202020"/><rect x="245.8" y="-12.9" width="73.6" height="21.9" fill="#282828"/><rect x="-17.2" y="8.6" width="13.2" height="8.9" fill="#303030"/><rect x="-4.3" y="8.6" width="138.3" height="8.9" fill="#202020"/><rect x="133.7" y="8.6" width="8.9" height="8.9" fill="#282828"/><rect x="142.3" y="8.6" width="43.4" height="8.9" fill="#303030"/><rect x="185.4" y="8.6" width="43.4" height="8.9" fill="#282828"/><rect x="228.6" y="8.6" width="17.6" height="8.9" fill="#202020"/><rect x="245.8" y="8.6" width="8.9" height="8.9" fill="#282828"/><rect x="254.4" y="8.6" width="17.6" height="8.9" fill="#303030"/><rect x="271.7" y="8.6" width="8.9" height="8.9" fill="#282828"/><rect x="280.3" y="8.6" width="8.9" height="8.9" fill="#202020"/><rect x="288.9" y="8.6" width="8.9" height="8.9" fill="#282828"/><rect x="297.6" y="8.6" width="8.9" height="8.9" fill="#303030"/><rect x="306.2" y="8.6" width="13.2" height="8.9" fill="#202020"/><rect x="-17.2" y="17.3" width="13.2" height="8.9" fill="#282828"/><rect x="-4.3" y="17.3" width="146.9" height="8.9" fill="#202020"/><rect x="142.3" y="17.3" width="34.8" height="8.9" fill="#282828"/><rect x="176.8" y="17.3" width="8.9" height="8.9" fill="#202020"/><rect x="185.4" y="17.3" width="43.4" height="8.9" fill="#282828"/><rect x="228.6" y="17.3" width="60.7" height="8.9" fill="#202020"/><rect x="288.9" y="17.3" width="17.6" height="8.9" fill="#282828"/><rect x="306.2" y="17.3" width="13.2" height="8.9" fill="#202020"/><rect x="-17.2" y="25.9" width="65.0" height="8.9" fill="#202020"/><rect x="47.4" y="25.9" width="8.9" height="8.9" fill="#282828"/><rect x="56.1" y="25.9" width="60.7" height="8.9" fill="#202020"/><rect x="116.4" y="25.9" width="17.6" height="8.9" fill="#181818"/><rect x="133.7" y="25.9" width="69.3" height="8.9" fill="#202020"/><rect x="202.7" y="25.9" width="26.2" height="8.9" fill="#282828"/><rect x="228.6" y="25.9" width="26.2" height="8.9" fill="#202020"/><rect x="254.4" y="25.9" width="26.2" height="8.9" fill="#282828"/><rect x="280.3" y="25.9" width="39.1" height="8.9" fill="#202020"/><rect x="-17.2" y="34.5" width="134.0" height="8.9" fill="#202020"/><rect x="116.4" y="34.5" width="8.9" height="8.9" fill="#282828"/><rect x="125.1" y="34.5" width="8.9" height="8.9" fill="#202020"/><rect x="133.7" y="34.5" width="8.9" height="8.9" fill="#282828"/><rect x="142.3" y="34.5" width="34.8" height="8.9" fill="#202020"/><rect x="176.8" y="34.5" width="8.9" height="8.9" fill="#181818"/><rect x="185.4" y="34.5" width="17.6" height="8.9" fill="#202020"/><rect x="202.7" y="34.5" width="17.6" height="8.9" fill="#282828"/><rect x="219.9" y="34.5" width="99.5" height="8.9" fill="#202020"/><rect x="-17.2" y="43.1" width="13.2" height="8.9" fill="#282828"/><rect x="-4.3" y="43.1" width="121.0" height="8.9" fill="#202020"/><rect x="116.4" y="43.1" width="8.9" height="8.9" fill="#282828"/><rect x="125.1" y="43.1" width="17.6" height="8.9" fill="#202020"/><rect x="142.3" y="43.1" width="17.6" height="8.9" fill="#282828"/><rect x="159.6" y="43.1" width="43.4" height="8.9" fill="#202020"/><rect x="202.7" y="43.1" width="17.6" height="8.9" fill="#282828"/><rect x="219.9" y="43.1" width="26.2" height="8.9" fill="#202020"/><rect x="245.8" y="43.1" width="60.7" height="8.9" fill="#282828"/><rect x="306.2" y="43.1" width="13.2" height="8.9" fill="#202020"/><rect x="-17.2" y="51.8" width="125.4" height="8.9" fill="#202020"/><rect x="107.8" y="51.8" width="8.9" height="8.9" fill="#282828"/><rect x="116.4" y="51.8" width="26.2" height="8.9" fill="#202020"/><rect x="142.3" y="51.8" width="17.6" height="8.9" fill="#282828"/><rect x="159.6" y="51.8" width="69.3" height="8.9" fill="#202020"/><rect x="228.6" y="51.8" width="8.9" height="8.9" fill="#282828"/><rect x="237.2" y="51.8" width="17.6" height="8.9" fill="#202020"/><rect x="254.4" y="51.8" width="17.6" height="8.9" fill="#282828"/><rect x="271.7" y="51.8" width="47.7" height="8.9" fill="#202020"/><rect x="-17.2" y="60.4" width="82.2" height="8.9" fill="#202020"/><rect x="64.7" y="60.4" width="8.9" height="8.9" fill="#282828"/><rect x="73.3" y="60.4" width="34.8" height="8.9" fill="#202020"/><rect x="107.8" y="60.4" width="8.9" height="8.9" fill="#282828"/><rect x="116.4" y="60.4" width="17.6" height="8.9" fill="#202020"/><rect x="133.7" y="60.4" width="8.9" height="8.9" fill="#282828"/><rect x="142.3" y="60.4" width="8.9" height="8.9" fill="#303030"/><rect x="150.9" y="60.4" width="43.4" height="8.9" fill="#383838"/><rect x="194.1" y="60.4" width="43.4" height="8.9" fill="#303030"/><rect x="237.2" y="60.4" width="8.9" height="8.9" fill="#282828"/><rect x="245.8" y="60.4" width="73.6" height="8.9" fill="#202020"/><rect x="-17.2" y="69.0" width="90.9" height="8.9" fill="#202020"/><rect x="73.3" y="69.0" width="8.9" height="8.9" fill="#282828"/><rect x="81.9" y="69.0" width="8.9" height="8.9" fill="#202020"/><rect x="90.6" y="69.0" width="8.9" height="8.9" fill="#282828"/><rect x="99.2" y="69.0" width="17.6" height="8.9" fill="#202020"/><rect x="116.4" y="69.0" width="43.4" height="8.9" fill="#282828"/><rect x="159.6" y="69.0" width="26.2" height="8.9" fill="#202020"/><rect x="185.4" y="69.0" width="17.6" height="8.9" fill="#282828"/><rect x="202.7" y="69.0" width="26.2" height="8.9" fill="#202020"/><rect x="228.6" y="69.0" width="8.9" height="8.9" fill="#282828"/><rect x="237.2" y="69.0" width="82.2" height="8.9" fill="#202020"/><rect x="-17.2" y="77.6" width="90.9" height="8.9" fill="#202020"/><rect x="73.3" y="77.6" width="17.6" height="8.9" fill="#282828"/><rect x="90.6" y="77.6" width="34.8" height="8.9" fill="#202020"/><rect x="125.1" y="77.6" width="8.9" height="8.9" fill="#282828"/><rect x="133.7" y="77.6" width="8.9" height="8.9" fill="#202020"/><rect x="142.3" y="77.6" width="17.6" height="8.9" fill="#282828"/><rect x="159.6" y="77.6" width="8.9" height="8.9" fill="#202020"/><rect x="168.2" y="77.6" width="26.2" height="8.9" fill="#282828"/><rect x="194.1" y="77.6" width="26.2" height="8.9" fill="#202020"/><rect x="219.9" y="77.6" width="8.9" height="8.9" fill="#282828"/><rect x="228.6" y="77.6" width="8.9" height="8.9" fill="#202020"/><rect x="237.2" y="77.6" width="34.8" height="8.9" fill="#282828"/><rect x="271.7" y="77.6" width="8.9" height="8.9" fill="#202020"/><rect x="280.3" y="77.6" width="17.6" height="8.9" fill="#282828"/><rect x="297.6" y="77.6" width="21.9" height="8.9" fill="#202020"/><rect x="-17.2" y="86.3" width="21.9" height="8.9" fill="#202020"/><rect x="4.3" y="86.3" width="17.6" height="8.9" fill="#282828"/><rect x="21.6" y="86.3" width="8.9" height="8.9" fill="#303030"/><rect x="30.2" y="86.3" width="8.9" height="8.9" fill="#282828"/><rect x="38.8" y="86.3" width="17.6" height="8.9" fill="#202020"/><rect x="56.1" y="86.3" width="69.3" height="8.9" fill="#282828"/><rect x="125.1" y="86.3" width="17.6" height="8.9" fill="#202020"/><rect x="142.3" y="86.3" width="17.6" height="8.9" fill="#282828"/><rect x="159.6" y="86.3" width="17.6" height="8.9" fill="#303030"/><rect x="176.8" y="86.3" width="8.9" height="8.9" fill="#282828"/><rect x="185.4" y="86.3" width="26.2" height="8.9" fill="#202020"/><rect x="211.3" y="86.3" width="17.6" height="8.9" fill="#282828"/><rect x="228.6" y="86.3" width="8.9" height="8.9" fill="#202020"/><rect x="237.2" y="86.3" width="26.2" height="8.9" fill="#282828"/><rect x="263.1" y="86.3" width="26.2" height="8.9" fill="#202020"/><rect x="288.9" y="86.3" width="8.9" height="8.9" fill="#282828"/><rect x="297.6" y="86.3" width="21.9" height="8.9" fill="#202020"/><rect x="-17.2" y="94.9" width="13.2" height="8.9" fill="#202020"/><rect x="-4.3" y="94.9" width="26.2" height="8.9" fill="#282828"/><rect x="21.6" y="94.9" width="8.9" height="8.9" fill="#202020"/><rect x="30.2" y="94.9" width="8.9" height="8.9" fill="#282828"/><rect x="38.8" y="94.9" width="8.9" height="8.9" fill="#202020"/><rect x="47.4" y="94.9" width="8.9" height="8.9" fill="#282828"/><rect x="56.1" y="94.9" width="26.2" height="8.9" fill="#303030"/><rect x="81.9" y="94.9" width="17.6" height="8.9" fill="#282828"/><rect x="99.2" y="94.9" width="17.6" height="8.9" fill="#303030"/><rect x="116.4" y="94.9" width="8.9" height="8.9" fill="#282828"/><rect x="125.1" y="94.9" width="8.9" height="8.9" fill="#202020"/><rect x="133.7" y="94.9" width="17.6" height="8.9" fill="#282828"/><rect x="150.9" y="94.9" width="17.6" height="8.9" fill="#303030"/><rect x="168.2" y="94.9" width="17.6" height="8.9" fill="#282828"/><rect x="185.4" y="94.9" width="8.9" height="8.9" fill="#202020"/><rect x="194.1" y="94.9" width="34.8" height="8.9" fill="#282828"/><rect x="228.6" y="94.9" width="8.9" height="8.9" fill="#202020"/><rect x="237.2" y="94.9" width="17.6" height="8.9" fill="#282828"/><rect x="254.4" y="94.9" width="8.9" height="8.9" fill="#202020"/><rect x="263.1" y="94.9" width="17.6" height="8.9" fill="#282828"/><rect x="280.3" y="94.9" width="26.2" height="8.9" fill="#202020"/><rect x="306.2" y="94.9" width="13.2" height="8.9" fill="#282828"/><rect x="-17.2" y="103.5" width="13.2" height="8.9" fill="#202020"/><rect x="-4.3" y="103.5" width="8.9" height="8.9" fill="#282828"/><rect x="4.3" y="103.5" width="8.9" height="8.9" fill="#202020"/><rect x="12.9" y="103.5" width="17.6" height="8.9" fill="#282828"/><rect x="30.2" y="103.5" width="8.9" height="8.9" fill="#303030"/><rect x="38.8" y="103.5" width="17.6" height="8.9" fill="#282828"/><rect x="56.1" y="103.5" width="8.9" height="8.9" fill="#303030"/><rect x="64.7" y="103.5" width="17.6" height="8.9" fill="#383838"/><rect x="81.9" y="103.5" width="17.6" height="8.9" fill="#303030"/><rect x="99.2" y="103.5" width="8.9" height="8.9" fill="#282828"/><rect x="107.8" y="103.5" width="8.9" height="8.9" fill="#202020"/><rect x="116.4" y="103.5" width="34.8" height="8.9" fill="#282828"/><rect x="150.9" y="103.5" width="17.6" height="8.9" fill="#303030"/><rect x="168.2" y="103.5" width="8.9" height="8.9" fill="#282828"/><rect x="176.8" y="103.5" width="17.6" height="8.9" fill="#202020"/><rect x="194.1" y="103.5" width="95.2" height="8.9" fill="#282828"/><rect x="288.9" y="103.5" width="17.6" height="8.9" fill="#202020"/><rect x="306.2" y="103.5" width="13.2" height="8.9" fill="#282828"/><rect x="-17.2" y="112.1" width="13.2" height="8.9" fill="#202020"/><rect x="-4.3" y="112.1" width="34.8" height="8.9" fill="#303030"/><rect x="30.2" y="112.1" width="52.0" height="8.9" fill="#282828"/><rect x="81.9" y="112.1" width="17.6" height="8.9" fill="#202020"/><rect x="99.2" y="112.1" width="34.8" height="8.9" fill="#282828"/><rect x="133.7" y="112.1" width="8.9" height="8.9" fill="#202020"/><rect x="142.3" y="112.1" width="43.4" height="8.9" fill="#282828"/><rect x="185.4" y="112.1" width="17.6" height="8.9" fill="#303030"/><rect x="202.7" y="112.1" width="43.4" height="8.9" fill="#282828"/><rect x="245.8" y="112.1" width="8.9" height="8.9" fill="#303030"/><rect x="254.4" y="112.1" width="17.6" height="8.9" fill="#282828"/><rect x="271.7" y="112.1" width="8.9" height="8.9" fill="#202020"/><rect x="280.3" y="112.1" width="17.6" height="8.9" fill="#282828"/><rect x="297.6" y="112.1" width="8.9" height="8.9" fill="#202020"/><rect x="306.2" y="112.1" width="13.2" height="8.9" fill="#303030"/><rect x="-17.2" y="120.8" width="168.5" height="21.9" fill="#282828"/><rect x="150.9" y="120.8" width="77.9" height="21.9" fill="#303030"/><rect x="228.6" y="120.8" width="90.9" height="21.9" fill="#282828"/></g>
<use href="#land"/>
</g>
<use href="#ax"/>
<text transform="translate(0.00 145.7) scale(0.94 1)" font-size="8.5" text-anchor="middle">0</text>
<text transform="translate(25.88 145.7) scale(0.94 1)" font-size="8.5" text-anchor="middle">30E</text>
<text transform="translate(51.75 145.7) scale(0.94 1)" font-size="8.5" text-anchor="middle">60E</text>
<text transform="translate(77.62 145.7) scale(0.94 1)" font-size="8.5" text-anchor="middle">90E</text>
<text transform="translate(103.50 145.7) scale(0.94 1)" font-size="8.5" text-anchor="middle">120E</text>
<text transform="translate(129.38 145.7) scale(0.94 1)" font-size="8.5" text-anchor="middle">150E</text>
<text transform="translate(155.25 145.7) scale(0.94 1)" font-size="8.5" text-anchor="middle">180</text>
<text transform="translate(181.12 145.7) scale(0.94 1)" font-size="8.5" text-anchor="middle">150W</text>
<text transform="translate(207.00 145.7) scale(0.94 1)" font-size="8.5" text-anchor="middle">120W</text>
<text transform="translate(232.88 145.7) scale(0.94 1)" font-size="8.5" text-anchor="middle">90W</text>
<text transform="translate(258.75 145.7) scale(0.94 1)" font-size="8.5" text-anchor="middle">60W</text>
<text transform="translate(284.62 145.7) scale(0.94 1)" font-size="8.5" text-anchor="middle">30W</text>
<text transform="translate(310.50 145.7) scale(0.94 1)" font-size="8.5" text-anchor="middle">0</text>
<text transform="translate(-9.8 15.94) scale(0.94 1)" font-size="8.5" text-anchor="end">60N</text>
<text transform="translate(-9.8 41.82) scale(0.94 1)" font-size="8.5" text-anchor="end">30N</text>
<text transform="translate(-9.8 67.70) scale(0.94 1)" font-size="8.5" text-anchor="end">0</text>
<text transform="translate(-9.8 93.58) scale(0.94 1)" font-size="8.5" text-anchor="end">30S</text>
<text transform="translate(-9.8 119.46) scale(0.94 1)" font-size="8.5" text-anchor="end">60S</text>
<text x="-0.6" y="-8.8" font-size="14" font-weight="bold">f</text>
<text x="310.5" y="-8.4" font-size="10.5" text-anchor="end">25-yr means</text>
</g>
<polygon points="64.02 518.85 100.20 513.20 100.20 524.50" fill="#313695"/><rect x="100.20" y="513.20" width="36.18" height="11.30" fill="#3e60aa"/><rect x="136.38" y="513.20" width="36.18" height="11.30" fill="#5588be"/><rect x="172.56" y="513.20" width="36.18" height="11.30" fill="#74add1"/><rect x="208.74" y="513.20" width="36.18" height="11.30" fill="#99cae1"/><rect x="244.92" y="513.20" width="36.18" height="11.30" fill="#bde2ee"/><rect x="281.10" y="513.20" width="36.18" height="11.30" fill="#e0f3f8"/><rect x="317.28" y="513.20" width="36.18" height="11.30" fill="#f5fbd2"/><rect x="353.46" y="513.20" width="36.18" height="11.30" fill="#fff5af"/><rect x="389.64" y="513.20" width="36.18" height="11.30" fill="#fee090"/><rect x="425.82" y="513.20" width="36.18" height="11.30" fill="#fdbf71"/><rect x="462.00" y="513.20" width="36.18" height="11.30" fill="#fa9857"/><rect x="498.18" y="513.20" width="36.18" height="11.30" fill="#f46d43"/><rect x="534.36" y="513.20" width="36.18" height="11.30" fill="#e14430"/><rect x="570.54" y="513.20" width="36.18" height="11.30" fill="#c62027"/><polygon points="606.72 513.20 642.90 518.85 606.72 524.50" fill="#a50026"/><path d="M64.02 518.85L100.20 513.20L606.72 513.20L642.90 518.85L606.72 524.50L100.20 524.50ZM100.20 513.20V524.50M136.38 513.20V524.50M172.56 513.20V524.50M208.74 513.20V524.50M244.92 513.20V524.50M281.10 513.20V524.50M317.28 513.20V524.50M353.46 513.20V524.50M389.64 513.20V524.50M425.82 513.20V524.50M462.00 513.20V524.50M498.18 513.20V524.50M534.36 513.20V524.50M570.54 513.20V524.50M606.72 513.20V524.50" fill="none" stroke="#000" stroke-width="0.8"/><text x="100.20" y="535.7" font-size="10.5" text-anchor="middle">0.02</text><text x="136.38" y="535.7" font-size="10.5" text-anchor="middle">0.04</text><text x="172.56" y="535.7" font-size="10.5" text-anchor="middle">0.06</text><text x="208.74" y="535.7" font-size="10.5" text-anchor="middle">0.08</text><text x="244.92" y="535.7" font-size="10.5" text-anchor="middle">0.1</text><text x="281.10" y="535.7" font-size="10.5" text-anchor="middle">0.12</text><text x="317.28" y="535.7" font-size="10.5" text-anchor="middle">0.14</text><text x="353.46" y="535.7" font-size="10.5" text-anchor="middle">0.16</text><text x="389.64" y="535.7" font-size="10.5" text-anchor="middle">0.18</text><text x="425.82" y="535.7" font-size="10.5" text-anchor="middle">0.2</text><text x="462.00" y="535.7" font-size="10.5" text-anchor="middle">0.22</text><text x="498.18" y="535.7" font-size="10.5" text-anchor="middle">0.24</text><text x="534.36" y="535.7" font-size="10.5" text-anchor="middle">0.26</text><text x="570.54" y="535.7" font-size="10.5" text-anchor="middle">0.28</text><text x="606.72" y="535.7" font-size="10.5" text-anchor="middle">0.3</text>
</svg></body></html>
